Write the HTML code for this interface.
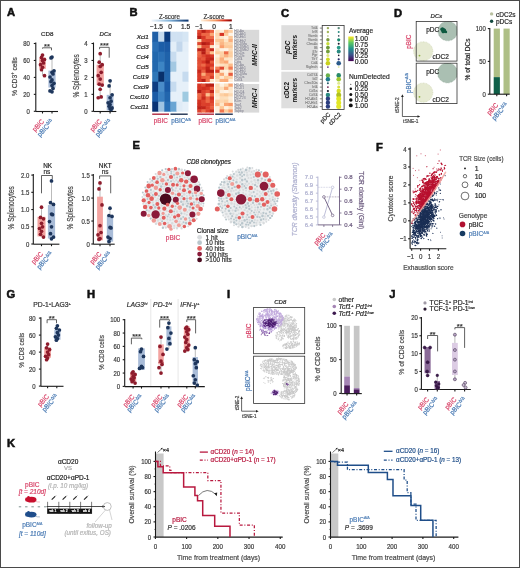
<!DOCTYPE html>
<html><head><meta charset="utf-8"><style>
html,body{margin:0;padding:0;background:#fff;}
#fig{position:relative;width:520px;height:568px;overflow:hidden;background:#fff;}
svg{position:absolute;left:0;top:0;filter:blur(0.45px);}
text{font-family:"Liberation Sans", sans-serif;}
#bd{position:absolute;left:0;top:0;width:518px;height:566px;border:1px solid #4a4a4a;}
</style></head><body><div id="fig">
<svg width="520" height="568" viewBox="0 0 520 568">
<text x="7.10" y="12.00" font-size="11.2" text-anchor="start" dominant-baseline="central" fill="#111" font-weight="bold" stroke="#111" stroke-width="0.55">A</text>
<text x="47.30" y="33.50" font-size="6.2" text-anchor="middle" dominant-baseline="central" fill="#282828" stroke="#282828" stroke-width="0.2">CD8</text>
<line x1="35.80" y1="42.50" x2="35.80" y2="111.50" stroke="#1a1a1a" stroke-width="1.1"/>
<line x1="33.80" y1="43.50" x2="35.80" y2="43.50" stroke="#1a1a1a" stroke-width="1.1"/>
<text x="29.80" y="43.50" font-size="7.02" text-anchor="end" dominant-baseline="central" fill="#3a3a3a" stroke="#3a3a3a" stroke-width="0.2" textLength="6.67" lengthAdjust="spacingAndGlyphs">80</text>
<line x1="33.80" y1="60.45" x2="35.80" y2="60.45" stroke="#1a1a1a" stroke-width="1.1"/>
<text x="29.80" y="60.45" font-size="7.02" text-anchor="end" dominant-baseline="central" fill="#3a3a3a" stroke="#3a3a3a" stroke-width="0.2" textLength="6.67" lengthAdjust="spacingAndGlyphs">60</text>
<line x1="33.80" y1="77.40" x2="35.80" y2="77.40" stroke="#1a1a1a" stroke-width="1.1"/>
<text x="29.80" y="77.40" font-size="7.02" text-anchor="end" dominant-baseline="central" fill="#3a3a3a" stroke="#3a3a3a" stroke-width="0.2" textLength="6.67" lengthAdjust="spacingAndGlyphs">40</text>
<line x1="33.80" y1="94.35" x2="35.80" y2="94.35" stroke="#1a1a1a" stroke-width="1.1"/>
<text x="29.80" y="94.35" font-size="7.02" text-anchor="end" dominant-baseline="central" fill="#3a3a3a" stroke="#3a3a3a" stroke-width="0.2" textLength="6.67" lengthAdjust="spacingAndGlyphs">20</text>
<line x1="33.80" y1="111.30" x2="35.80" y2="111.30" stroke="#1a1a1a" stroke-width="1.1"/>
<text x="29.80" y="111.30" font-size="7.02" text-anchor="end" dominant-baseline="central" fill="#3a3a3a" stroke="#3a3a3a" stroke-width="0.2" textLength="3.34" lengthAdjust="spacingAndGlyphs">0</text>
<line x1="35.80" y1="111.50" x2="58.00" y2="111.50" stroke="#1a1a1a" stroke-width="1.1"/>
<line x1="42.50" y1="111.50" x2="42.50" y2="113.50" stroke="#1a1a1a" stroke-width="1.1"/>
<line x1="52.00" y1="111.50" x2="52.00" y2="113.50" stroke="#1a1a1a" stroke-width="1.1"/>
<text x="14.10" y="79.37" font-size="8.0" text-anchor="middle" fill="#474747" stroke="#474747" stroke-width="0.2" transform="rotate(-90 14.10 76.60)" textLength="38.8" lengthAdjust="spacingAndGlyphs">% CD3<tspan font-size="5" dy="-2.6">+</tspan><tspan dy="2.6"> cells</tspan></text>
<line x1="42.50" y1="55.03" x2="42.50" y2="75.70" stroke="#777" stroke-width="0.5"/>
<rect x="39.20" y="57.48" width="6.60" height="11.44" fill="#f3a3a0"/>
<circle cx="42.50" cy="55.03" r="1.85" fill="#8e1c2c"/>
<circle cx="41.50" cy="57.40" r="1.85" fill="#8e1c2c"/>
<circle cx="44.50" cy="59.60" r="1.85" fill="#8e1c2c"/>
<circle cx="42.50" cy="60.45" r="1.85" fill="#8e1c2c"/>
<circle cx="43.50" cy="62.99" r="1.85" fill="#8e1c2c"/>
<circle cx="40.50" cy="64.69" r="1.85" fill="#8e1c2c"/>
<circle cx="42.50" cy="67.23" r="1.85" fill="#8e1c2c"/>
<circle cx="41.50" cy="69.77" r="1.85" fill="#8e1c2c"/>
<circle cx="44.50" cy="75.70" r="1.85" fill="#8e1c2c"/>
<line x1="52.00" y1="57.06" x2="52.00" y2="91.81" stroke="#777" stroke-width="0.5"/>
<rect x="48.40" y="70.62" width="7.20" height="16.95" fill="#a9bcd8"/>
<circle cx="52.00" cy="57.06" r="1.85" fill="#1e365c"/>
<circle cx="51.00" cy="57.91" r="1.85" fill="#1e365c"/>
<circle cx="54.00" cy="70.87" r="1.85" fill="#1e365c"/>
<circle cx="52.00" cy="72.31" r="1.85" fill="#1e365c"/>
<circle cx="53.00" cy="74.01" r="1.85" fill="#1e365c"/>
<circle cx="50.00" cy="76.98" r="1.85" fill="#1e365c"/>
<circle cx="52.00" cy="79.94" r="1.85" fill="#1e365c"/>
<circle cx="51.00" cy="81.64" r="1.85" fill="#1e365c"/>
<circle cx="54.00" cy="83.33" r="1.85" fill="#1e365c"/>
<circle cx="52.00" cy="85.54" r="1.85" fill="#1e365c"/>
<circle cx="53.00" cy="88.42" r="1.85" fill="#1e365c"/>
<circle cx="50.00" cy="90.96" r="1.85" fill="#1e365c"/>
<circle cx="52.00" cy="91.81" r="1.85" fill="#1e365c"/>
<path d="M42.50,48.60 L42.50,47.80 L51.50,47.80 L51.50,50.30" stroke="#444" fill="none" stroke-width="0.85"/>
<text x="47.00" y="46.40" font-size="7.6" text-anchor="middle" dominant-baseline="central" fill="#333" stroke="#333" stroke-width="0.2">**</text>
<text x="42.60" y="120.30" font-size="7.0" text-anchor="end" dominant-baseline="central" fill="#d8466a" stroke="#d8466a" stroke-width="0.2" transform="rotate(-48 42.60 120.30)" textLength="13.6" lengthAdjust="spacingAndGlyphs">pBIC</text>
<text x="52.10" y="122.73" font-size="7.0" text-anchor="end" fill="#4d7db5" stroke="#4d7db5" stroke-width="0.2" transform="rotate(-48 52.10 120.30)" textLength="20.5" lengthAdjust="spacingAndGlyphs">pBIC<tspan font-size="4.6" dy="-2.4">Δ/Δ</tspan></text>
<text x="105.40" y="33.50" font-size="6" text-anchor="middle" dominant-baseline="central" fill="#282828" stroke="#282828" stroke-width="0.2" font-style="italic">DCs</text>
<line x1="93.50" y1="42.50" x2="93.50" y2="111.50" stroke="#1a1a1a" stroke-width="1.1"/>
<line x1="91.50" y1="43.50" x2="93.50" y2="43.50" stroke="#1a1a1a" stroke-width="1.1"/>
<text x="87.50" y="43.50" font-size="7.02" text-anchor="end" dominant-baseline="central" fill="#3a3a3a" stroke="#3a3a3a" stroke-width="0.2" textLength="3.34" lengthAdjust="spacingAndGlyphs">4</text>
<line x1="91.50" y1="60.45" x2="93.50" y2="60.45" stroke="#1a1a1a" stroke-width="1.1"/>
<text x="87.50" y="60.45" font-size="7.02" text-anchor="end" dominant-baseline="central" fill="#3a3a3a" stroke="#3a3a3a" stroke-width="0.2" textLength="3.34" lengthAdjust="spacingAndGlyphs">3</text>
<line x1="91.50" y1="77.40" x2="93.50" y2="77.40" stroke="#1a1a1a" stroke-width="1.1"/>
<text x="87.50" y="77.40" font-size="7.02" text-anchor="end" dominant-baseline="central" fill="#3a3a3a" stroke="#3a3a3a" stroke-width="0.2" textLength="3.34" lengthAdjust="spacingAndGlyphs">2</text>
<line x1="91.50" y1="94.35" x2="93.50" y2="94.35" stroke="#1a1a1a" stroke-width="1.1"/>
<text x="87.50" y="94.35" font-size="7.02" text-anchor="end" dominant-baseline="central" fill="#3a3a3a" stroke="#3a3a3a" stroke-width="0.2" textLength="3.34" lengthAdjust="spacingAndGlyphs">1</text>
<line x1="91.50" y1="111.30" x2="93.50" y2="111.30" stroke="#1a1a1a" stroke-width="1.1"/>
<text x="87.50" y="111.30" font-size="7.02" text-anchor="end" dominant-baseline="central" fill="#3a3a3a" stroke="#3a3a3a" stroke-width="0.2" textLength="3.34" lengthAdjust="spacingAndGlyphs">0</text>
<line x1="93.50" y1="111.50" x2="116.30" y2="111.50" stroke="#1a1a1a" stroke-width="1.1"/>
<line x1="100.20" y1="111.50" x2="100.20" y2="113.50" stroke="#1a1a1a" stroke-width="1.1"/>
<line x1="110.10" y1="111.50" x2="110.10" y2="113.50" stroke="#1a1a1a" stroke-width="1.1"/>
<text x="75.60" y="75.90" font-size="8.4" text-anchor="middle" dominant-baseline="central" fill="#474747" stroke="#474747" stroke-width="0.2" transform="rotate(-90 75.60 75.90)" textLength="43.3" lengthAdjust="spacingAndGlyphs">% Splenocytes</text>
<line x1="100.20" y1="53.67" x2="100.20" y2="97.74" stroke="#777" stroke-width="0.5"/>
<rect x="96.60" y="64.69" width="7.20" height="20.34" fill="#f3a3a0"/>
<circle cx="100.20" cy="53.67" r="1.85" fill="#8e1c2c"/>
<circle cx="99.20" cy="62.15" r="1.85" fill="#8e1c2c"/>
<circle cx="102.20" cy="64.69" r="1.85" fill="#8e1c2c"/>
<circle cx="100.20" cy="66.38" r="1.85" fill="#8e1c2c"/>
<circle cx="101.20" cy="72.31" r="1.85" fill="#8e1c2c"/>
<circle cx="98.20" cy="75.70" r="1.85" fill="#8e1c2c"/>
<circle cx="100.20" cy="79.09" r="1.85" fill="#8e1c2c"/>
<circle cx="99.20" cy="84.18" r="1.85" fill="#8e1c2c"/>
<circle cx="102.20" cy="85.03" r="1.85" fill="#8e1c2c"/>
<circle cx="100.20" cy="89.27" r="1.85" fill="#8e1c2c"/>
<circle cx="101.20" cy="96.89" r="1.85" fill="#8e1c2c"/>
<circle cx="98.20" cy="97.74" r="1.85" fill="#8e1c2c"/>
<line x1="110.10" y1="80.79" x2="110.10" y2="110.45" stroke="#777" stroke-width="0.5"/>
<rect x="106.70" y="94.86" width="6.80" height="15.59" fill="#a9bcd8"/>
<circle cx="110.10" cy="80.79" r="1.85" fill="#1e365c"/>
<circle cx="109.10" cy="85.88" r="1.85" fill="#1e365c"/>
<circle cx="112.10" cy="94.86" r="1.85" fill="#1e365c"/>
<circle cx="110.10" cy="97.74" r="1.85" fill="#1e365c"/>
<circle cx="111.10" cy="101.13" r="1.85" fill="#1e365c"/>
<circle cx="108.10" cy="102.83" r="1.85" fill="#1e365c"/>
<circle cx="110.10" cy="104.52" r="1.85" fill="#1e365c"/>
<circle cx="109.10" cy="106.22" r="1.85" fill="#1e365c"/>
<circle cx="112.10" cy="107.91" r="1.85" fill="#1e365c"/>
<circle cx="110.10" cy="108.76" r="1.85" fill="#1e365c"/>
<circle cx="111.10" cy="109.61" r="1.85" fill="#1e365c"/>
<path d="M99.60,49.20 L99.60,47.30 L109.20,47.30 L109.20,57.70" stroke="#444" fill="none" stroke-width="0.85"/>
<text x="104.40" y="45.90" font-size="7.6" text-anchor="middle" dominant-baseline="central" fill="#333" stroke="#333" stroke-width="0.2">***</text>
<text x="100.30" y="120.30" font-size="7.0" text-anchor="end" dominant-baseline="central" fill="#d8466a" stroke="#d8466a" stroke-width="0.2" transform="rotate(-48 100.30 120.30)" textLength="13.6" lengthAdjust="spacingAndGlyphs">pBIC</text>
<text x="110.20" y="122.73" font-size="7.0" text-anchor="end" fill="#4d7db5" stroke="#4d7db5" stroke-width="0.2" transform="rotate(-48 110.20 120.30)" textLength="20.5" lengthAdjust="spacingAndGlyphs">pBIC<tspan font-size="4.6" dy="-2.4">Δ/Δ</tspan></text>
<text x="47.60" y="165.00" font-size="6.4" text-anchor="middle" dominant-baseline="central" fill="#282828" stroke="#282828" stroke-width="0.2">NK</text>
<line x1="33.30" y1="174.00" x2="33.30" y2="244.20" stroke="#1a1a1a" stroke-width="1.1"/>
<line x1="31.30" y1="175.10" x2="33.30" y2="175.10" stroke="#1a1a1a" stroke-width="1.1"/>
<text x="29.30" y="175.10" font-size="7.02" text-anchor="end" dominant-baseline="central" fill="#3a3a3a" stroke="#3a3a3a" stroke-width="0.2" textLength="8.34" lengthAdjust="spacingAndGlyphs">2.0</text>
<line x1="31.30" y1="192.32" x2="33.30" y2="192.32" stroke="#1a1a1a" stroke-width="1.1"/>
<text x="29.30" y="192.32" font-size="7.02" text-anchor="end" dominant-baseline="central" fill="#3a3a3a" stroke="#3a3a3a" stroke-width="0.2" textLength="8.34" lengthAdjust="spacingAndGlyphs">1.5</text>
<line x1="31.30" y1="209.55" x2="33.30" y2="209.55" stroke="#1a1a1a" stroke-width="1.1"/>
<text x="29.30" y="209.55" font-size="7.02" text-anchor="end" dominant-baseline="central" fill="#3a3a3a" stroke="#3a3a3a" stroke-width="0.2" textLength="8.34" lengthAdjust="spacingAndGlyphs">1.0</text>
<line x1="31.30" y1="226.78" x2="33.30" y2="226.78" stroke="#1a1a1a" stroke-width="1.1"/>
<text x="29.30" y="226.78" font-size="7.02" text-anchor="end" dominant-baseline="central" fill="#3a3a3a" stroke="#3a3a3a" stroke-width="0.2" textLength="8.34" lengthAdjust="spacingAndGlyphs">0.5</text>
<line x1="31.30" y1="244.00" x2="33.30" y2="244.00" stroke="#1a1a1a" stroke-width="1.1"/>
<text x="29.30" y="244.00" font-size="7.02" text-anchor="end" dominant-baseline="central" fill="#3a3a3a" stroke="#3a3a3a" stroke-width="0.2" textLength="3.34" lengthAdjust="spacingAndGlyphs">0</text>
<line x1="33.30" y1="244.20" x2="59.40" y2="244.20" stroke="#1a1a1a" stroke-width="1.1"/>
<line x1="41.50" y1="244.20" x2="41.50" y2="246.20" stroke="#1a1a1a" stroke-width="1.1"/>
<line x1="51.50" y1="244.20" x2="51.50" y2="246.20" stroke="#1a1a1a" stroke-width="1.1"/>
<text x="11.00" y="207.80" font-size="8.4" text-anchor="middle" dominant-baseline="central" fill="#474747" stroke="#474747" stroke-width="0.2" transform="rotate(-90 11.00 207.80)" textLength="43.2" lengthAdjust="spacingAndGlyphs">% Splenocytes</text>
<line x1="41.50" y1="207.14" x2="41.50" y2="237.11" stroke="#777" stroke-width="0.5"/>
<rect x="37.50" y="216.78" width="8.00" height="19.64" fill="#f3a3a0"/>
<circle cx="41.50" cy="207.14" r="1.85" fill="#8e1c2c"/>
<circle cx="40.50" cy="217.47" r="1.85" fill="#8e1c2c"/>
<circle cx="43.50" cy="218.85" r="1.85" fill="#8e1c2c"/>
<circle cx="41.50" cy="223.33" r="1.85" fill="#8e1c2c"/>
<circle cx="42.50" cy="226.78" r="1.85" fill="#8e1c2c"/>
<circle cx="39.50" cy="228.50" r="1.85" fill="#8e1c2c"/>
<circle cx="41.50" cy="231.25" r="1.85" fill="#8e1c2c"/>
<circle cx="40.50" cy="234.35" r="1.85" fill="#8e1c2c"/>
<circle cx="43.50" cy="237.11" r="1.85" fill="#8e1c2c"/>
<line x1="51.50" y1="180.96" x2="51.50" y2="238.83" stroke="#777" stroke-width="0.5"/>
<rect x="47.90" y="205.07" width="7.20" height="33.42" fill="#a9bcd8"/>
<circle cx="51.50" cy="180.96" r="1.85" fill="#1e365c"/>
<circle cx="50.50" cy="202.66" r="1.85" fill="#1e365c"/>
<circle cx="53.50" cy="204.38" r="1.85" fill="#1e365c"/>
<circle cx="51.50" cy="214.03" r="1.85" fill="#1e365c"/>
<circle cx="52.50" cy="214.72" r="1.85" fill="#1e365c"/>
<circle cx="49.50" cy="221.61" r="1.85" fill="#1e365c"/>
<circle cx="51.50" cy="226.78" r="1.85" fill="#1e365c"/>
<circle cx="50.50" cy="233.66" r="1.85" fill="#1e365c"/>
<circle cx="53.50" cy="237.11" r="1.85" fill="#1e365c"/>
<circle cx="51.50" cy="238.83" r="1.85" fill="#1e365c"/>
<path d="M41.50,193.30 L41.50,175.50 L52.30,175.50 L52.30,179.00" stroke="#444" fill="none" stroke-width="0.85"/>
<text x="46.90" y="171.10" font-size="6.5" text-anchor="middle" dominant-baseline="central" fill="#333" stroke="#333" stroke-width="0.2">ns</text>
<text x="41.60" y="252.80" font-size="7.0" text-anchor="end" dominant-baseline="central" fill="#d8466a" stroke="#d8466a" stroke-width="0.2" transform="rotate(-48 41.60 252.80)" textLength="13.6" lengthAdjust="spacingAndGlyphs">pBIC</text>
<text x="51.60" y="255.23" font-size="7.0" text-anchor="end" fill="#4d7db5" stroke="#4d7db5" stroke-width="0.2" transform="rotate(-48 51.60 252.80)" textLength="20.5" lengthAdjust="spacingAndGlyphs">pBIC<tspan font-size="4.6" dy="-2.4">Δ/Δ</tspan></text>
<text x="105.20" y="165.00" font-size="6.4" text-anchor="middle" dominant-baseline="central" fill="#282828" stroke="#282828" stroke-width="0.2">NKT</text>
<line x1="93.30" y1="174.00" x2="93.30" y2="244.20" stroke="#1a1a1a" stroke-width="1.1"/>
<line x1="91.30" y1="175.10" x2="93.30" y2="175.10" stroke="#1a1a1a" stroke-width="1.1"/>
<text x="89.80" y="175.10" font-size="7.02" text-anchor="end" dominant-baseline="central" fill="#3a3a3a" stroke="#3a3a3a" stroke-width="0.2" textLength="8.34" lengthAdjust="spacingAndGlyphs">1.5</text>
<line x1="91.30" y1="198.07" x2="93.30" y2="198.07" stroke="#1a1a1a" stroke-width="1.1"/>
<text x="89.80" y="198.07" font-size="7.02" text-anchor="end" dominant-baseline="central" fill="#3a3a3a" stroke="#3a3a3a" stroke-width="0.2" textLength="8.34" lengthAdjust="spacingAndGlyphs">1.0</text>
<line x1="91.30" y1="221.03" x2="93.30" y2="221.03" stroke="#1a1a1a" stroke-width="1.1"/>
<text x="89.80" y="221.03" font-size="7.02" text-anchor="end" dominant-baseline="central" fill="#3a3a3a" stroke="#3a3a3a" stroke-width="0.2" textLength="8.34" lengthAdjust="spacingAndGlyphs">0.5</text>
<line x1="91.30" y1="244.00" x2="93.30" y2="244.00" stroke="#1a1a1a" stroke-width="1.1"/>
<text x="89.80" y="244.00" font-size="7.02" text-anchor="end" dominant-baseline="central" fill="#3a3a3a" stroke="#3a3a3a" stroke-width="0.2" textLength="3.34" lengthAdjust="spacingAndGlyphs">0</text>
<line x1="93.30" y1="244.20" x2="114.70" y2="244.20" stroke="#1a1a1a" stroke-width="1.1"/>
<line x1="100.00" y1="244.20" x2="100.00" y2="246.20" stroke="#1a1a1a" stroke-width="1.1"/>
<line x1="110.00" y1="244.20" x2="110.00" y2="246.20" stroke="#1a1a1a" stroke-width="1.1"/>
<text x="69.90" y="207.80" font-size="8.4" text-anchor="middle" dominant-baseline="central" fill="#474747" stroke="#474747" stroke-width="0.2" transform="rotate(-90 69.90 207.80)" textLength="43.2" lengthAdjust="spacingAndGlyphs">% Splenocytes</text>
<line x1="100.00" y1="182.91" x2="100.00" y2="240.33" stroke="#777" stroke-width="0.5"/>
<rect x="97.10" y="196.69" width="5.80" height="43.64" fill="#f3a3a0"/>
<circle cx="100.00" cy="182.91" r="1.85" fill="#8e1c2c"/>
<circle cx="99.00" cy="188.88" r="1.85" fill="#8e1c2c"/>
<circle cx="102.00" cy="204.96" r="1.85" fill="#8e1c2c"/>
<circle cx="100.00" cy="225.63" r="1.85" fill="#8e1c2c"/>
<circle cx="101.00" cy="232.52" r="1.85" fill="#8e1c2c"/>
<circle cx="98.00" cy="234.81" r="1.85" fill="#8e1c2c"/>
<circle cx="100.00" cy="238.49" r="1.85" fill="#8e1c2c"/>
<circle cx="99.00" cy="239.41" r="1.85" fill="#8e1c2c"/>
<line x1="110.00" y1="208.17" x2="110.00" y2="241.70" stroke="#777" stroke-width="0.5"/>
<rect x="106.85" y="215.52" width="6.30" height="26.18" fill="#a9bcd8"/>
<circle cx="110.00" cy="208.17" r="1.85" fill="#1e365c"/>
<circle cx="109.00" cy="215.52" r="1.85" fill="#1e365c"/>
<circle cx="112.00" cy="216.44" r="1.85" fill="#1e365c"/>
<circle cx="110.00" cy="227.46" r="1.85" fill="#1e365c"/>
<circle cx="111.00" cy="227.92" r="1.85" fill="#1e365c"/>
<circle cx="108.00" cy="237.11" r="1.85" fill="#1e365c"/>
<circle cx="110.00" cy="238.49" r="1.85" fill="#1e365c"/>
<circle cx="109.00" cy="241.70" r="1.85" fill="#1e365c"/>
<path d="M99.60,178.90 L99.60,175.90 L110.70,175.90 L110.70,193.30" stroke="#444" fill="none" stroke-width="0.85"/>
<text x="105.15" y="171.50" font-size="6.5" text-anchor="middle" dominant-baseline="central" fill="#333" stroke="#333" stroke-width="0.2">ns</text>
<text x="100.10" y="252.80" font-size="7.0" text-anchor="end" dominant-baseline="central" fill="#d8466a" stroke="#d8466a" stroke-width="0.2" transform="rotate(-48 100.10 252.80)" textLength="13.6" lengthAdjust="spacingAndGlyphs">pBIC</text>
<text x="110.10" y="255.23" font-size="7.0" text-anchor="end" fill="#4d7db5" stroke="#4d7db5" stroke-width="0.2" transform="rotate(-48 110.10 252.80)" textLength="20.5" lengthAdjust="spacingAndGlyphs">pBIC<tspan font-size="4.6" dy="-2.4">Δ/Δ</tspan></text>
<text x="129.50" y="12.30" font-size="11.2" text-anchor="start" dominant-baseline="central" fill="#111" font-weight="bold" stroke="#111" stroke-width="0.55">B</text>
<defs><linearGradient id="gBlue" x1="0" x2="1" y1="0" y2="0"><stop offset="0" stop-color="#f2f7fc"/><stop offset="0.5" stop-color="#7fb1d8"/><stop offset="1" stop-color="#08306b"/></linearGradient><linearGradient id="gRed" x1="0" x2="1" y1="0" y2="0"><stop offset="0" stop-color="#fff0dc"/><stop offset="0.45" stop-color="#f7a06a"/><stop offset="0.75" stop-color="#d7301f"/><stop offset="1" stop-color="#7f0000"/></linearGradient><linearGradient id="gVir" x1="0" x2="0" y1="1" y2="0"><stop offset="0" stop-color="#440154"/><stop offset="0.25" stop-color="#3b528b"/><stop offset="0.5" stop-color="#21918c"/><stop offset="0.75" stop-color="#5ec962"/><stop offset="1" stop-color="#fde725"/></linearGradient></defs>
<text x="169.40" y="16.30" font-size="7.2" text-anchor="middle" dominant-baseline="central" fill="#333" stroke="#333" stroke-width="0.2" textLength="21.0" lengthAdjust="spacingAndGlyphs">Z-score</text>
<rect x="151.50" y="19.60" width="37.00" height="2.00" fill="url(#gBlue)"/>
<text x="156.50" y="26.20" font-size="6.6" text-anchor="middle" dominant-baseline="central" fill="#282828" stroke="#282828" stroke-width="0.2">−1.5</text>
<text x="170.20" y="26.20" font-size="6.6" text-anchor="middle" dominant-baseline="central" fill="#282828" stroke="#282828" stroke-width="0.2">0</text>
<text x="185.50" y="26.20" font-size="6.6" text-anchor="middle" dominant-baseline="central" fill="#282828" stroke="#282828" stroke-width="0.2">1.5</text>
<rect x="152.20" y="31.70" width="6.55" height="10.50" fill="#1f5fa6"/>
<rect x="158.25" y="31.70" width="6.55" height="10.50" fill="#c6dbef"/>
<rect x="164.30" y="31.70" width="6.55" height="10.50" fill="#0b3b7e"/>
<rect x="170.35" y="31.70" width="6.55" height="10.50" fill="#d0e1f2"/>
<rect x="176.40" y="31.70" width="6.55" height="10.50" fill="#d0e1f2"/>
<rect x="182.45" y="31.70" width="6.05" height="10.50" fill="#d6e6f4"/>
<text x="148.70" y="36.90" font-size="6.2" text-anchor="end" dominant-baseline="central" fill="#222" stroke="#222" stroke-width="0.2" font-style="italic">Xcl1</text>
<rect x="152.20" y="41.70" width="6.55" height="10.50" fill="#2a6fb5"/>
<rect x="158.25" y="41.70" width="6.55" height="10.50" fill="#1c5ea8"/>
<rect x="164.30" y="41.70" width="6.55" height="10.50" fill="#1b5aa5"/>
<rect x="170.35" y="41.70" width="6.55" height="10.50" fill="#e3eef8"/>
<rect x="176.40" y="41.70" width="6.55" height="10.50" fill="#c3d7ec"/>
<rect x="182.45" y="41.70" width="6.05" height="10.50" fill="#e3eef8"/>
<text x="148.70" y="46.90" font-size="6.2" text-anchor="end" dominant-baseline="central" fill="#222" stroke="#222" stroke-width="0.2" font-style="italic">Ccl3</text>
<rect x="152.20" y="51.70" width="6.55" height="10.50" fill="#2268ae"/>
<rect x="158.25" y="51.70" width="6.55" height="10.50" fill="#2a70b6"/>
<rect x="164.30" y="51.70" width="6.55" height="10.50" fill="#1f62aa"/>
<rect x="170.35" y="51.70" width="6.55" height="10.50" fill="#c8dcef"/>
<rect x="176.40" y="51.70" width="6.55" height="10.50" fill="#e6f0f9"/>
<rect x="182.45" y="51.70" width="6.05" height="10.50" fill="#e6f0f9"/>
<text x="148.70" y="56.90" font-size="6.2" text-anchor="end" dominant-baseline="central" fill="#222" stroke="#222" stroke-width="0.2" font-style="italic">Ccl4</text>
<rect x="152.20" y="61.70" width="6.55" height="10.50" fill="#2268ae"/>
<rect x="158.25" y="61.70" width="6.55" height="10.50" fill="#3d85c4"/>
<rect x="164.30" y="61.70" width="6.55" height="10.50" fill="#1f62aa"/>
<rect x="170.35" y="61.70" width="6.55" height="10.50" fill="#a3c8e2"/>
<rect x="176.40" y="61.70" width="6.55" height="10.50" fill="#e6f0f9"/>
<rect x="182.45" y="61.70" width="6.05" height="10.50" fill="#e6f0f9"/>
<text x="148.70" y="66.90" font-size="6.2" text-anchor="end" dominant-baseline="central" fill="#222" stroke="#222" stroke-width="0.2" font-style="italic">Ccl5</text>
<rect x="152.20" y="71.70" width="6.55" height="10.50" fill="#2f77b8"/>
<rect x="158.25" y="71.70" width="6.55" height="10.50" fill="#08306b"/>
<rect x="164.30" y="71.70" width="6.55" height="10.50" fill="#2266ad"/>
<rect x="170.35" y="71.70" width="6.55" height="10.50" fill="#e6f0f9"/>
<rect x="176.40" y="71.70" width="6.55" height="10.50" fill="#e6f0f9"/>
<rect x="182.45" y="71.70" width="6.05" height="10.50" fill="#c6dbef"/>
<text x="148.70" y="76.90" font-size="6.2" text-anchor="end" dominant-baseline="central" fill="#222" stroke="#222" stroke-width="0.2" font-style="italic">Ccl19</text>
<rect x="152.20" y="81.70" width="6.55" height="10.50" fill="#0e3d82"/>
<rect x="158.25" y="81.70" width="6.55" height="10.50" fill="#4a8dc9"/>
<rect x="164.30" y="81.70" width="6.55" height="10.50" fill="#1b5ba6"/>
<rect x="170.35" y="81.70" width="6.55" height="10.50" fill="#c6dbef"/>
<rect x="176.40" y="81.70" width="6.55" height="10.50" fill="#e6f0f9"/>
<rect x="182.45" y="81.70" width="6.05" height="10.50" fill="#e6f0f9"/>
<text x="148.70" y="86.90" font-size="6.2" text-anchor="end" dominant-baseline="central" fill="#222" stroke="#222" stroke-width="0.2" font-style="italic">Cxcl9</text>
<rect x="152.20" y="91.70" width="6.55" height="10.50" fill="#1b5ba6"/>
<rect x="158.25" y="91.70" width="6.55" height="10.50" fill="#3a80c1"/>
<rect x="164.30" y="91.70" width="6.55" height="10.50" fill="#2266ad"/>
<rect x="170.35" y="91.70" width="6.55" height="10.50" fill="#e6f0f9"/>
<rect x="176.40" y="91.70" width="6.55" height="10.50" fill="#e6f0f9"/>
<rect x="182.45" y="91.70" width="6.05" height="10.50" fill="#9ecae1"/>
<text x="148.70" y="96.90" font-size="6.2" text-anchor="end" dominant-baseline="central" fill="#222" stroke="#222" stroke-width="0.2" font-style="italic">Cxcl10</text>
<rect x="152.20" y="101.70" width="6.55" height="10.00" fill="#0a3375"/>
<rect x="158.25" y="101.70" width="6.55" height="10.00" fill="#a0c4e2"/>
<rect x="164.30" y="101.70" width="6.55" height="10.00" fill="#2a70b6"/>
<rect x="170.35" y="101.70" width="6.55" height="10.00" fill="#6aa5d3"/>
<rect x="176.40" y="101.70" width="6.55" height="10.00" fill="#e0ecf7"/>
<rect x="182.45" y="101.70" width="6.05" height="10.00" fill="#e6f0f9"/>
<text x="148.70" y="106.90" font-size="6.2" text-anchor="end" dominant-baseline="central" fill="#222" stroke="#222" stroke-width="0.2" font-style="italic">Cxcl11</text>
<rect x="152.20" y="113.50" width="16.80" height="1.40" fill="#b0283f"/>
<rect x="170.50" y="113.50" width="17.20" height="1.40" fill="#1f3050"/>
<text x="160.80" y="120.60" font-size="6.3" text-anchor="middle" dominant-baseline="central" fill="#d8466a" stroke="#d8466a" stroke-width="0.2">pBIC</text>
<text x="171.20" y="122.78" font-size="6.3" text-anchor="start" fill="#4d7db5" stroke="#4d7db5" stroke-width="0.2">pBIC<tspan font-size="3.6" dy="-2.2">Δ/Δ</tspan></text>
<text x="214.00" y="16.10" font-size="7.2" text-anchor="middle" dominant-baseline="central" fill="#333" stroke="#333" stroke-width="0.2" textLength="21.2" lengthAdjust="spacingAndGlyphs">Z-score</text>
<rect x="201.00" y="19.40" width="30.80" height="2.00" fill="url(#gRed)"/>
<text x="199.10" y="26.20" font-size="6.6" text-anchor="middle" dominant-baseline="central" fill="#282828" stroke="#282828" stroke-width="0.2">−1</text>
<text x="214.00" y="26.20" font-size="6.6" text-anchor="middle" dominant-baseline="central" fill="#282828" stroke="#282828" stroke-width="0.2">0</text>
<text x="230.90" y="26.20" font-size="6.6" text-anchor="middle" dominant-baseline="central" fill="#282828" stroke="#282828" stroke-width="0.2">1</text>
<rect x="197.20" y="29.80" width="4.70" height="3.57" fill="#df4730"/>
<rect x="201.40" y="29.80" width="4.70" height="3.57" fill="#ba2017"/>
<rect x="205.60" y="29.80" width="4.70" height="3.57" fill="#dc422d"/>
<rect x="209.80" y="29.80" width="4.20" height="3.57" fill="#eb6040"/>
<rect x="197.20" y="32.87" width="4.70" height="3.57" fill="#d73726"/>
<rect x="201.40" y="32.87" width="4.70" height="3.57" fill="#ed6846"/>
<rect x="205.60" y="32.87" width="4.70" height="3.57" fill="#ed6846"/>
<rect x="209.80" y="32.87" width="4.20" height="3.57" fill="#fba977"/>
<rect x="197.20" y="35.94" width="4.70" height="3.57" fill="#b61d14"/>
<rect x="201.40" y="35.94" width="4.70" height="3.57" fill="#d83827"/>
<rect x="205.60" y="35.94" width="4.70" height="3.57" fill="#ef6f4a"/>
<rect x="209.80" y="35.94" width="4.20" height="3.57" fill="#ee6b48"/>
<rect x="197.20" y="39.01" width="4.70" height="3.57" fill="#fdd8b0"/>
<rect x="201.40" y="39.01" width="4.70" height="3.57" fill="#df4831"/>
<rect x="205.60" y="39.01" width="4.70" height="3.57" fill="#dc412c"/>
<rect x="209.80" y="39.01" width="4.20" height="3.57" fill="#dd432e"/>
<rect x="197.20" y="42.08" width="4.70" height="3.57" fill="#df4730"/>
<rect x="201.40" y="42.08" width="4.70" height="3.57" fill="#b31a13"/>
<rect x="205.60" y="42.08" width="4.70" height="3.57" fill="#c3261b"/>
<rect x="209.80" y="42.08" width="4.20" height="3.57" fill="#e55439"/>
<rect x="197.20" y="45.15" width="4.70" height="3.57" fill="#fcc593"/>
<rect x="201.40" y="45.15" width="4.70" height="3.57" fill="#e14c33"/>
<rect x="205.60" y="45.15" width="4.70" height="3.57" fill="#e24d34"/>
<rect x="209.80" y="45.15" width="4.20" height="3.57" fill="#fee5c6"/>
<rect x="197.20" y="48.22" width="4.70" height="3.57" fill="#bc2117"/>
<rect x="201.40" y="48.22" width="4.70" height="3.57" fill="#b41b14"/>
<rect x="205.60" y="48.22" width="4.70" height="3.57" fill="#ee6a47"/>
<rect x="209.80" y="48.22" width="4.20" height="3.57" fill="#ca2b1e"/>
<rect x="197.20" y="51.29" width="4.70" height="3.57" fill="#ed6946"/>
<rect x="201.40" y="51.29" width="4.70" height="3.57" fill="#b61d15"/>
<rect x="205.60" y="51.29" width="4.70" height="3.57" fill="#ed6644"/>
<rect x="209.80" y="51.29" width="4.20" height="3.57" fill="#fcc18f"/>
<rect x="197.20" y="54.36" width="4.70" height="3.57" fill="#eb6041"/>
<rect x="201.40" y="54.36" width="4.70" height="3.57" fill="#df4831"/>
<rect x="205.60" y="54.36" width="4.70" height="3.57" fill="#cf2e20"/>
<rect x="209.80" y="54.36" width="4.20" height="3.57" fill="#d73625"/>
<rect x="197.20" y="57.44" width="4.70" height="3.57" fill="#e04a32"/>
<rect x="201.40" y="57.44" width="4.70" height="3.57" fill="#e7583b"/>
<rect x="205.60" y="57.44" width="4.70" height="3.57" fill="#c7291d"/>
<rect x="209.80" y="57.44" width="4.20" height="3.57" fill="#be2319"/>
<rect x="197.20" y="60.51" width="4.70" height="3.57" fill="#e14d34"/>
<rect x="201.40" y="60.51" width="4.70" height="3.57" fill="#d73625"/>
<rect x="205.60" y="60.51" width="4.70" height="3.57" fill="#b31b13"/>
<rect x="209.80" y="60.51" width="4.20" height="3.57" fill="#e7593c"/>
<rect x="197.20" y="63.58" width="4.70" height="3.57" fill="#e45338"/>
<rect x="201.40" y="63.58" width="4.70" height="3.57" fill="#ee6a47"/>
<rect x="205.60" y="63.58" width="4.70" height="3.57" fill="#d93b29"/>
<rect x="209.80" y="63.58" width="4.20" height="3.57" fill="#d83a27"/>
<rect x="197.20" y="66.65" width="4.70" height="3.57" fill="#df4730"/>
<rect x="201.40" y="66.65" width="4.70" height="3.57" fill="#de442e"/>
<rect x="205.60" y="66.65" width="4.70" height="3.57" fill="#c02419"/>
<rect x="209.80" y="66.65" width="4.20" height="3.57" fill="#ec6342"/>
<rect x="197.20" y="69.72" width="4.70" height="3.57" fill="#c6281c"/>
<rect x="201.40" y="69.72" width="4.70" height="3.57" fill="#ea5f40"/>
<rect x="205.60" y="69.72" width="4.70" height="3.57" fill="#b91e16"/>
<rect x="209.80" y="69.72" width="4.20" height="3.57" fill="#b81e15"/>
<rect x="197.20" y="72.79" width="4.70" height="3.57" fill="#d83927"/>
<rect x="201.40" y="72.79" width="4.70" height="3.57" fill="#fbab79"/>
<rect x="205.60" y="72.79" width="4.70" height="3.57" fill="#e85b3d"/>
<rect x="209.80" y="72.79" width="4.20" height="3.57" fill="#e8593c"/>
<rect x="197.20" y="75.86" width="4.70" height="3.57" fill="#d93a28"/>
<rect x="201.40" y="75.86" width="4.70" height="3.57" fill="#eb6141"/>
<rect x="205.60" y="75.86" width="4.70" height="3.57" fill="#ee6a47"/>
<rect x="209.80" y="75.86" width="4.20" height="3.57" fill="#da3d2a"/>
<rect x="197.20" y="78.93" width="4.70" height="3.07" fill="#d83827"/>
<rect x="201.40" y="78.93" width="4.70" height="3.07" fill="#bb2017"/>
<rect x="205.60" y="78.93" width="4.70" height="3.07" fill="#ef6f4a"/>
<rect x="209.80" y="78.93" width="4.20" height="3.07" fill="#fee6c9"/>
<rect x="215.20" y="29.80" width="4.90" height="3.57" fill="#fee4c5"/>
<rect x="219.60" y="29.80" width="4.90" height="3.57" fill="#feefdb"/>
<rect x="224.00" y="29.80" width="4.90" height="3.57" fill="#fbb17f"/>
<rect x="228.40" y="29.80" width="4.40" height="3.57" fill="#fdcfa2"/>
<rect x="215.20" y="32.87" width="4.90" height="3.57" fill="#fdd5ab"/>
<rect x="219.60" y="32.87" width="4.90" height="3.57" fill="#d63424"/>
<rect x="224.00" y="32.87" width="4.90" height="3.57" fill="#fdcc9d"/>
<rect x="228.40" y="32.87" width="4.40" height="3.57" fill="#fef4e5"/>
<rect x="215.20" y="35.94" width="4.90" height="3.57" fill="#fddcb7"/>
<rect x="219.60" y="35.94" width="4.90" height="3.57" fill="#fee6c9"/>
<rect x="224.00" y="35.94" width="4.90" height="3.57" fill="#fef1e0"/>
<rect x="228.40" y="35.94" width="4.40" height="3.57" fill="#fdc999"/>
<rect x="215.20" y="39.01" width="4.90" height="3.57" fill="#fdc998"/>
<rect x="219.60" y="39.01" width="4.90" height="3.57" fill="#fcc290"/>
<rect x="224.00" y="39.01" width="4.90" height="3.57" fill="#fee5c6"/>
<rect x="228.40" y="39.01" width="4.40" height="3.57" fill="#fbaf7d"/>
<rect x="215.20" y="42.08" width="4.90" height="3.57" fill="#fde1bf"/>
<rect x="219.60" y="42.08" width="4.90" height="3.57" fill="#fbb684"/>
<rect x="224.00" y="42.08" width="4.90" height="3.57" fill="#fdd2a6"/>
<rect x="228.40" y="42.08" width="4.40" height="3.57" fill="#fdd5ab"/>
<rect x="215.20" y="45.15" width="4.90" height="3.57" fill="#fef1e0"/>
<rect x="219.60" y="45.15" width="4.90" height="3.57" fill="#fa9f6d"/>
<rect x="224.00" y="45.15" width="4.90" height="3.57" fill="#fdca9a"/>
<rect x="228.40" y="45.15" width="4.40" height="3.57" fill="#fdc999"/>
<rect x="215.20" y="48.22" width="4.90" height="3.57" fill="#fddfbc"/>
<rect x="219.60" y="48.22" width="4.90" height="3.57" fill="#fef1e0"/>
<rect x="224.00" y="48.22" width="4.90" height="3.57" fill="#fef3e5"/>
<rect x="228.40" y="48.22" width="4.40" height="3.57" fill="#fddcb7"/>
<rect x="215.20" y="51.29" width="4.90" height="3.57" fill="#fdcc9d"/>
<rect x="219.60" y="51.29" width="4.90" height="3.57" fill="#fdd2a7"/>
<rect x="224.00" y="51.29" width="4.90" height="3.57" fill="#ee6c48"/>
<rect x="228.40" y="51.29" width="4.40" height="3.57" fill="#fdcea0"/>
<rect x="215.20" y="54.36" width="4.90" height="3.57" fill="#feedd7"/>
<rect x="219.60" y="54.36" width="4.90" height="3.57" fill="#fdcfa2"/>
<rect x="224.00" y="54.36" width="4.90" height="3.57" fill="#fbb17f"/>
<rect x="228.40" y="54.36" width="4.40" height="3.57" fill="#fdcfa1"/>
<rect x="215.20" y="57.44" width="4.90" height="3.57" fill="#fde0bd"/>
<rect x="219.60" y="57.44" width="4.90" height="3.57" fill="#fbad7b"/>
<rect x="224.00" y="57.44" width="4.90" height="3.57" fill="#fde3c3"/>
<rect x="228.40" y="57.44" width="4.40" height="3.57" fill="#fee6ca"/>
<rect x="215.20" y="60.51" width="4.90" height="3.57" fill="#fddbb6"/>
<rect x="219.60" y="60.51" width="4.90" height="3.57" fill="#fcb886"/>
<rect x="224.00" y="60.51" width="4.90" height="3.57" fill="#fba775"/>
<rect x="228.40" y="60.51" width="4.40" height="3.57" fill="#feedd8"/>
<rect x="215.20" y="63.58" width="4.90" height="3.57" fill="#fee8cd"/>
<rect x="219.60" y="63.58" width="4.90" height="3.57" fill="#fde1c0"/>
<rect x="224.00" y="63.58" width="4.90" height="3.57" fill="#fddbb6"/>
<rect x="228.40" y="63.58" width="4.40" height="3.57" fill="#fcba88"/>
<rect x="215.20" y="66.65" width="4.90" height="3.57" fill="#f58458"/>
<rect x="219.60" y="66.65" width="4.90" height="3.57" fill="#df4730"/>
<rect x="224.00" y="66.65" width="4.90" height="3.57" fill="#fdd6ad"/>
<rect x="228.40" y="66.65" width="4.40" height="3.57" fill="#f27b52"/>
<rect x="215.20" y="69.72" width="4.90" height="3.57" fill="#d93c29"/>
<rect x="219.60" y="69.72" width="4.90" height="3.57" fill="#feead1"/>
<rect x="224.00" y="69.72" width="4.90" height="3.57" fill="#fef2e3"/>
<rect x="228.40" y="69.72" width="4.40" height="3.57" fill="#fddfbc"/>
<rect x="215.20" y="72.79" width="4.90" height="3.57" fill="#fdcfa2"/>
<rect x="219.60" y="72.79" width="4.90" height="3.57" fill="#faa573"/>
<rect x="224.00" y="72.79" width="4.90" height="3.57" fill="#feecd5"/>
<rect x="228.40" y="72.79" width="4.40" height="3.57" fill="#e95c3e"/>
<rect x="215.20" y="75.86" width="4.90" height="3.57" fill="#fdcb9b"/>
<rect x="219.60" y="75.86" width="4.90" height="3.57" fill="#fee8ce"/>
<rect x="224.00" y="75.86" width="4.90" height="3.57" fill="#fdcc9d"/>
<rect x="228.40" y="75.86" width="4.40" height="3.57" fill="#fdd2a7"/>
<rect x="215.20" y="78.93" width="4.90" height="3.07" fill="#fde3c2"/>
<rect x="219.60" y="78.93" width="4.90" height="3.07" fill="#fbae7c"/>
<rect x="224.00" y="78.93" width="4.90" height="3.07" fill="#fbaa78"/>
<rect x="228.40" y="78.93" width="4.40" height="3.07" fill="#feefdb"/>
<rect x="197.20" y="83.50" width="4.70" height="3.73" fill="#d73726"/>
<rect x="201.40" y="83.50" width="4.70" height="3.73" fill="#e24e35"/>
<rect x="205.60" y="83.50" width="4.70" height="3.73" fill="#bf2319"/>
<rect x="209.80" y="83.50" width="4.20" height="3.73" fill="#b81e16"/>
<rect x="197.20" y="86.73" width="4.70" height="3.73" fill="#d63524"/>
<rect x="201.40" y="86.73" width="4.70" height="3.73" fill="#d02f21"/>
<rect x="205.60" y="86.73" width="4.70" height="3.73" fill="#d73625"/>
<rect x="209.80" y="86.73" width="4.20" height="3.73" fill="#e95d3f"/>
<rect x="197.20" y="89.97" width="4.70" height="3.73" fill="#b41b14"/>
<rect x="201.40" y="89.97" width="4.70" height="3.73" fill="#db3f2b"/>
<rect x="205.60" y="89.97" width="4.70" height="3.73" fill="#e55338"/>
<rect x="209.80" y="89.97" width="4.20" height="3.73" fill="#c2251a"/>
<rect x="197.20" y="93.20" width="4.70" height="3.73" fill="#ee6946"/>
<rect x="201.40" y="93.20" width="4.70" height="3.73" fill="#db3e2a"/>
<rect x="205.60" y="93.20" width="4.70" height="3.73" fill="#fcc08e"/>
<rect x="209.80" y="93.20" width="4.20" height="3.73" fill="#ee6b47"/>
<rect x="197.20" y="96.43" width="4.70" height="3.73" fill="#eb6141"/>
<rect x="201.40" y="96.43" width="4.70" height="3.73" fill="#c92a1d"/>
<rect x="205.60" y="96.43" width="4.70" height="3.73" fill="#ec6343"/>
<rect x="209.80" y="96.43" width="4.20" height="3.73" fill="#cf2f21"/>
<rect x="197.20" y="99.67" width="4.70" height="3.73" fill="#d33222"/>
<rect x="201.40" y="99.67" width="4.70" height="3.73" fill="#dd442e"/>
<rect x="205.60" y="99.67" width="4.70" height="3.73" fill="#ed6946"/>
<rect x="209.80" y="99.67" width="4.20" height="3.73" fill="#dc402c"/>
<rect x="197.20" y="102.90" width="4.70" height="3.73" fill="#cf2f20"/>
<rect x="201.40" y="102.90" width="4.70" height="3.73" fill="#dc412c"/>
<rect x="205.60" y="102.90" width="4.70" height="3.73" fill="#da3d2a"/>
<rect x="209.80" y="102.90" width="4.20" height="3.73" fill="#e24e35"/>
<rect x="197.20" y="106.13" width="4.70" height="3.73" fill="#bd2218"/>
<rect x="201.40" y="106.13" width="4.70" height="3.73" fill="#c2251a"/>
<rect x="205.60" y="106.13" width="4.70" height="3.73" fill="#dc412c"/>
<rect x="209.80" y="106.13" width="4.20" height="3.73" fill="#ea5e3f"/>
<rect x="197.20" y="109.37" width="4.70" height="3.23" fill="#dd432d"/>
<rect x="201.40" y="109.37" width="4.70" height="3.23" fill="#ef6e4a"/>
<rect x="205.60" y="109.37" width="4.70" height="3.23" fill="#dc412d"/>
<rect x="209.80" y="109.37" width="4.20" height="3.23" fill="#c7291d"/>
<rect x="215.20" y="83.50" width="4.90" height="3.73" fill="#fddab3"/>
<rect x="219.60" y="83.50" width="4.90" height="3.73" fill="#fef1e1"/>
<rect x="224.00" y="83.50" width="4.90" height="3.73" fill="#fde0bd"/>
<rect x="228.40" y="83.50" width="4.40" height="3.73" fill="#faa472"/>
<rect x="215.20" y="86.73" width="4.90" height="3.73" fill="#fddbb6"/>
<rect x="219.60" y="86.73" width="4.90" height="3.73" fill="#fddebb"/>
<rect x="224.00" y="86.73" width="4.90" height="3.73" fill="#fba876"/>
<rect x="228.40" y="86.73" width="4.40" height="3.73" fill="#fee6c8"/>
<rect x="215.20" y="89.97" width="4.90" height="3.73" fill="#fdd0a3"/>
<rect x="219.60" y="89.97" width="4.90" height="3.73" fill="#feeedb"/>
<rect x="224.00" y="89.97" width="4.90" height="3.73" fill="#fef3e5"/>
<rect x="228.40" y="89.97" width="4.40" height="3.73" fill="#feead1"/>
<rect x="215.20" y="93.20" width="4.90" height="3.73" fill="#fee5c8"/>
<rect x="219.60" y="93.20" width="4.90" height="3.73" fill="#fdd0a3"/>
<rect x="224.00" y="93.20" width="4.90" height="3.73" fill="#fcc795"/>
<rect x="228.40" y="93.20" width="4.40" height="3.73" fill="#fdd8b1"/>
<rect x="215.20" y="96.43" width="4.90" height="3.73" fill="#feebd4"/>
<rect x="219.60" y="96.43" width="4.90" height="3.73" fill="#fddeba"/>
<rect x="224.00" y="96.43" width="4.90" height="3.73" fill="#fde0bd"/>
<rect x="228.40" y="96.43" width="4.40" height="3.73" fill="#feedd8"/>
<rect x="215.20" y="99.67" width="4.90" height="3.73" fill="#fdcfa2"/>
<rect x="219.60" y="99.67" width="4.90" height="3.73" fill="#fdd7af"/>
<rect x="224.00" y="99.67" width="4.90" height="3.73" fill="#fdd0a4"/>
<rect x="228.40" y="99.67" width="4.40" height="3.73" fill="#feead0"/>
<rect x="215.20" y="102.90" width="4.90" height="3.73" fill="#fcb886"/>
<rect x="219.60" y="102.90" width="4.90" height="3.73" fill="#fee6c8"/>
<rect x="224.00" y="102.90" width="4.90" height="3.73" fill="#faa472"/>
<rect x="228.40" y="102.90" width="4.40" height="3.73" fill="#fa9664"/>
<rect x="215.20" y="106.13" width="4.90" height="3.73" fill="#feeeda"/>
<rect x="219.60" y="106.13" width="4.90" height="3.73" fill="#fdc896"/>
<rect x="224.00" y="106.13" width="4.90" height="3.73" fill="#fef0de"/>
<rect x="228.40" y="106.13" width="4.40" height="3.73" fill="#fddfbc"/>
<rect x="215.20" y="109.37" width="4.90" height="3.23" fill="#feefdb"/>
<rect x="219.60" y="109.37" width="4.90" height="3.23" fill="#f1754e"/>
<rect x="224.00" y="109.37" width="4.90" height="3.23" fill="#fdcb9b"/>
<rect x="228.40" y="109.37" width="4.40" height="3.23" fill="#fa9b69"/>
<rect x="234.00" y="29.80" width="25.20" height="52.00" fill="#d9d9d9"/>
<rect x="234.00" y="84.00" width="25.20" height="28.60" fill="#d9d9d9"/>
<text x="234.30" y="31.34" font-size="3.4" text-anchor="start" dominant-baseline="central" fill="#8c8c9a" stroke="#8c8c9a" stroke-width="0.08">H2-Aa</text>
<text x="234.30" y="34.41" font-size="3.4" text-anchor="start" dominant-baseline="central" fill="#8c8c9a" stroke="#8c8c9a" stroke-width="0.08">H2-Ab1</text>
<text x="234.30" y="37.48" font-size="3.4" text-anchor="start" dominant-baseline="central" fill="#8c8c9a" stroke="#8c8c9a" stroke-width="0.08">H2-Eb1</text>
<text x="234.30" y="40.55" font-size="3.4" text-anchor="start" dominant-baseline="central" fill="#8c8c9a" stroke="#8c8c9a" stroke-width="0.08">H2-Eb2</text>
<text x="234.30" y="43.62" font-size="3.4" text-anchor="start" dominant-baseline="central" fill="#8c8c9a" stroke="#8c8c9a" stroke-width="0.08">H2-DMa</text>
<text x="234.30" y="46.69" font-size="3.4" text-anchor="start" dominant-baseline="central" fill="#8c8c9a" stroke="#8c8c9a" stroke-width="0.08">H2-DMb1</text>
<text x="234.30" y="49.76" font-size="3.4" text-anchor="start" dominant-baseline="central" fill="#8c8c9a" stroke="#8c8c9a" stroke-width="0.08">H2-DMb2</text>
<text x="234.30" y="52.83" font-size="3.4" text-anchor="start" dominant-baseline="central" fill="#8c8c9a" stroke="#8c8c9a" stroke-width="0.08">H2-Oa</text>
<text x="234.30" y="55.90" font-size="3.4" text-anchor="start" dominant-baseline="central" fill="#8c8c9a" stroke="#8c8c9a" stroke-width="0.08">H2-Ob</text>
<text x="234.30" y="58.97" font-size="3.4" text-anchor="start" dominant-baseline="central" fill="#8c8c9a" stroke="#8c8c9a" stroke-width="0.08">Cd74</text>
<text x="234.30" y="62.04" font-size="3.4" text-anchor="start" dominant-baseline="central" fill="#8c8c9a" stroke="#8c8c9a" stroke-width="0.08">Ciita</text>
<text x="234.30" y="65.11" font-size="3.4" text-anchor="start" dominant-baseline="central" fill="#8c8c9a" stroke="#8c8c9a" stroke-width="0.08">H2-Aa</text>
<text x="234.30" y="68.18" font-size="3.4" text-anchor="start" dominant-baseline="central" fill="#8c8c9a" stroke="#8c8c9a" stroke-width="0.08">H2-Ab1</text>
<text x="234.30" y="71.25" font-size="3.4" text-anchor="start" dominant-baseline="central" fill="#8c8c9a" stroke="#8c8c9a" stroke-width="0.08">H2-Eb1</text>
<text x="234.30" y="74.32" font-size="3.4" text-anchor="start" dominant-baseline="central" fill="#8c8c9a" stroke="#8c8c9a" stroke-width="0.08">H2-DMa</text>
<text x="234.30" y="77.39" font-size="3.4" text-anchor="start" dominant-baseline="central" fill="#8c8c9a" stroke="#8c8c9a" stroke-width="0.08">H2-Oa</text>
<text x="234.30" y="80.46" font-size="3.4" text-anchor="start" dominant-baseline="central" fill="#8c8c9a" stroke="#8c8c9a" stroke-width="0.08">Cd74</text>
<text x="234.30" y="85.12" font-size="3.4" text-anchor="start" dominant-baseline="central" fill="#8c8c9a" stroke="#8c8c9a" stroke-width="0.08">H2-K1</text>
<text x="234.30" y="88.35" font-size="3.4" text-anchor="start" dominant-baseline="central" fill="#8c8c9a" stroke="#8c8c9a" stroke-width="0.08">H2-D1</text>
<text x="234.30" y="91.58" font-size="3.4" text-anchor="start" dominant-baseline="central" fill="#8c8c9a" stroke="#8c8c9a" stroke-width="0.08">H2-Q4</text>
<text x="234.30" y="94.82" font-size="3.4" text-anchor="start" dominant-baseline="central" fill="#8c8c9a" stroke="#8c8c9a" stroke-width="0.08">H2-Q7</text>
<text x="234.30" y="98.05" font-size="3.4" text-anchor="start" dominant-baseline="central" fill="#8c8c9a" stroke="#8c8c9a" stroke-width="0.08">H2-T23</text>
<text x="234.30" y="101.28" font-size="3.4" text-anchor="start" dominant-baseline="central" fill="#8c8c9a" stroke="#8c8c9a" stroke-width="0.08">B2m</text>
<text x="234.30" y="104.52" font-size="3.4" text-anchor="start" dominant-baseline="central" fill="#8c8c9a" stroke="#8c8c9a" stroke-width="0.08">Tap1</text>
<text x="234.30" y="107.75" font-size="3.4" text-anchor="start" dominant-baseline="central" fill="#8c8c9a" stroke="#8c8c9a" stroke-width="0.08">Tap2</text>
<text x="234.30" y="110.98" font-size="3.4" text-anchor="start" dominant-baseline="central" fill="#8c8c9a" stroke="#8c8c9a" stroke-width="0.08">Tapbp</text>
<text x="254.20" y="54.90" font-size="6.8" text-anchor="middle" dominant-baseline="central" fill="#111" font-style="italic" font-weight="bold" transform="rotate(-90 254.20 54.90)">MHC-II</text>
<text x="254.20" y="98.20" font-size="6.8" text-anchor="middle" dominant-baseline="central" fill="#111" font-style="italic" font-weight="bold" transform="rotate(-90 254.20 98.20)">MHC-I</text>
<rect x="197.20" y="113.50" width="16.80" height="1.40" fill="#b0283f"/>
<rect x="215.20" y="113.50" width="17.60" height="1.40" fill="#1f3050"/>
<text x="205.60" y="120.60" font-size="6.3" text-anchor="middle" dominant-baseline="central" fill="#d8466a" stroke="#d8466a" stroke-width="0.2">pBIC</text>
<text x="215.60" y="122.78" font-size="6.3" text-anchor="start" fill="#4d7db5" stroke="#4d7db5" stroke-width="0.2">pBIC<tspan font-size="3.6" dy="-2.2">Δ/Δ</tspan></text>
<text x="281.10" y="12.50" font-size="11.2" text-anchor="start" dominant-baseline="central" fill="#111" font-weight="bold" stroke="#111" stroke-width="0.55">C</text>
<rect x="281.30" y="25.20" width="37.00" height="44.90" fill="#dedede"/>
<rect x="281.30" y="71.70" width="37.00" height="36.60" fill="#dedede"/>
<text x="287.40" y="47.30" font-size="6.6" text-anchor="middle" dominant-baseline="central" fill="#111" font-style="italic" font-weight="bold" transform="rotate(-90 287.40 47.30)">pDC</text>
<text x="295.00" y="47.30" font-size="6.3" text-anchor="middle" dominant-baseline="central" fill="#111" font-weight="bold" transform="rotate(-90 295.00 47.30)">markers</text>
<text x="287.00" y="90.30" font-size="6.5" text-anchor="middle" dominant-baseline="central" fill="#111" font-weight="bold" transform="rotate(-90 287.00 90.30)">cDC2</text>
<text x="295.00" y="90.30" font-size="6.3" text-anchor="middle" dominant-baseline="central" fill="#111" font-weight="bold" transform="rotate(-90 295.00 90.30)">markers</text>
<text x="317.50" y="28.10" font-size="3.6" text-anchor="end" dominant-baseline="central" fill="#7a7a7a" stroke="#7a7a7a" stroke-width="0.1">Tcf4</text>
<line x1="319.80" y1="28.10" x2="322.20" y2="28.10" stroke="#333" stroke-width="0.6"/>
<text x="317.50" y="32.00" font-size="3.6" text-anchor="end" dominant-baseline="central" fill="#7a7a7a" stroke="#7a7a7a" stroke-width="0.1">Irf8</text>
<line x1="319.80" y1="32.00" x2="322.20" y2="32.00" stroke="#333" stroke-width="0.6"/>
<text x="317.50" y="35.90" font-size="3.6" text-anchor="end" dominant-baseline="central" fill="#7a7a7a" stroke="#7a7a7a" stroke-width="0.1">Gzmb</text>
<line x1="319.80" y1="35.90" x2="322.20" y2="35.90" stroke="#333" stroke-width="0.6"/>
<text x="317.50" y="39.80" font-size="3.6" text-anchor="end" dominant-baseline="central" fill="#7a7a7a" stroke="#7a7a7a" stroke-width="0.1">Gzmb</text>
<line x1="319.80" y1="39.80" x2="322.20" y2="39.80" stroke="#333" stroke-width="0.6"/>
<text x="317.50" y="43.70" font-size="3.6" text-anchor="end" dominant-baseline="central" fill="#7a7a7a" stroke="#7a7a7a" stroke-width="0.1">Clec4c</text>
<line x1="319.80" y1="43.70" x2="322.20" y2="43.70" stroke="#333" stroke-width="0.6"/>
<text x="317.50" y="47.60" font-size="3.6" text-anchor="end" dominant-baseline="central" fill="#7a7a7a" stroke="#7a7a7a" stroke-width="0.1">Il6</text>
<line x1="319.80" y1="47.60" x2="322.20" y2="47.60" stroke="#333" stroke-width="0.6"/>
<text x="317.50" y="51.50" font-size="3.6" text-anchor="end" dominant-baseline="central" fill="#7a7a7a" stroke="#7a7a7a" stroke-width="0.1">Il7r</text>
<line x1="319.80" y1="51.50" x2="322.20" y2="51.50" stroke="#333" stroke-width="0.6"/>
<text x="317.50" y="55.40" font-size="3.6" text-anchor="end" dominant-baseline="central" fill="#7a7a7a" stroke="#7a7a7a" stroke-width="0.1">Pgr</text>
<line x1="319.80" y1="55.40" x2="322.20" y2="55.40" stroke="#333" stroke-width="0.6"/>
<text x="317.50" y="59.30" font-size="3.6" text-anchor="end" dominant-baseline="central" fill="#7a7a7a" stroke="#7a7a7a" stroke-width="0.1">Tlr7</text>
<line x1="319.80" y1="59.30" x2="322.20" y2="59.30" stroke="#333" stroke-width="0.6"/>
<text x="317.50" y="63.20" font-size="3.6" text-anchor="end" dominant-baseline="central" fill="#7a7a7a" stroke="#7a7a7a" stroke-width="0.1">Cd4</text>
<line x1="319.80" y1="63.20" x2="322.20" y2="63.20" stroke="#333" stroke-width="0.6"/>
<text x="317.50" y="67.10" font-size="3.6" text-anchor="end" dominant-baseline="central" fill="#7a7a7a" stroke="#7a7a7a" stroke-width="0.1">Siglech</text>
<line x1="319.80" y1="67.10" x2="322.20" y2="67.10" stroke="#333" stroke-width="0.6"/>
<text x="317.50" y="75.40" font-size="3.6" text-anchor="end" dominant-baseline="central" fill="#7a7a7a" stroke="#7a7a7a" stroke-width="0.1">Cd274</text>
<line x1="319.80" y1="75.40" x2="322.20" y2="75.40" stroke="#333" stroke-width="0.6"/>
<text x="317.50" y="79.30" font-size="3.6" text-anchor="end" dominant-baseline="central" fill="#7a7a7a" stroke="#7a7a7a" stroke-width="0.1">Id2</text>
<line x1="319.80" y1="79.30" x2="322.20" y2="79.30" stroke="#333" stroke-width="0.6"/>
<text x="317.50" y="83.20" font-size="3.6" text-anchor="end" dominant-baseline="central" fill="#7a7a7a" stroke="#7a7a7a" stroke-width="0.1">Clec10a</text>
<line x1="319.80" y1="83.20" x2="322.20" y2="83.20" stroke="#333" stroke-width="0.6"/>
<text x="317.50" y="87.10" font-size="3.6" text-anchor="end" dominant-baseline="central" fill="#7a7a7a" stroke="#7a7a7a" stroke-width="0.1">Irf4</text>
<line x1="319.80" y1="87.10" x2="322.20" y2="87.10" stroke="#333" stroke-width="0.6"/>
<text x="317.50" y="91.00" font-size="3.6" text-anchor="end" dominant-baseline="central" fill="#7a7a7a" stroke="#7a7a7a" stroke-width="0.1">Cd1a</text>
<line x1="319.80" y1="91.00" x2="322.20" y2="91.00" stroke="#333" stroke-width="0.6"/>
<text x="317.50" y="94.90" font-size="3.6" text-anchor="end" dominant-baseline="central" fill="#7a7a7a" stroke="#7a7a7a" stroke-width="0.1">Cd74</text>
<line x1="319.80" y1="94.90" x2="322.20" y2="94.90" stroke="#333" stroke-width="0.6"/>
<text x="317.50" y="98.80" font-size="3.6" text-anchor="end" dominant-baseline="central" fill="#7a7a7a" stroke="#7a7a7a" stroke-width="0.1">H2-Ab1</text>
<line x1="319.80" y1="98.80" x2="322.20" y2="98.80" stroke="#333" stroke-width="0.6"/>
<text x="317.50" y="102.70" font-size="3.6" text-anchor="end" dominant-baseline="central" fill="#7a7a7a" stroke="#7a7a7a" stroke-width="0.1">H2-Eb1</text>
<line x1="319.80" y1="102.70" x2="322.20" y2="102.70" stroke="#333" stroke-width="0.6"/>
<text x="317.50" y="106.60" font-size="3.6" text-anchor="end" dominant-baseline="central" fill="#7a7a7a" stroke="#7a7a7a" stroke-width="0.1">H2-Aa</text>
<line x1="319.80" y1="106.60" x2="322.20" y2="106.60" stroke="#333" stroke-width="0.6"/>
<rect x="322.20" y="25.40" width="21.90" height="84.00" fill="#ffffff" stroke="#333" stroke-width="0.8"/>
<circle cx="327.90" cy="28.10" r="1.20" fill="#9aab5c"/>
<circle cx="327.90" cy="32.00" r="1.20" fill="#a6b860"/>
<circle cx="327.90" cy="35.90" r="1.00" fill="#c9d2a0"/>
<circle cx="327.90" cy="39.80" r="1.70" fill="#7d9a40"/>
<circle cx="327.90" cy="43.70" r="1.70" fill="#c6dc3a"/>
<circle cx="327.90" cy="47.60" r="1.90" fill="#6e9a3a"/>
<circle cx="327.90" cy="51.50" r="1.90" fill="#739e3c"/>
<circle cx="327.90" cy="55.40" r="1.50" fill="#dde680"/>
<circle cx="327.90" cy="59.30" r="1.90" fill="#d0dc20"/>
<circle cx="327.90" cy="63.20" r="2.30" fill="#c8d020"/>
<circle cx="327.90" cy="67.10" r="0.90" fill="#6a3d8a"/>
<circle cx="338.70" cy="28.10" r="1.20" fill="#5a8a7a"/>
<circle cx="338.70" cy="32.00" r="1.00" fill="#2a8a80"/>
<circle cx="338.70" cy="35.90" r="0.80" fill="#3a4a5a"/>
<circle cx="338.70" cy="39.80" r="1.60" fill="#1a8a70"/>
<circle cx="338.70" cy="43.70" r="1.00" fill="#1a1a2a"/>
<circle cx="338.70" cy="47.60" r="1.90" fill="#2a9a88"/>
<circle cx="338.70" cy="51.50" r="2.00" fill="#2a8a80"/>
<circle cx="338.70" cy="55.40" r="0.80" fill="#1a1a2a"/>
<circle cx="338.70" cy="59.30" r="1.10" fill="#2a2a6a"/>
<circle cx="338.70" cy="63.20" r="2.30" fill="#2a5a8a"/>
<circle cx="338.70" cy="67.10" r="1.00" fill="#e8ecb0"/>
<circle cx="327.90" cy="75.40" r="2.20" fill="#6ab04c"/>
<circle cx="327.90" cy="79.30" r="2.20" fill="#1f7a8c"/>
<circle cx="327.90" cy="83.20" r="1.00" fill="#2a5a6a"/>
<circle cx="327.90" cy="87.10" r="0.90" fill="#6a1a4a"/>
<circle cx="327.90" cy="91.00" r="1.10" fill="#1a1a2a"/>
<circle cx="327.90" cy="94.90" r="2.20" fill="#2a8a80"/>
<circle cx="327.90" cy="98.80" r="2.20" fill="#2d3f7f"/>
<circle cx="327.90" cy="102.70" r="2.20" fill="#2d3f7f"/>
<circle cx="327.90" cy="106.60" r="2.20" fill="#2d3f7f"/>
<circle cx="338.70" cy="75.40" r="2.30" fill="#2a8a6a"/>
<circle cx="338.70" cy="79.30" r="2.30" fill="#a0c830"/>
<circle cx="338.70" cy="83.20" r="1.50" fill="#e0e890"/>
<circle cx="338.70" cy="87.10" r="1.50" fill="#d8e040"/>
<circle cx="338.70" cy="91.00" r="2.20" fill="#d8e020"/>
<circle cx="338.70" cy="94.90" r="2.50" fill="#b0c020"/>
<circle cx="338.70" cy="98.80" r="2.50" fill="#e0e620"/>
<circle cx="338.70" cy="102.70" r="2.50" fill="#e2e624"/>
<circle cx="338.70" cy="106.60" r="2.50" fill="#e4e628"/>
<text x="329.50" y="113.50" font-size="6" text-anchor="end" dominant-baseline="central" fill="#282828" stroke="#282828" stroke-width="0.2" transform="rotate(-45 329.50 113.50)">pDC</text>
<text x="340.20" y="113.50" font-size="6" text-anchor="end" dominant-baseline="central" fill="#282828" stroke="#282828" stroke-width="0.2" transform="rotate(-45 340.20 113.50)">cDC2</text>
<text x="348.90" y="30.70" font-size="7.2" text-anchor="start" dominant-baseline="central" fill="#2a2a2a" stroke="#2a2a2a" stroke-width="0.2" textLength="24.2" lengthAdjust="spacingAndGlyphs">Average</text>
<rect x="348.30" y="36.50" width="5.40" height="24.60" fill="url(#gVir)"/>
<text x="354.70" y="38.40" font-size="6.8" text-anchor="start" dominant-baseline="central" fill="#282828" stroke="#282828" stroke-width="0.2">1.00</text>
<text x="354.70" y="44.20" font-size="6.8" text-anchor="start" dominant-baseline="central" fill="#282828" stroke="#282828" stroke-width="0.2">0.75</text>
<text x="354.70" y="50.00" font-size="6.8" text-anchor="start" dominant-baseline="central" fill="#282828" stroke="#282828" stroke-width="0.2">0.50</text>
<text x="354.70" y="55.50" font-size="6.8" text-anchor="start" dominant-baseline="central" fill="#282828" stroke="#282828" stroke-width="0.2">0.25</text>
<text x="354.70" y="61.10" font-size="6.8" text-anchor="start" dominant-baseline="central" fill="#282828" stroke="#282828" stroke-width="0.2">0.00</text>
<text x="348.90" y="76.20" font-size="7.2" text-anchor="start" dominant-baseline="central" fill="#2a2a2a" stroke="#2a2a2a" stroke-width="0.2" textLength="40.7" lengthAdjust="spacingAndGlyphs">NumDetected</text>
<circle cx="350.80" cy="84.20" r="0.55" fill="#111"/>
<circle cx="350.80" cy="88.80" r="1.25" fill="#111"/>
<circle cx="350.80" cy="94.60" r="1.50" fill="#111"/>
<circle cx="350.80" cy="100.00" r="1.75" fill="#111"/>
<circle cx="350.80" cy="105.40" r="1.95" fill="#111"/>
<text x="354.70" y="83.50" font-size="6.8" text-anchor="start" dominant-baseline="central" fill="#282828" stroke="#282828" stroke-width="0.2">0.00</text>
<text x="354.70" y="88.80" font-size="6.8" text-anchor="start" dominant-baseline="central" fill="#282828" stroke="#282828" stroke-width="0.2">0.25</text>
<text x="354.70" y="94.20" font-size="6.8" text-anchor="start" dominant-baseline="central" fill="#282828" stroke="#282828" stroke-width="0.2">0.50</text>
<text x="354.70" y="99.60" font-size="6.8" text-anchor="start" dominant-baseline="central" fill="#282828" stroke="#282828" stroke-width="0.2">0.75</text>
<text x="354.70" y="105.40" font-size="6.8" text-anchor="start" dominant-baseline="central" fill="#282828" stroke="#282828" stroke-width="0.2">1.00</text>
<text x="394.10" y="12.90" font-size="11.2" text-anchor="start" dominant-baseline="central" fill="#111" font-weight="bold" stroke="#111" stroke-width="0.55">D</text>
<text x="436.40" y="15.50" font-size="6" text-anchor="middle" dominant-baseline="central" fill="#282828" stroke="#282828" stroke-width="0.2" font-style="italic">DCs</text>
<clipPath id="cD1"><rect x="405" y="21.5" width="52.1" height="40"/></clipPath>
<clipPath id="cD2"><rect x="405" y="63" width="52.1" height="40.6"/></clipPath>
<g clip-path="url(#cD1)">
<circle cx="447.80" cy="31.00" r="9.80" fill="#aabfb2" stroke="#7f9a8a" stroke-width="0.6" stroke-dasharray="0.8 0.8"/>
<circle cx="423.20" cy="51.30" r="9.60" fill="#e6ead2" stroke="#c8d0a8" stroke-width="0.6" stroke-dasharray="0.8 0.8"/>
<path d="M440,29 q2,-3 4,-1 q3,1 2,4 q-2,2 -4,1 z" stroke="none" fill="#0e5a40" stroke-width="0.8"/>
<circle cx="446.00" cy="32.00" r="1.20" fill="#0e5a40"/>
</g>
<g clip-path="url(#cD2)">
<circle cx="447.50" cy="72.90" r="10.00" fill="#aabfb2" stroke="#7f9a8a" stroke-width="0.6" stroke-dasharray="0.8 0.8"/>
<circle cx="423.20" cy="92.60" r="9.60" fill="#e6ead2" stroke="#c8d0a8" stroke-width="0.6" stroke-dasharray="0.8 0.8"/>
</g>
<circle cx="419.50" cy="55.60" r="0.90" fill="#8db040"/>
<circle cx="419.50" cy="96.80" r="0.90" fill="#8db040"/>
<rect x="416.20" y="21.50" width="40.80" height="39.60" fill="none" stroke="#333" stroke-width="0.8"/>
<rect x="416.20" y="63.20" width="40.80" height="40.40" fill="none" stroke="#333" stroke-width="0.8"/>
<text x="432.70" y="29.90" font-size="6.5" text-anchor="middle" dominant-baseline="central" fill="#282828" stroke="#282828" stroke-width="0.2">pDC</text>
<text x="440.70" y="56.80" font-size="6.5" text-anchor="middle" dominant-baseline="central" fill="#282828" stroke="#282828" stroke-width="0.2">cDC2</text>
<text x="432.70" y="71.10" font-size="6.5" text-anchor="middle" dominant-baseline="central" fill="#282828" stroke="#282828" stroke-width="0.2">pDC</text>
<text x="440.70" y="99.10" font-size="6.5" text-anchor="middle" dominant-baseline="central" fill="#282828" stroke="#282828" stroke-width="0.2">cDC2</text>
<text x="408.40" y="41.70" font-size="6.3" text-anchor="middle" dominant-baseline="central" fill="#d8466a" stroke="#d8466a" stroke-width="0.2" transform="rotate(-90 408.40 41.70)">pBIC</text>
<text x="408.40" y="85.28" font-size="6.3" text-anchor="middle" fill="#4d7db5" stroke="#4d7db5" stroke-width="0.2" transform="rotate(-90 408.40 83.10)">pBIC<tspan font-size="3.6" dy="-2.2">Δ/Δ</tspan></text>
<line x1="402.40" y1="116.50" x2="402.40" y2="96.00" stroke="#222" stroke-width="0.7"/>
<path d="M401.1,97 L402.4,94.3 L403.7,97 Z" stroke="none" fill="#222" stroke-width="0.8"/>
<line x1="402.40" y1="116.50" x2="418.50" y2="116.50" stroke="#222" stroke-width="0.7"/>
<path d="M417.5,115.2 L420.2,116.5 L417.5,117.8 Z" stroke="none" fill="#222" stroke-width="0.8"/>
<text x="397.80" y="105.10" font-size="4.8" text-anchor="middle" dominant-baseline="central" fill="#444" stroke="#444" stroke-width="0.2" transform="rotate(-90 397.80 105.10)">tSNE-2</text>
<text x="410.80" y="121.20" font-size="4.8" text-anchor="middle" dominant-baseline="central" fill="#444" stroke="#444" stroke-width="0.2">tSNE-1</text>
<circle cx="491.60" cy="13.90" r="1.70" fill="#b9c0a0"/>
<text x="496.00" y="14.20" font-size="6.5" text-anchor="start" dominant-baseline="central" fill="#282828" stroke="#282828" stroke-width="0.2">cDC2s</text>
<circle cx="491.60" cy="21.20" r="1.70" fill="#134a40"/>
<text x="496.00" y="21.00" font-size="6.5" text-anchor="start" dominant-baseline="central" fill="#282828" stroke="#282828" stroke-width="0.2">pDCs</text>
<rect x="493.70" y="28.60" width="6.20" height="48.54" fill="#aebf86"/>
<rect x="493.70" y="77.14" width="6.20" height="17.06" fill="#0f5f48"/>
<rect x="503.50" y="28.60" width="6.20" height="65.60" fill="#aebf86"/>
<line x1="489.80" y1="28.00" x2="489.80" y2="94.20" stroke="#1a1a1a" stroke-width="1.1"/>
<line x1="487.80" y1="28.60" x2="489.80" y2="28.60" stroke="#1a1a1a" stroke-width="1.1"/>
<text x="485.80" y="28.60" font-size="7.02" text-anchor="end" dominant-baseline="central" fill="#3a3a3a" stroke="#3a3a3a" stroke-width="0.2" textLength="10.01" lengthAdjust="spacingAndGlyphs">100</text>
<line x1="487.80" y1="61.40" x2="489.80" y2="61.40" stroke="#1a1a1a" stroke-width="1.1"/>
<text x="485.80" y="61.40" font-size="7.02" text-anchor="end" dominant-baseline="central" fill="#3a3a3a" stroke="#3a3a3a" stroke-width="0.2" textLength="6.67" lengthAdjust="spacingAndGlyphs">50</text>
<line x1="487.80" y1="94.20" x2="489.80" y2="94.20" stroke="#1a1a1a" stroke-width="1.1"/>
<text x="485.80" y="94.20" font-size="7.02" text-anchor="end" dominant-baseline="central" fill="#3a3a3a" stroke="#3a3a3a" stroke-width="0.2" textLength="3.34" lengthAdjust="spacingAndGlyphs">0</text>
<line x1="489.80" y1="94.20" x2="509.70" y2="94.20" stroke="#1a1a1a" stroke-width="1.1"/>
<line x1="496.80" y1="94.20" x2="496.80" y2="96.20" stroke="#1a1a1a" stroke-width="1.1"/>
<line x1="506.60" y1="94.20" x2="506.60" y2="96.20" stroke="#1a1a1a" stroke-width="1.1"/>
<text x="467.90" y="59.40" font-size="6.6" text-anchor="middle" dominant-baseline="central" fill="#282828" stroke="#282828" stroke-width="0.2" transform="rotate(-90 467.90 59.40)">% of total DCs</text>
<text x="496.90" y="103.80" font-size="7.0" text-anchor="end" dominant-baseline="central" fill="#d8466a" stroke="#d8466a" stroke-width="0.2" transform="rotate(-48 496.90 103.80)" textLength="13.6" lengthAdjust="spacingAndGlyphs">pBIC</text>
<text x="506.70" y="106.23" font-size="7.0" text-anchor="end" fill="#4d7db5" stroke="#4d7db5" stroke-width="0.2" transform="rotate(-48 506.70 103.80)" textLength="20.5" lengthAdjust="spacingAndGlyphs">pBIC<tspan font-size="4.6" dy="-2.4">Δ/Δ</tspan></text>
<text x="132.60" y="144.60" font-size="11.2" text-anchor="start" dominant-baseline="central" fill="#111" font-weight="bold" stroke="#111" stroke-width="0.55">E</text>
<text x="208.70" y="161.90" font-size="6.3" text-anchor="middle" dominant-baseline="central" fill="#222" stroke="#222" stroke-width="0.2" font-style="italic">CD8 clonotypes</text>
<circle cx="173.20" cy="199.00" r="29.40" fill="#eceeef"/>
<circle cx="165.60" cy="199.20" r="5.80" fill="#4a0a1e"/>
<circle cx="155.60" cy="214.50" r="4.20" fill="#8b1a3a"/>
<circle cx="143.70" cy="213.70" r="3.00" fill="#8b1a3a"/>
<circle cx="167.90" cy="190.00" r="3.00" fill="#8b1a3a"/>
<circle cx="175.80" cy="199.70" r="3.00" fill="#8b1a3a"/>
<circle cx="187.90" cy="173.30" r="3.00" fill="#8b1a3a"/>
<circle cx="194.10" cy="179.20" r="3.80" fill="#8b1a3a"/>
<circle cx="197.00" cy="188.80" r="3.20" fill="#8b1a3a"/>
<circle cx="201.80" cy="199.20" r="3.00" fill="#8b1a3a"/>
<circle cx="192.40" cy="214.40" r="3.00" fill="#8b1a3a"/>
<circle cx="171.00" cy="177.00" r="2.10" fill="#e2605f"/>
<circle cx="162.40" cy="180.20" r="2.24" fill="#ef9c96"/>
<circle cx="155.90" cy="187.70" r="2.19" fill="#ef9c96"/>
<circle cx="152.30" cy="185.20" r="1.62" fill="#e2605f"/>
<circle cx="151.60" cy="198.70" r="2.35" fill="#e2605f"/>
<circle cx="148.00" cy="195.30" r="2.32" fill="#e2605f"/>
<circle cx="155.90" cy="193.90" r="1.98" fill="#e2605f"/>
<circle cx="184.00" cy="190.30" r="2.04" fill="#e2605f"/>
<circle cx="184.00" cy="198.70" r="1.61" fill="#e2605f"/>
<circle cx="190.50" cy="198.20" r="1.82" fill="#ef9c96"/>
<circle cx="186.20" cy="181.60" r="2.21" fill="#e2605f"/>
<circle cx="181.20" cy="180.20" r="2.24" fill="#e2605f"/>
<circle cx="190.50" cy="186.00" r="2.09" fill="#e2605f"/>
<circle cx="163.10" cy="213.40" r="1.60" fill="#ef9c96"/>
<circle cx="164.60" cy="223.50" r="1.77" fill="#e2605f"/>
<circle cx="169.60" cy="226.30" r="2.39" fill="#ef9c96"/>
<circle cx="176.10" cy="221.30" r="1.83" fill="#ef9c96"/>
<circle cx="178.30" cy="215.50" r="2.03" fill="#e2605f"/>
<circle cx="185.50" cy="219.10" r="1.76" fill="#ef9c96"/>
<circle cx="197.70" cy="206.20" r="2.15" fill="#ef9c96"/>
<circle cx="200.60" cy="209.00" r="2.31" fill="#e2605f"/>
<circle cx="153.80" cy="178.00" r="1.89" fill="#e2605f"/>
<circle cx="168.90" cy="169.40" r="1.72" fill="#e2605f"/>
<circle cx="175.40" cy="168.70" r="1.84" fill="#e2605f"/>
<circle cx="182.60" cy="173.00" r="1.60" fill="#e2605f"/>
<circle cx="146.50" cy="191.00" r="1.87" fill="#e2605f"/>
<circle cx="145.10" cy="206.90" r="2.25" fill="#e2605f"/>
<circle cx="150.90" cy="207.60" r="1.85" fill="#e2605f"/>
<circle cx="143.70" cy="200.40" r="2.16" fill="#e2605f"/>
<circle cx="148.70" cy="186.00" r="2.38" fill="#e2605f"/>
<circle cx="159.50" cy="173.00" r="2.20" fill="#ef9c96"/>
<circle cx="163.80" cy="174.40" r="1.61" fill="#ef9c96"/>
<circle cx="189.80" cy="223.50" r="1.89" fill="#e2605f"/>
<circle cx="197.00" cy="199.00" r="1.61" fill="#e2605f"/>
<circle cx="195.60" cy="192.50" r="1.74" fill="#ef9c96"/>
<circle cx="172.50" cy="193.20" r="1.76" fill="#ef9c96"/>
<circle cx="179.70" cy="207.60" r="2.34" fill="#ef9c96"/>
<circle cx="167.50" cy="204.70" r="1.88" fill="#e2605f"/>
<circle cx="184.80" cy="209.80" r="2.02" fill="#ef9c96"/>
<circle cx="174.70" cy="217.00" r="1.69" fill="#e2605f"/>
<circle cx="153.80" cy="220.60" r="2.24" fill="#ef9c96"/>
<circle cx="171.00" cy="229.20" r="1.63" fill="#ef9c96"/>
<circle cx="177.50" cy="203.30" r="1.67" fill="#e2605f"/>
<circle cx="178.87" cy="225.16" r="1.93" fill="#f0a09a"/>
<circle cx="177.18" cy="184.88" r="1.56" fill="#e2605f"/>
<circle cx="201.31" cy="193.41" r="1.69" fill="#f0a09a"/>
<circle cx="173.04" cy="184.86" r="2.00" fill="#e2605f"/>
<circle cx="148.62" cy="215.57" r="1.73" fill="#f0a09a"/>
<circle cx="163.71" cy="217.84" r="1.98" fill="#e2605f"/>
<circle cx="191.39" cy="203.91" r="1.78" fill="#e2605f"/>
<circle cx="160.16" cy="189.78" r="1.68" fill="#e2605f"/>
<circle cx="170.81" cy="211.27" r="2.06" fill="#e2605f"/>
<circle cx="184.38" cy="226.47" r="1.75" fill="#e2605f"/>
<circle cx="193.04" cy="207.98" r="1.56" fill="#e2605f"/>
<circle cx="172.29" cy="206.29" r="1.67" fill="#e2605f"/>
<circle cx="177.33" cy="173.53" r="2.00" fill="#f0a09a"/>
<circle cx="157.07" cy="182.15" r="1.85" fill="#e2605f"/>
<circle cx="166.41" cy="184.01" r="1.74" fill="#e2605f"/>
<circle cx="164.31" cy="208.69" r="2.08" fill="#e2605f"/>
<circle cx="159.76" cy="224.00" r="1.93" fill="#f0a09a"/>
<circle cx="189.70" cy="192.01" r="1.81" fill="#e2605f"/>
<circle cx="158.79" cy="208.01" r="1.64" fill="#e2605f"/>
<circle cx="178.95" cy="194.47" r="2.03" fill="#e2605f"/>
<circle cx="198.42" cy="213.80" r="2.11" fill="#f0a09a"/>
<circle cx="193.70" cy="220.27" r="1.99" fill="#e2605f"/>
<circle cx="149.02" cy="202.51" r="1.64" fill="#e2605f"/>
<circle cx="157.37" cy="203.91" r="2.00" fill="#e2605f"/>
<circle cx="183.98" cy="185.87" r="1.58" fill="#e2605f"/>
<path d="M180.1 189.1h0M199.7 184.7h0M165.7 169.1h0M150.9 189.9h0M192.8 195.9h0M157.8 178.8h0M181.4 213.4h0M196.3 195.6h0M162.2 170.3h0M150.7 218.6h0M171.1 181.3h0M188.1 188.8h0M158.9 195.8h0M146.6 210.3h0M188.1 203.6h0M187.1 198.7h0M182.1 196.3h0M153.5 205.2h0M152.8 195.2h0" stroke="#b9c6cc" stroke-width="2.2" stroke-linecap="round" fill="none"/>
<path d="M171.9 187.9h0M193.9 202.2h0M189.3 218.0h0M179.9 176.4h0M152.2 180.7h0M171.2 173.6h0M168.8 214.5h0M183.5 222.3h0M174.1 211.5h0M183.2 217.0h0M145.3 187.6h0M147.6 182.1h0M203.6 195.3h0M172.0 169.1h0M177.1 177.4h0M175.5 206.2h0M202.5 190.5h0M142.8 192.6h0M162.7 183.9h0M162.1 221.3h0M203.4 203.5h0M180.5 186.5h0M175.6 194.5h0M147.5 199.0h0M194.4 204.6h0M167.6 216.6h0M190.0 220.2h0M171.2 171.4h0M184.8 170.3h0M198.9 202.8h0M178.2 182.1h0M172.8 190.1h0M192.4 193.5h0M189.0 179.2h0" stroke="#b9c6cc" stroke-width="2.0" stroke-linecap="round" fill="none"/>
<path d="M189.9 207.1h0M155.3 207.4h0M183.0 204.5h0M181.0 218.7h0M161.2 186.5h0M178.9 169.1h0M181.3 201.8h0M187.1 206.1h0M174.1 175.1h0M186.0 223.1h0" stroke="#b9c6cc" stroke-width="2.6" stroke-linecap="round" fill="none"/>
<path d="M181.7 169.7h0M160.8 193.7h0M149.2 211.1h0M177.0 211.6h0M175.2 209.0h0M184.2 194.4h0M151.2 192.9h0M152.7 202.5h0M172.2 223.3h0M156.0 223.8h0M189.6 210.0h0M180.5 198.5h0M144.2 194.8h0M166.8 172.1h0" stroke="#d9dcde" stroke-width="2.6" stroke-linecap="round" fill="none"/>
<path d="M201.0 204.0h0M174.1 228.3h0M173.7 171.6h0M189.5 195.1h0M160.2 183.7h0M196.7 218.8h0M146.2 203.5h0M184.7 177.6h0M187.4 177.6h0M187.3 212.0h0M171.8 214.9h0M169.5 207.6h0M198.9 195.3h0M195.4 184.5h0M172.3 196.8h0M166.3 177.5h0M169.0 182.5h0M174.7 177.9h0M183.8 201.8h0M182.3 175.8h0M186.9 195.9h0M189.5 201.5h0M172.9 219.6h0M154.0 182.4h0M163.6 188.9h0M163.3 191.8h0M198.8 182.2h0M201.4 187.8h0M160.0 210.9h0M203.2 205.9h0M166.9 211.0h0M157.2 176.5h0M187.0 186.1h0M150.3 182.2h0M155.0 197.1h0M188.2 226.2h0M174.4 181.8h0M161.1 215.5h0M169.3 185.2h0M153.6 209.3h0M174.7 213.8h0M190.4 182.6h0M181.9 192.9h0M180.4 211.2h0M158.5 185.3h0M165.8 181.0h0M186.8 193.0h0M158.5 200.8h0M143.2 203.8h0M148.4 205.4h0M182.0 224.0h0M173.1 179.9h0" stroke="#d9dcde" stroke-width="2.0" stroke-linecap="round" fill="none"/>
<path d="M162.9 227.7h0M186.9 201.3h0M168.0 180.0h0M160.4 177.1h0" stroke="#b9c6cc" stroke-width="2.4" stroke-linecap="round" fill="none"/>
<path d="M176.1 188.2h0M157.8 198.6h0M156.2 200.7h0M167.4 219.4h0M186.8 214.8h0M168.0 174.5h0M164.4 186.5h0M195.9 210.1h0M174.2 225.8h0M175.2 190.8h0M155.7 174.0h0M196.5 202.1h0M184.5 213.7h0M173.1 203.1h0M193.6 198.6h0M153.6 191.3h0M142.5 197.0h0M192.0 189.4h0M168.0 222.8h0M185.6 203.7h0M178.2 218.9h0" stroke="#d9dcde" stroke-width="2.2" stroke-linecap="round" fill="none"/>
<path d="M177.0 228.3h0M160.5 219.3h0M170.2 217.4h0M150.1 179.2h0M161.7 205.5h0M165.8 227.6h0M176.3 180.1h0M181.6 228.3h0M180.4 183.9h0M158.0 220.5h0M165.7 215.1h0M179.5 221.6h0M170.3 220.1h0M177.8 191.1h0" stroke="#d9dcde" stroke-width="2.4" stroke-linecap="round" fill="none"/>
<text x="173.00" y="237.10" font-size="6.5" text-anchor="middle" dominant-baseline="central" fill="#d8466a" stroke="#d8466a" stroke-width="0.2">pBIC</text>
<circle cx="247.70" cy="198.00" r="28.90" fill="#eceeef"/>
<circle cx="241.10" cy="199.30" r="5.30" fill="#8b1a3a"/>
<circle cx="264.00" cy="186.10" r="4.40" fill="#8b1a3a"/>
<circle cx="220.80" cy="193.10" r="3.80" fill="#8b1a3a"/>
<circle cx="257.80" cy="174.60" r="3.00" fill="#e2605f"/>
<circle cx="265.70" cy="174.60" r="3.00" fill="#e2605f"/>
<circle cx="272.80" cy="185.20" r="2.50" fill="#e2605f"/>
<circle cx="277.20" cy="194.00" r="2.80" fill="#e2605f"/>
<circle cx="274.50" cy="209.00" r="2.80" fill="#e2605f"/>
<circle cx="217.30" cy="209.00" r="2.50" fill="#e2605f"/>
<circle cx="238.50" cy="186.60" r="2.20" fill="#e2605f"/>
<circle cx="250.80" cy="187.90" r="2.20" fill="#e2605f"/>
<circle cx="249.90" cy="199.30" r="2.20" fill="#e2605f"/>
<circle cx="257.00" cy="200.20" r="2.40" fill="#e2605f"/>
<circle cx="262.20" cy="199.30" r="2.20" fill="#e2605f"/>
<circle cx="265.70" cy="194.00" r="2.00" fill="#e2605f"/>
<circle cx="267.50" cy="202.00" r="2.00" fill="#e2605f"/>
<circle cx="264.00" cy="204.60" r="2.20" fill="#e2605f"/>
<circle cx="228.80" cy="194.90" r="2.00" fill="#e2605f"/>
<circle cx="231.40" cy="199.30" r="2.00" fill="#e2605f"/>
<circle cx="227.90" cy="206.30" r="1.80" fill="#e2605f"/>
<circle cx="252.50" cy="216.90" r="2.00" fill="#e2605f"/>
<circle cx="239.30" cy="217.80" r="1.80" fill="#e2605f"/>
<circle cx="229.73" cy="178.32" r="2.01" fill="#e2605f"/>
<circle cx="269.40" cy="180.24" r="2.09" fill="#e2605f"/>
<circle cx="232.23" cy="183.99" r="2.09" fill="#f0a09a"/>
<circle cx="242.52" cy="213.52" r="2.07" fill="#e2605f"/>
<path d="M227.3 181.6h0M260.2 209.7h0M223.9 198.8h0M238.9 213.4h0M254.4 205.0h0M256.6 225.2h0M246.1 190.5h0M259.8 222.6h0M241.3 208.8h0M257.4 220.6h0M256.5 169.7h0M251.6 171.9h0M239.5 221.3h0M265.5 198.2h0M259.7 191.8h0M222.7 205.8h0M249.1 171.0h0M234.8 201.4h0M254.2 171.0h0M234.5 177.8h0M243.2 192.7h0M256.5 212.2h0M226.5 189.4h0M248.4 178.1h0M236.0 189.9h0M239.7 190.2h0M238.6 223.4h0M270.8 203.4h0M256.9 204.8h0M232.7 171.6h0M255.2 207.4h0M252.3 168.1h0M258.2 214.3h0M245.7 226.9h0M251.0 204.6h0M241.9 220.7h0M269.9 214.4h0M225.5 195.6h0M233.8 190.7h0M273.4 204.5h0M228.3 203.2h0M227.1 175.9h0M272.7 181.0h0M257.6 210.1h0M222.2 187.5h0M266.3 221.8h0M247.2 185.3h0M269.8 176.9h0M244.4 171.8h0M251.4 192.7h0M269.2 183.8h0M247.3 167.6h0M234.0 225.2h0M262.9 191.9h0M229.6 189.0h0M262.8 195.5h0M255.7 182.5h0M270.8 201.1h0M277.0 205.8h0" stroke="#d9dcde" stroke-width="2.0" stroke-linecap="round" fill="none"/>
<path d="M253.0 202.8h0M249.7 168.3h0M261.8 178.6h0M250.1 222.7h0M230.5 213.6h0M267.4 209.3h0M241.8 172.5h0M255.1 184.9h0M257.4 216.7h0M246.9 181.4h0M248.8 206.1h0M261.0 219.8h0M226.6 197.9h0M236.1 193.8h0M219.3 187.6h0M235.5 210.7h0M245.8 187.9h0M269.8 207.7h0M240.2 174.6h0M270.2 217.9h0M273.4 190.5h0M249.4 209.0h0M246.3 207.8h0M234.7 186.9h0" stroke="#b9c6cc" stroke-width="2.4" stroke-linecap="round" fill="none"/>
<path d="M254.3 226.1h0M251.6 210.8h0M236.3 224.3h0M247.4 214.8h0M253.7 192.1h0M261.3 172.0h0M268.0 215.8h0M260.5 224.9h0M228.6 187.0h0M271.0 191.2h0M246.1 224.6h0M266.1 213.6h0M242.8 217.2h0M227.1 201.1h0M232.1 188.3h0M218.8 198.1h0M244.1 174.8h0M235.9 217.7h0M265.2 180.0h0M222.2 201.3h0M245.1 179.4h0M245.6 205.2h0M254.9 196.3h0M269.8 212.0h0M269.2 188.9h0M257.9 207.4h0M263.4 212.9h0M277.2 201.2h0M232.2 216.2h0M252.0 220.9h0M236.4 208.2h0M267.5 206.0h0M221.3 198.7h0M272.0 215.9h0" stroke="#b9c6cc" stroke-width="2.2" stroke-linecap="round" fill="none"/>
<path d="M269.7 198.9h0M251.7 207.3h0M228.2 216.5h0M245.4 183.8h0M226.0 192.4h0M242.7 168.5h0M228.8 219.5h0M251.2 178.1h0M238.3 169.9h0M232.6 210.4h0M261.3 193.6h0M230.6 174.8h0M225.0 202.3h0M223.3 215.4h0M248.7 228.0h0M246.4 217.1h0M255.1 210.2h0M249.4 220.1h0M254.8 219.9h0M225.1 211.2h0M224.5 187.9h0M234.4 204.0h0M223.8 185.3h0M232.2 194.7h0M250.6 174.8h0M258.3 183.2h0M225.2 217.3h0M252.6 184.2h0M236.7 179.6h0M246.9 172.7h0M249.3 191.3h0M240.3 182.2h0M234.0 196.4h0M257.4 190.5h0M248.9 183.6h0M243.3 189.8h0M253.2 174.1h0M275.1 199.1h0M247.4 196.7h0M260.9 213.5h0M221.4 203.8h0M256.3 222.8h0M268.5 220.0h0" stroke="#d9dcde" stroke-width="2.2" stroke-linecap="round" fill="none"/>
<path d="M247.3 175.4h0M243.2 206.8h0M249.7 194.7h0M230.9 222.1h0M240.2 178.1h0M226.4 214.0h0M254.6 180.2h0M257.1 194.0h0M263.6 223.1h0M273.0 213.5h0M231.2 191.1h0M231.5 203.4h0M247.5 211.5h0M237.3 175.5h0M259.9 196.1h0M242.2 187.2h0M236.7 215.0h0" stroke="#d9dcde" stroke-width="2.6" stroke-linecap="round" fill="none"/>
<path d="M251.4 181.6h0M238.2 210.0h0M244.7 209.9h0M264.0 209.3h0M266.0 219.4h0M233.3 213.7h0M236.3 171.6h0M250.4 213.3h0M224.1 179.4h0M237.5 205.1h0M265.2 216.4h0M255.0 189.1h0M269.2 195.6h0M251.5 226.1h0M272.8 197.3h0M276.5 189.2h0M245.7 194.4h0M238.5 226.6h0M260.9 181.1h0M221.1 210.4h0M228.2 191.3h0" stroke="#d9dcde" stroke-width="2.4" stroke-linecap="round" fill="none"/>
<path d="M261.0 206.7h0M274.4 201.5h0M271.8 193.5h0M253.8 177.0h0M233.4 180.3h0M219.1 200.4h0M257.0 186.5h0M233.9 174.0h0M259.1 212.1h0M254.0 222.5h0M240.5 225.0h0M252.1 196.0h0M254.1 212.6h0M230.7 208.1h0M234.3 206.6h0M231.1 218.4h0M222.1 208.1h0M234.0 219.5h0M275.5 203.8h0M277.8 198.6h0M259.8 217.3h0M222.5 212.5h0M236.4 220.5h0M225.0 205.2h0M239.7 207.3h0M225.7 208.8h0M272.8 199.8h0M263.5 219.0h0M220.2 206.5h0M255.3 214.7h0M268.4 191.4h0M248.4 224.7h0M258.9 170.3h0M249.0 217.3h0M240.6 169.5h0M247.4 222.3h0M226.2 178.0h0M232.6 176.5h0M244.4 185.9h0M242.1 176.3h0M226.1 219.6h0M229.6 181.8h0M239.1 172.2h0M247.0 219.4h0M221.8 181.9h0M253.4 200.3h0M271.2 205.6h0" stroke="#b9c6cc" stroke-width="2.0" stroke-linecap="round" fill="none"/>
<path d="M220.7 184.5h0M246.1 169.9h0M242.2 223.2h0M236.4 182.3h0M244.6 220.4h0M242.2 180.1h0M224.3 182.3h0M262.5 215.9h0M238.6 192.7h0M242.3 184.2h0M218.8 204.1h0M234.2 222.5h0M242.4 227.0h0M227.9 184.3h0M258.0 180.3h0M259.4 203.9h0M247.8 203.4h0M229.0 210.8h0" stroke="#b9c6cc" stroke-width="2.6" stroke-linecap="round" fill="none"/>
<text x="247.30" y="239.35" font-size="6.5" text-anchor="middle" fill="#4d7db5" stroke="#4d7db5" stroke-width="0.2">pBIC<tspan font-size="3.6" dy="-2.2">Δ/Δ</tspan></text>
<text x="196.80" y="230.00" font-size="6.5" text-anchor="start" dominant-baseline="central" fill="#222" stroke="#222" stroke-width="0.2">Clonal size</text>
<circle cx="199.60" cy="237.30" r="2.40" fill="#d9dcde"/>
<text x="205.60" y="237.30" font-size="6.4" text-anchor="start" dominant-baseline="central" fill="#333" stroke="#333" stroke-width="0.2">1 hit</text>
<circle cx="199.60" cy="242.70" r="2.40" fill="#b9c6cc"/>
<text x="205.60" y="242.70" font-size="6.4" text-anchor="start" dominant-baseline="central" fill="#333" stroke="#333" stroke-width="0.2">10 hits</text>
<circle cx="199.60" cy="248.40" r="2.40" fill="#e2605f"/>
<text x="205.60" y="248.40" font-size="6.4" text-anchor="start" dominant-baseline="central" fill="#333" stroke="#333" stroke-width="0.2">40 hits</text>
<circle cx="199.60" cy="254.10" r="2.40" fill="#8b1a3a"/>
<text x="205.60" y="254.10" font-size="6.4" text-anchor="start" dominant-baseline="central" fill="#333" stroke="#333" stroke-width="0.2">100 hits</text>
<circle cx="199.60" cy="259.90" r="2.40" fill="#4a0a1e"/>
<text x="205.60" y="259.90" font-size="6.4" text-anchor="start" dominant-baseline="central" fill="#333" stroke="#333" stroke-width="0.2">&gt;100 hits</text>
<line x1="317.90" y1="176.50" x2="317.90" y2="224.90" stroke="#aeb0cf" stroke-width="0.9"/>
<line x1="315.90" y1="177.30" x2="317.90" y2="177.30" stroke="#aeb0cf" stroke-width="0.8"/>
<text x="313.00" y="177.30" font-size="6" text-anchor="end" dominant-baseline="central" fill="#aeb0cf" stroke="#aeb0cf" stroke-width="0.2">7.0</text>
<line x1="315.90" y1="185.23" x2="317.90" y2="185.23" stroke="#aeb0cf" stroke-width="0.8"/>
<text x="313.00" y="185.23" font-size="6" text-anchor="end" dominant-baseline="central" fill="#aeb0cf" stroke="#aeb0cf" stroke-width="0.2">6.9</text>
<line x1="315.90" y1="193.17" x2="317.90" y2="193.17" stroke="#aeb0cf" stroke-width="0.8"/>
<text x="313.00" y="193.17" font-size="6" text-anchor="end" dominant-baseline="central" fill="#aeb0cf" stroke="#aeb0cf" stroke-width="0.2">6.8</text>
<line x1="315.90" y1="201.10" x2="317.90" y2="201.10" stroke="#aeb0cf" stroke-width="0.8"/>
<text x="313.00" y="201.10" font-size="6" text-anchor="end" dominant-baseline="central" fill="#aeb0cf" stroke="#aeb0cf" stroke-width="0.2">6.7</text>
<line x1="315.90" y1="209.03" x2="317.90" y2="209.03" stroke="#aeb0cf" stroke-width="0.8"/>
<text x="313.00" y="209.03" font-size="6" text-anchor="end" dominant-baseline="central" fill="#aeb0cf" stroke="#aeb0cf" stroke-width="0.2">6.6</text>
<line x1="315.90" y1="216.97" x2="317.90" y2="216.97" stroke="#aeb0cf" stroke-width="0.8"/>
<text x="313.00" y="216.97" font-size="6" text-anchor="end" dominant-baseline="central" fill="#aeb0cf" stroke="#aeb0cf" stroke-width="0.2">6.5</text>
<line x1="315.90" y1="224.90" x2="317.90" y2="224.90" stroke="#aeb0cf" stroke-width="0.8"/>
<text x="313.00" y="224.90" font-size="6" text-anchor="end" dominant-baseline="central" fill="#aeb0cf" stroke="#aeb0cf" stroke-width="0.2">6.4</text>
<line x1="339.50" y1="176.50" x2="339.50" y2="224.90" stroke="#6b5a7e" stroke-width="0.9"/>
<line x1="339.50" y1="177.30" x2="341.50" y2="177.30" stroke="#6b5a7e" stroke-width="0.8"/>
<text x="344.20" y="177.30" font-size="6" text-anchor="start" dominant-baseline="central" fill="#6b5a7e" stroke="#6b5a7e" stroke-width="0.2">0.8</text>
<line x1="339.50" y1="189.20" x2="341.50" y2="189.20" stroke="#6b5a7e" stroke-width="0.8"/>
<text x="344.20" y="189.20" font-size="6" text-anchor="start" dominant-baseline="central" fill="#6b5a7e" stroke="#6b5a7e" stroke-width="0.2">0.7</text>
<line x1="339.50" y1="201.10" x2="341.50" y2="201.10" stroke="#6b5a7e" stroke-width="0.8"/>
<text x="344.20" y="201.10" font-size="6" text-anchor="start" dominant-baseline="central" fill="#6b5a7e" stroke="#6b5a7e" stroke-width="0.2">0.6</text>
<line x1="339.50" y1="213.00" x2="341.50" y2="213.00" stroke="#6b5a7e" stroke-width="0.8"/>
<text x="344.20" y="213.00" font-size="6" text-anchor="start" dominant-baseline="central" fill="#6b5a7e" stroke="#6b5a7e" stroke-width="0.2">0.5</text>
<line x1="339.50" y1="224.90" x2="341.50" y2="224.90" stroke="#6b5a7e" stroke-width="0.8"/>
<text x="344.20" y="224.90" font-size="6" text-anchor="start" dominant-baseline="central" fill="#6b5a7e" stroke="#6b5a7e" stroke-width="0.2">0.4</text>
<line x1="317.90" y1="224.90" x2="339.50" y2="224.90" stroke="#6b5a7e" stroke-width="0.9"/>
<line x1="323.90" y1="224.90" x2="323.90" y2="226.90" stroke="#6b5a7e" stroke-width="0.8"/>
<line x1="332.60" y1="224.90" x2="332.60" y2="226.90" stroke="#6b5a7e" stroke-width="0.8"/>
<line x1="317.90" y1="187.30" x2="332.60" y2="187.30" stroke="#aeb0cf" stroke-width="0.6" stroke-dasharray="0.8 0.8"/>
<line x1="323.90" y1="196.90" x2="339.50" y2="196.90" stroke="#6b5a7e" stroke-width="0.6" stroke-dasharray="0.8 0.8"/>
<line x1="323.90" y1="217.10" x2="332.60" y2="187.30" stroke="#aeb0cf" stroke-width="0.8"/>
<line x1="323.90" y1="196.90" x2="332.60" y2="215.40" stroke="#6b5a7e" stroke-width="0.9"/>
<circle cx="323.90" cy="217.10" r="1.30" fill="#fff" stroke="#aeb0cf" stroke-width="0.6"/>
<circle cx="332.60" cy="187.30" r="1.30" fill="#fff" stroke="#aeb0cf" stroke-width="0.6"/>
<circle cx="323.90" cy="196.90" r="1.30" fill="#fff" stroke="#6b5a7e" stroke-width="0.7"/>
<circle cx="332.60" cy="215.40" r="1.30" fill="#fff" stroke="#6b5a7e" stroke-width="0.7"/>
<text x="294.50" y="199.40" font-size="7.0" text-anchor="middle" dominant-baseline="central" fill="#aeb0cf" stroke="#aeb0cf" stroke-width="0.2" font-style="italic" transform="rotate(-90 294.50 199.40)" textLength="73.6" lengthAdjust="spacingAndGlyphs">TCR diversity (Shannon)</text>
<text x="361.10" y="200.20" font-size="7.0" text-anchor="middle" dominant-baseline="central" fill="#6b5a7e" stroke="#6b5a7e" stroke-width="0.2" transform="rotate(90 361.10 200.20)" textLength="58" lengthAdjust="spacingAndGlyphs">TCR clonality (Gini)</text>
<text x="324.00" y="233.80" font-size="7.0" text-anchor="end" dominant-baseline="central" fill="#d8466a" stroke="#d8466a" stroke-width="0.2" transform="rotate(-48 324.00 233.80)" textLength="13.6" lengthAdjust="spacingAndGlyphs">pBIC</text>
<text x="332.70" y="236.23" font-size="7.0" text-anchor="end" fill="#4d7db5" stroke="#4d7db5" stroke-width="0.2" transform="rotate(-48 332.70 233.80)" textLength="20.5" lengthAdjust="spacingAndGlyphs">pBIC<tspan font-size="4.6" dy="-2.4">Δ/Δ</tspan></text>
<text x="376.10" y="146.60" font-size="11.2" text-anchor="start" dominant-baseline="central" fill="#111" font-weight="bold" stroke="#111" stroke-width="0.55">F</text>
<line x1="410.10" y1="147.50" x2="410.10" y2="248.80" stroke="#1a1a1a" stroke-width="1.1"/>
<line x1="408.10" y1="149.00" x2="410.10" y2="149.00" stroke="#1a1a1a" stroke-width="1.1"/>
<text x="406.60" y="149.00" font-size="7.02" text-anchor="end" dominant-baseline="central" fill="#3a3a3a" stroke="#3a3a3a" stroke-width="0.2" textLength="3.34" lengthAdjust="spacingAndGlyphs">4</text>
<line x1="408.10" y1="166.95" x2="410.10" y2="166.95" stroke="#1a1a1a" stroke-width="1.1"/>
<text x="406.60" y="166.95" font-size="7.02" text-anchor="end" dominant-baseline="central" fill="#3a3a3a" stroke="#3a3a3a" stroke-width="0.2" textLength="3.34" lengthAdjust="spacingAndGlyphs">3</text>
<line x1="408.10" y1="184.90" x2="410.10" y2="184.90" stroke="#1a1a1a" stroke-width="1.1"/>
<text x="406.60" y="184.90" font-size="7.02" text-anchor="end" dominant-baseline="central" fill="#3a3a3a" stroke="#3a3a3a" stroke-width="0.2" textLength="3.34" lengthAdjust="spacingAndGlyphs">2</text>
<line x1="408.10" y1="202.85" x2="410.10" y2="202.85" stroke="#1a1a1a" stroke-width="1.1"/>
<text x="406.60" y="202.85" font-size="7.02" text-anchor="end" dominant-baseline="central" fill="#3a3a3a" stroke="#3a3a3a" stroke-width="0.2" textLength="3.34" lengthAdjust="spacingAndGlyphs">1</text>
<line x1="408.10" y1="220.80" x2="410.10" y2="220.80" stroke="#1a1a1a" stroke-width="1.1"/>
<text x="406.60" y="220.80" font-size="7.02" text-anchor="end" dominant-baseline="central" fill="#3a3a3a" stroke="#3a3a3a" stroke-width="0.2" textLength="3.34" lengthAdjust="spacingAndGlyphs">0</text>
<line x1="408.10" y1="238.75" x2="410.10" y2="238.75" stroke="#1a1a1a" stroke-width="1.1"/>
<text x="406.60" y="238.75" font-size="7.02" text-anchor="end" dominant-baseline="central" fill="#3a3a3a" stroke="#3a3a3a" stroke-width="0.2" textLength="6.84" lengthAdjust="spacingAndGlyphs">−1</text>
<line x1="410.10" y1="248.80" x2="446.30" y2="248.80" stroke="#1a1a1a" stroke-width="1.1"/>
<line x1="411.70" y1="248.80" x2="411.70" y2="250.80" stroke="#1a1a1a" stroke-width="1.1"/>
<line x1="420.60" y1="248.80" x2="420.60" y2="250.80" stroke="#1a1a1a" stroke-width="1.1"/>
<line x1="429.50" y1="248.80" x2="429.50" y2="250.80" stroke="#1a1a1a" stroke-width="1.1"/>
<line x1="438.40" y1="248.80" x2="438.40" y2="250.80" stroke="#1a1a1a" stroke-width="1.1"/>
<text x="410.50" y="256.40" font-size="7.254" text-anchor="middle" dominant-baseline="central" fill="#3a3a3a" stroke="#3a3a3a" stroke-width="0.2" textLength="7.07" lengthAdjust="spacingAndGlyphs">−1</text>
<text x="420.60" y="256.40" font-size="7.254" text-anchor="middle" dominant-baseline="central" fill="#3a3a3a" stroke="#3a3a3a" stroke-width="0.2" textLength="3.45" lengthAdjust="spacingAndGlyphs">0</text>
<text x="429.50" y="256.40" font-size="7.254" text-anchor="middle" dominant-baseline="central" fill="#3a3a3a" stroke="#3a3a3a" stroke-width="0.2" textLength="3.45" lengthAdjust="spacingAndGlyphs">1</text>
<text x="438.40" y="256.40" font-size="7.254" text-anchor="middle" dominant-baseline="central" fill="#3a3a3a" stroke="#3a3a3a" stroke-width="0.2" textLength="3.45" lengthAdjust="spacingAndGlyphs">2</text>
<text x="428.40" y="267.30" font-size="7.3" text-anchor="middle" dominant-baseline="central" fill="#474747" stroke="#474747" stroke-width="0.2" textLength="50.5" lengthAdjust="spacingAndGlyphs">Exhaustion score</text>
<text x="390.30" y="198.50" font-size="7.3" text-anchor="middle" dominant-baseline="central" fill="#474747" stroke="#474747" stroke-width="0.2" transform="rotate(-90 390.30 198.50)" textLength="45.8" lengthAdjust="spacingAndGlyphs">Cytotoxic score</text>
<path d="M422.5 225.4h0M418.9 230.0h0M428.0 206.2h0M420.3 215.1h0M422.3 226.6h0M425.3 213.1h0M427.9 212.7h0M427.5 221.4h0M411.7 223.0h0M413.3 231.1h0M427.4 217.1h0M428.0 215.7h0M427.3 224.6h0M422.0 228.8h0M423.5 222.7h0M420.5 219.0h0M427.1 220.5h0M422.2 218.2h0M428.2 221.7h0M420.6 213.7h0M432.0 214.3h0M424.1 213.0h0M424.0 211.6h0M421.4 218.0h0M420.9 214.6h0M416.0 232.6h0M413.2 228.6h0M426.3 226.1h0M427.8 208.1h0M423.1 229.8h0M422.8 224.8h0M421.8 224.5h0M428.1 216.9h0M428.5 220.3h0M428.6 209.9h0M418.1 218.0h0M415.8 232.8h0M425.4 216.5h0M418.9 234.9h0M412.7 227.1h0M415.2 218.6h0M426.4 217.1h0M424.0 221.3h0M424.5 229.1h0M427.2 217.6h0M424.1 215.5h0M422.7 206.8h0M423.2 226.4h0M425.0 221.9h0M430.4 212.6h0M429.6 211.1h0M424.5 225.1h0M423.5 217.3h0M421.6 211.1h0M434.6 198.9h0M412.5 240.9h0M420.2 221.8h0M417.2 227.7h0M411.9 243.3h0M418.1 226.2h0M422.7 216.3h0M423.4 213.5h0M414.8 225.7h0M419.5 225.9h0M415.4 234.2h0M431.2 225.9h0M428.7 221.9h0M427.7 221.8h0M423.0 212.3h0M422.8 229.8h0M413.2 229.6h0M424.0 218.7h0M414.8 220.2h0M424.3 222.0h0M425.0 206.9h0M423.2 220.9h0M428.6 225.7h0M417.6 242.3h0M416.0 224.4h0M430.9 218.6h0M417.1 243.0h0M431.5 202.8h0M435.9 205.4h0M419.6 226.5h0M426.5 212.8h0M425.4 220.7h0M440.1 218.1h0M421.0 216.3h0M431.2 212.1h0M431.6 208.1h0M426.0 214.6h0M422.2 223.4h0M436.2 214.9h0M421.3 216.0h0M432.2 205.3h0M424.0 226.0h0M428.2 199.8h0M423.3 214.8h0M415.0 222.5h0M427.5 216.4h0M425.8 211.2h0M433.1 210.4h0M416.5 230.6h0M419.1 226.2h0M423.2 212.5h0M416.7 224.3h0M427.4 227.8h0M427.0 207.8h0M437.6 218.7h0M417.7 240.3h0M422.6 219.0h0M422.7 233.4h0M421.0 216.7h0M425.7 231.3h0M423.2 211.9h0M427.4 219.0h0M424.9 210.3h0M422.9 209.0h0M414.4 232.3h0M420.4 221.0h0M418.1 239.6h0M417.5 233.1h0M415.9 232.4h0M420.5 214.7h0M421.9 224.3h0M419.2 229.2h0M427.8 213.1h0M419.7 224.1h0M422.9 218.2h0M429.9 217.8h0M429.5 207.6h0M418.7 221.7h0M426.8 226.3h0M426.8 215.3h0M431.2 193.7h0M426.4 209.0h0M415.9 237.5h0M421.1 220.3h0M422.6 227.0h0M422.9 210.1h0M423.7 218.1h0M435.4 213.2h0M425.8 215.4h0M422.3 222.7h0M426.2 223.0h0M419.0 221.1h0M423.2 223.9h0M414.3 233.6h0M429.9 225.4h0M426.1 214.7h0M426.1 214.7h0M422.0 216.7h0M423.4 221.8h0M427.5 217.2h0M418.7 222.4h0M427.9 212.4h0M424.0 210.7h0M425.1 218.8h0M429.9 215.5h0M431.6 221.5h0M419.7 215.3h0M417.7 222.2h0M420.9 224.3h0M413.2 232.4h0M424.3 219.8h0M422.0 232.4h0M425.0 207.2h0M419.8 226.8h0M421.2 215.5h0M430.6 218.4h0M419.1 216.6h0M418.5 216.1h0M423.4 224.0h0M417.7 233.3h0M427.1 208.5h0M416.2 228.7h0M417.8 226.5h0M424.0 222.4h0M427.1 220.2h0M425.6 224.4h0M427.8 213.9h0M428.4 212.5h0M418.0 236.2h0M423.4 222.5h0M417.1 231.4h0M415.3 233.7h0M427.1 207.9h0M424.1 210.6h0M432.1 214.3h0M416.7 228.7h0M424.5 216.6h0M417.4 231.4h0M424.5 223.3h0M431.5 205.9h0M421.6 224.3h0M418.3 230.4h0M427.2 216.0h0M431.2 210.2h0M420.6 221.5h0M431.3 212.3h0M424.4 226.7h0M424.8 204.6h0M436.5 211.0h0M417.5 214.2h0M432.9 206.9h0M417.0 226.0h0M425.2 226.6h0M429.5 207.0h0M425.5 217.9h0M426.6 220.6h0M432.6 214.9h0M413.7 231.9h0M425.0 216.4h0M427.3 204.4h0M412.4 244.2h0M416.2 227.7h0M418.1 227.9h0M420.2 233.7h0M429.7 217.0h0M419.5 230.7h0M431.5 207.2h0M422.1 220.8h0M423.0 218.4h0M424.1 222.5h0M428.9 217.3h0M429.1 229.2h0M423.0 223.3h0M421.0 223.2h0M427.3 207.5h0M419.7 232.7h0M420.9 223.8h0M422.7 208.7h0M436.8 228.2h0M427.5 213.2h0M428.6 209.9h0M417.3 229.4h0M430.1 212.3h0M424.5 222.9h0M429.4 209.7h0M418.9 217.4h0M430.6 206.0h0M430.4 213.1h0M432.5 219.8h0M428.0 220.1h0M425.9 208.9h0M417.6 231.6h0M426.4 229.1h0M419.9 222.0h0M440.1 199.5h0M428.1 220.5h0M414.9 237.3h0M420.0 212.2h0M415.6 237.3h0M428.5 213.5h0M433.9 200.4h0M417.7 219.6h0M423.5 214.0h0M427.6 214.2h0M421.3 226.6h0M420.5 216.8h0M431.3 208.9h0M425.0 219.3h0M414.4 241.1h0M420.2 208.0h0M429.1 218.4h0M413.8 232.6h0M429.3 203.8h0M422.6 227.9h0M417.4 225.4h0M427.9 215.4h0M418.5 227.9h0M417.2 235.8h0M423.9 221.8h0M422.4 204.0h0M419.0 233.3h0M418.4 231.7h0M416.1 225.3h0M436.1 200.0h0M420.1 213.7h0M424.6 216.4h0M421.3 212.8h0M436.4 209.8h0M426.6 225.5h0M430.6 219.0h0M414.4 230.5h0M418.7 231.5h0M426.4 220.5h0M417.1 226.2h0M424.3 217.6h0M426.6 200.0h0M424.4 206.0h0M426.1 212.1h0M428.1 206.1h0M420.8 213.2h0M426.3 213.8h0M424.7 223.9h0M419.6 222.1h0M424.6 210.9h0M424.6 213.2h0M421.3 214.4h0M424.1 221.4h0M424.1 220.1h0M422.8 215.3h0M431.2 213.3h0M429.4 226.9h0M420.0 226.5h0M419.1 216.6h0M426.2 211.2h0M434.2 212.1h0M432.3 210.3h0M431.4 207.2h0M427.6 216.1h0M422.0 206.4h0M417.3 239.5h0M426.6 223.1h0M421.7 219.7h0M417.6 220.2h0M432.9 233.4h0M419.9 221.4h0M422.7 225.1h0M419.9 216.9h0M421.2 233.6h0M415.3 218.7h0M423.9 226.3h0M414.0 219.5h0M425.2 222.0h0M426.5 212.8h0M423.2 217.5h0M425.0 219.7h0M428.8 207.8h0M416.0 230.2h0M423.5 220.1h0M423.3 221.7h0M425.8 219.3h0M420.5 221.9h0M425.6 209.2h0M417.1 235.3h0M428.7 211.0h0M417.6 222.4h0M418.8 224.7h0M414.4 236.1h0M419.9 230.3h0M433.2 214.6h0M440.3 193.4h0M414.3 225.6h0M420.3 216.1h0M427.9 199.1h0M419.7 231.1h0M431.0 218.3h0M425.5 215.4h0M427.3 197.6h0M412.4 238.2h0M424.9 211.1h0M414.8 223.4h0M423.1 207.1h0M423.0 213.4h0M430.0 210.2h0M417.1 221.8h0M418.5 223.1h0M430.8 203.8h0M420.7 234.5h0M428.5 200.9h0M420.1 224.6h0M419.2 228.0h0M425.4 210.5h0M414.8 235.1h0M422.1 221.9h0M416.2 235.4h0M429.6 209.6h0M425.6 204.4h0M418.8 225.4h0M420.8 221.0h0M428.6 214.2h0M419.9 214.1h0M420.3 235.4h0M420.3 226.7h0M412.4 221.7h0M438.8 187.9h0M422.5 225.1h0M412.3 241.9h0M419.6 215.0h0M427.6 218.2h0M423.1 226.0h0M424.8 230.3h0M420.0 225.0h0M416.1 230.1h0M413.4 230.0h0M422.7 219.7h0M428.4 208.7h0M431.4 214.9h0M427.6 220.1h0M439.6 201.7h0M429.3 204.1h0M428.9 214.6h0M415.0 245.3h0M411.9 242.3h0M425.2 211.3h0M425.0 213.5h0M424.2 221.8h0M432.5 211.2h0M415.4 229.1h0M419.0 219.4h0M421.9 221.4h0M418.4 225.8h0M415.8 217.2h0" stroke="#1b2f55" stroke-width="1.2" stroke-linecap="round" fill="none"/>
<path d="M428.1 216.9h0M422.1 232.6h0M432.7 212.5h0M429.6 206.1h0M422.2 220.1h0M430.0 207.7h0M423.2 216.5h0M422.7 223.3h0M425.0 227.0h0M433.0 216.6h0M420.6 216.4h0M417.3 226.1h0M427.3 214.8h0M435.5 207.0h0M427.9 212.5h0M420.6 236.6h0M426.0 199.0h0M427.4 230.4h0M415.7 245.5h0M428.0 224.9h0M417.5 222.8h0M424.4 230.0h0M413.9 225.9h0M423.5 219.5h0M426.4 227.3h0M432.3 217.2h0M419.1 217.7h0M426.4 214.3h0M428.4 205.1h0M432.3 200.4h0M423.5 207.2h0M417.8 243.7h0M427.8 223.4h0M425.1 210.0h0M426.1 217.7h0M417.3 227.3h0M427.7 215.0h0M426.7 222.3h0M414.4 233.0h0M433.2 206.8h0M435.6 211.8h0M431.2 211.1h0M430.4 201.9h0M422.1 215.6h0M420.8 206.9h0M429.7 209.5h0M430.7 197.6h0M429.3 219.5h0M417.3 228.3h0M422.3 221.1h0M434.9 216.2h0M427.4 211.0h0M425.5 214.9h0M429.5 219.9h0M433.7 217.3h0M421.7 225.9h0M420.6 218.2h0M428.5 212.6h0M433.5 215.2h0M425.4 216.3h0M427.7 213.2h0M427.5 226.6h0M429.0 214.7h0M424.6 216.6h0M429.9 219.9h0M423.7 226.0h0M423.2 218.2h0M427.8 216.9h0M430.5 211.9h0M423.2 227.9h0M428.2 220.5h0M422.0 233.6h0M428.3 239.6h0M424.1 215.0h0M419.6 231.1h0M421.6 209.7h0M428.8 213.1h0M425.6 206.7h0M419.7 231.3h0M416.9 225.1h0M429.2 214.8h0M420.1 214.0h0M434.0 208.3h0M425.8 223.4h0M429.0 210.6h0M429.1 195.5h0M421.4 211.1h0M413.8 230.2h0M429.1 204.7h0M423.3 209.9h0M426.4 235.4h0M423.4 226.3h0M426.8 208.5h0M426.2 213.5h0M429.9 203.5h0M430.1 213.8h0M420.8 229.1h0M425.0 212.3h0M426.2 213.5h0M423.8 238.6h0M425.4 215.2h0M422.1 208.5h0M413.4 227.5h0M433.1 195.5h0M418.9 226.7h0M424.4 234.9h0M422.4 219.5h0M428.1 216.8h0M427.0 210.1h0M426.9 212.6h0M422.3 228.4h0M420.6 227.5h0M421.0 218.6h0M426.4 211.8h0M425.6 218.9h0M430.3 219.2h0M435.6 224.0h0M418.8 243.0h0M421.8 218.9h0M428.5 207.7h0M421.4 227.3h0M429.2 204.3h0M431.7 212.5h0M420.9 220.1h0M432.4 196.3h0M414.1 235.0h0M424.0 214.9h0M434.7 192.5h0M415.6 238.8h0M424.6 219.3h0M421.6 225.3h0M430.7 199.5h0M423.5 224.4h0M423.4 226.5h0M419.2 224.2h0M427.8 231.1h0M421.3 223.1h0M424.2 223.7h0M440.5 190.2h0M427.0 219.9h0M412.4 232.4h0M431.9 214.7h0M420.5 231.1h0M424.8 209.5h0M415.3 235.0h0M441.0 209.8h0M413.3 218.8h0M414.8 242.8h0M430.1 217.3h0M426.0 227.6h0M421.6 224.3h0M423.8 215.8h0M415.0 228.6h0M427.2 215.3h0M428.0 216.6h0M427.9 213.4h0M427.4 215.8h0M422.2 230.0h0M419.9 224.4h0M419.4 234.1h0M415.7 223.2h0M427.5 215.3h0M412.9 234.8h0M413.0 234.4h0M427.4 203.3h0M429.1 218.1h0M424.8 221.3h0M426.4 201.8h0M422.3 216.7h0M430.7 213.3h0M420.1 226.0h0M427.6 211.8h0M426.2 227.3h0M423.2 218.8h0M425.2 224.1h0M425.5 220.6h0M419.1 230.7h0M419.5 212.2h0M425.6 210.5h0M421.3 225.1h0M431.5 209.3h0M431.5 218.5h0M431.2 208.0h0M421.1 236.0h0M413.9 227.5h0M433.1 200.8h0M414.6 219.3h0M431.8 207.6h0M417.9 228.5h0M426.4 234.2h0M427.1 224.1h0M431.3 210.7h0M427.0 216.7h0M433.1 217.9h0M421.4 226.3h0M422.6 228.7h0M427.0 228.6h0M418.1 226.1h0M425.8 217.1h0M426.4 233.7h0M425.0 232.7h0M421.6 226.9h0M423.0 229.5h0M421.6 216.2h0M423.3 213.3h0M425.9 214.7h0M415.2 228.4h0M431.4 199.4h0M420.1 219.4h0M419.5 232.6h0M420.4 229.2h0M421.4 216.4h0M427.9 222.4h0M425.6 223.3h0M423.5 215.3h0M427.6 219.6h0M435.9 212.3h0M430.3 205.9h0M424.1 209.4h0M419.3 219.6h0M424.3 215.2h0M423.8 224.0h0M427.7 213.4h0M413.1 242.3h0M436.2 211.7h0M418.4 225.4h0M423.7 218.8h0M423.2 222.5h0M434.0 218.6h0M415.8 215.5h0M419.2 232.8h0M420.6 210.3h0M423.6 211.4h0M420.9 223.5h0M418.9 227.5h0M422.9 220.1h0M414.4 225.5h0M420.2 234.4h0M430.9 206.3h0M422.8 225.0h0M420.9 231.8h0M423.5 215.6h0M428.8 210.5h0M429.0 218.0h0M422.5 222.5h0M427.0 207.3h0M426.2 219.6h0M427.8 199.5h0M425.5 201.4h0M424.4 212.6h0M421.9 224.1h0M416.5 242.5h0M425.9 229.4h0M412.9 223.7h0M420.7 229.1h0M424.8 215.4h0M432.2 215.9h0M435.1 203.6h0M418.3 235.8h0M439.2 189.9h0M421.9 226.0h0M421.5 221.0h0M420.3 217.5h0M423.9 213.1h0M412.0 238.3h0M425.8 226.4h0M431.1 218.6h0M430.3 224.0h0M420.4 209.8h0M426.1 214.8h0M425.8 216.6h0M432.1 199.7h0M428.2 218.9h0M425.5 222.4h0M423.8 210.1h0M423.0 216.1h0M424.2 226.8h0M436.4 193.2h0M435.5 204.6h0M430.7 215.6h0M418.1 222.7h0M433.9 221.0h0M420.9 222.3h0M434.6 226.3h0M424.4 212.4h0M419.0 229.6h0M414.7 232.9h0M419.8 226.8h0M435.3 209.9h0M417.9 221.3h0M427.7 215.0h0M432.0 206.9h0M427.3 208.4h0M413.2 231.8h0M423.9 220.6h0M427.3 234.3h0M430.2 212.8h0M430.4 215.6h0M422.6 237.1h0M420.7 225.6h0M429.3 216.4h0M427.3 207.0h0M428.0 207.8h0M430.5 202.2h0M428.0 216.6h0M422.9 223.5h0M427.7 212.4h0M427.3 214.8h0M426.6 226.1h0M415.0 225.4h0M422.3 217.9h0M415.5 224.1h0M427.4 219.8h0M419.4 225.8h0M424.8 215.8h0M414.6 222.3h0M428.0 211.5h0M434.3 216.3h0M419.2 226.7h0M423.5 215.9h0M417.6 219.7h0M430.4 202.7h0M416.5 231.6h0M424.7 218.2h0M432.3 207.5h0M422.9 227.5h0M432.5 206.9h0M423.3 214.7h0M421.3 221.4h0M428.4 213.8h0M415.6 221.5h0M413.9 225.4h0M424.4 223.8h0M430.8 211.7h0M435.2 199.9h0M429.6 210.6h0M424.2 217.5h0M420.4 220.5h0M432.7 196.0h0M433.0 216.6h0M425.0 213.0h0M421.8 220.2h0M438.8 210.9h0M427.4 221.4h0M423.9 207.8h0M419.6 225.2h0M434.1 205.1h0M431.5 204.7h0M422.0 217.2h0M421.7 224.5h0M427.1 210.7h0M420.0 222.3h0M436.6 206.9h0M421.6 222.1h0M432.1 206.9h0M423.9 217.4h0M425.5 219.4h0M422.5 206.5h0M418.2 221.4h0M431.4 206.5h0M425.6 201.7h0M423.4 211.7h0M415.8 232.8h0M425.2 223.2h0M425.0 223.8h0M422.6 212.8h0M421.8 227.6h0M420.5 230.4h0M423.0 229.2h0M433.7 216.5h0M426.9 204.6h0M431.8 217.0h0M422.6 223.4h0M428.2 205.0h0M429.8 224.6h0M423.7 206.7h0M428.8 225.7h0M436.5 215.4h0M419.4 230.3h0M428.5 209.1h0M414.9 224.3h0M418.6 224.3h0M434.4 209.6h0M426.4 210.7h0M424.4 227.9h0M433.8 200.2h0M431.7 214.3h0M417.2 227.2h0M425.5 207.0h0M422.0 212.9h0M423.7 234.7h0M426.5 201.5h0M422.4 224.7h0M423.4 215.7h0M427.3 207.7h0" stroke="#1b2f55" stroke-width="1.4" stroke-linecap="round" fill="none"/>
<path d="M421.1 217.1h0M425.6 209.8h0M421.8 232.8h0M427.3 212.1h0M415.4 241.6h0M423.7 224.5h0M434.7 193.8h0M436.2 207.6h0M425.9 218.1h0M419.1 219.0h0M420.9 228.0h0M421.1 210.8h0M426.0 211.2h0M424.9 209.9h0M422.9 223.6h0M421.6 216.9h0M427.7 226.9h0M425.3 208.6h0M431.6 214.2h0M421.6 217.7h0M417.1 219.4h0M428.9 209.1h0M421.3 220.2h0M417.9 237.4h0M422.3 214.4h0M426.4 223.3h0M428.6 216.7h0M431.1 204.2h0M437.7 206.5h0M420.7 231.2h0M426.1 221.5h0M426.7 204.1h0M416.0 227.7h0M424.6 217.3h0M428.8 227.0h0M420.0 217.0h0M416.4 215.7h0M427.6 220.9h0M425.0 231.3h0M420.7 235.8h0M415.2 232.1h0M414.1 233.6h0M431.2 205.3h0M427.2 226.0h0M430.1 211.4h0M422.8 231.3h0M423.1 216.9h0M425.3 218.9h0M413.0 230.8h0M430.5 202.6h0M433.4 220.4h0M430.4 206.6h0M429.8 209.6h0M433.4 209.2h0M418.8 227.7h0M428.3 215.9h0M430.1 201.0h0M430.3 218.8h0M425.9 211.9h0M425.5 199.9h0M422.8 219.8h0M430.7 206.8h0M428.7 209.0h0M421.8 213.8h0M429.1 224.0h0M426.9 221.1h0M421.7 216.5h0M431.4 219.6h0M423.9 230.9h0M421.3 217.6h0M420.5 212.8h0M427.8 218.4h0M432.0 208.5h0M425.4 222.0h0M414.0 233.5h0M413.6 230.5h0M426.7 204.8h0M416.8 221.2h0M423.6 206.3h0M427.5 222.5h0M432.2 223.7h0M427.2 221.2h0M422.0 213.7h0M411.8 236.1h0M429.5 210.2h0M419.2 226.5h0M415.3 226.8h0M424.6 211.0h0M431.0 216.8h0M424.7 221.3h0M426.3 211.8h0M430.2 212.9h0M416.9 218.0h0M426.4 217.7h0M430.8 208.5h0M415.2 222.7h0M425.5 231.5h0M415.0 232.4h0M425.0 225.2h0M416.4 226.6h0M420.1 228.3h0M430.8 224.0h0M425.7 215.1h0M422.3 210.3h0M430.7 212.4h0M428.6 214.2h0M428.0 209.3h0M429.9 221.7h0M427.1 214.4h0M428.1 217.7h0M429.6 212.0h0M426.7 227.4h0M432.2 205.1h0M428.8 222.8h0M423.1 228.4h0M427.6 223.3h0M426.1 216.9h0M420.6 220.9h0M416.7 220.8h0M418.9 222.2h0M427.8 229.0h0M423.6 221.5h0M417.4 240.7h0M432.4 199.2h0M427.7 210.8h0M428.3 216.2h0M433.0 213.6h0M425.3 217.2h0M434.8 207.6h0M432.7 214.4h0M426.2 203.5h0M420.6 219.4h0M434.4 215.5h0M424.8 226.9h0M415.0 233.1h0M422.2 223.9h0M419.7 232.4h0M418.9 226.0h0M424.0 219.2h0M432.6 226.0h0M413.3 237.2h0M425.9 212.1h0M420.8 223.2h0M429.3 231.0h0M420.2 228.2h0M427.1 204.4h0M426.6 236.0h0M420.6 213.2h0M422.6 211.9h0M426.7 214.8h0M427.2 208.6h0M428.9 222.0h0M424.8 225.2h0M421.4 207.5h0M421.6 235.8h0M430.1 217.3h0M420.4 222.3h0M428.7 209.2h0M426.1 227.8h0M426.0 222.3h0M427.7 220.3h0M420.0 231.8h0M427.2 206.9h0M429.1 212.2h0M423.5 215.8h0M430.8 206.8h0M421.2 238.5h0M425.0 218.1h0M424.8 211.9h0M428.6 214.3h0M420.1 210.1h0M428.9 207.6h0M424.3 223.2h0M429.3 201.3h0M422.2 231.0h0M418.4 236.9h0M420.4 235.2h0M427.2 217.1h0M435.8 210.0h0M432.8 223.9h0M418.4 213.3h0M419.2 211.5h0M424.0 214.8h0M424.1 223.4h0M431.5 210.4h0M422.7 230.3h0M420.9 230.9h0M418.5 228.5h0" stroke="#1b2f55" stroke-width="1.6" stroke-linecap="round" fill="none"/>
<path d="M419.4 223.6h0M423.6 212.1h0M420.5 213.0h0M424.0 219.6h0M413.4 234.3h0M419.5 209.6h0M415.0 225.3h0M427.9 199.3h0M415.6 224.6h0M421.8 237.4h0M431.7 216.2h0M430.6 212.8h0M414.4 241.2h0M419.4 228.4h0M424.2 224.2h0M419.4 237.0h0M419.8 225.0h0M418.6 215.5h0M418.9 215.5h0M418.3 225.1h0M414.7 233.4h0M427.1 211.8h0M431.2 209.9h0M413.5 239.9h0M420.8 216.3h0M428.7 211.3h0M429.6 212.9h0M425.2 204.2h0M425.3 211.5h0M425.8 211.8h0M422.2 218.4h0M428.4 226.2h0M437.8 199.3h0M425.9 214.6h0M430.8 206.1h0M435.0 215.0h0M433.5 201.0h0M415.3 228.0h0M420.7 219.6h0M426.9 215.2h0M434.3 200.0h0M428.6 221.3h0M424.0 222.8h0M431.1 207.4h0M428.5 205.6h0M424.1 223.8h0M424.4 208.5h0M423.9 221.8h0M426.0 219.5h0M418.9 222.1h0M433.0 194.9h0M423.8 231.9h0M416.0 235.6h0M425.3 216.7h0M427.7 220.8h0M420.0 225.5h0M420.3 233.8h0M425.2 205.2h0M427.2 216.9h0M431.7 200.9h0M424.2 223.6h0M420.9 226.3h0M418.9 230.4h0M432.3 215.2h0M424.9 211.1h0M424.3 214.5h0M426.0 208.7h0M427.3 220.9h0M424.5 235.0h0M428.9 226.2h0M412.6 220.5h0M426.6 221.7h0M427.3 219.0h0M422.4 224.0h0M431.1 228.8h0M422.0 216.2h0M426.3 215.6h0M419.6 210.1h0M420.7 222.2h0M437.4 200.8h0M417.4 215.7h0M424.5 207.0h0M424.2 214.5h0M424.5 229.9h0M429.4 219.0h0M435.2 205.9h0M421.1 219.8h0M426.1 221.8h0M431.0 196.7h0M429.4 226.4h0M436.3 195.1h0M425.2 220.4h0M430.4 207.1h0M423.4 219.8h0M412.7 225.5h0M431.4 215.1h0M419.5 233.4h0M427.5 221.0h0M417.1 240.2h0M429.5 221.5h0M420.0 216.8h0M420.4 236.4h0M417.6 225.0h0M422.3 212.2h0M427.5 225.0h0M413.7 232.3h0M413.2 220.4h0M436.9 191.5h0M423.0 206.2h0M424.5 213.9h0M425.9 208.3h0M429.9 203.0h0M425.0 209.5h0M416.5 228.1h0M431.7 215.7h0M413.4 231.8h0M423.8 218.7h0M411.6 226.4h0M439.2 202.0h0M430.8 215.8h0M427.0 218.2h0M425.8 216.6h0M429.4 203.3h0M414.3 231.2h0M427.0 215.8h0M428.1 227.9h0M425.7 206.2h0M429.2 208.2h0M420.7 221.1h0M417.1 225.0h0M414.7 226.5h0M418.3 222.2h0M425.7 200.4h0M422.8 217.7h0M428.3 226.0h0M429.0 203.2h0M426.7 206.7h0M431.2 222.0h0M421.2 226.0h0M421.5 229.3h0M423.4 220.7h0M437.5 208.5h0M429.3 213.1h0M416.9 225.7h0M421.6 216.8h0M429.3 210.4h0M429.6 214.5h0M415.7 222.3h0M435.2 206.1h0M422.4 219.9h0M422.0 211.3h0M423.2 219.4h0M428.3 214.7h0M432.3 195.1h0M415.6 232.1h0M428.4 215.3h0M434.0 210.9h0M427.7 207.4h0M416.9 221.8h0M438.9 204.9h0M419.9 212.6h0M417.4 238.8h0M419.8 228.0h0M436.8 199.8h0M418.4 232.9h0M420.7 224.1h0M416.5 236.6h0M422.1 220.0h0M423.7 226.5h0M416.5 218.5h0M443.2 199.9h0M430.4 220.4h0M417.7 236.8h0M433.8 195.0h0M426.5 225.8h0M416.0 234.7h0M433.1 215.2h0M420.6 229.3h0M421.6 219.2h0M424.5 231.8h0M417.9 230.0h0M416.5 243.5h0M433.8 187.3h0M422.9 210.8h0M418.7 210.5h0M429.4 203.1h0M417.2 228.5h0M427.2 207.6h0M442.1 199.5h0M424.6 210.8h0M425.4 214.9h0M415.9 222.6h0M416.2 228.0h0M427.3 219.8h0M424.3 226.2h0M432.5 210.4h0M432.9 208.1h0M425.5 223.1h0M422.9 213.5h0M416.5 225.1h0M422.0 208.6h0M422.7 217.7h0M417.9 223.8h0M425.2 216.5h0M420.5 233.5h0M422.1 220.9h0" stroke="#1b2f55" stroke-width="1.0" stroke-linecap="round" fill="none"/>
<path d="M427.3 195.7h0M431.2 193.8h0M423.1 181.9h0M426.8 185.9h0M432.7 182.6h0M424.3 202.3h0M426.9 195.4h0M431.6 192.4h0M429.6 193.9h0M434.1 188.5h0M429.0 194.5h0M430.3 188.0h0M426.8 192.5h0M427.1 187.5h0M422.3 186.0h0M432.7 182.5h0M420.1 206.5h0M429.9 195.0h0M434.8 176.7h0M428.1 181.9h0M426.2 192.4h0M419.5 203.7h0M417.7 190.4h0M420.9 198.4h0M422.1 196.0h0M427.6 195.4h0M434.1 178.5h0M421.7 194.5h0M433.2 183.6h0M431.7 188.5h0M436.8 171.2h0M422.4 201.9h0M430.6 181.9h0M416.0 206.6h0M413.7 220.0h0M432.0 186.3h0M424.9 184.7h0M417.1 206.3h0M429.0 196.6h0M427.1 194.1h0M430.4 194.3h0M428.9 184.6h0M424.9 203.8h0M424.4 199.7h0M429.5 191.9h0M425.2 194.5h0M424.2 201.7h0M435.2 179.7h0M427.4 194.6h0M438.4 181.3h0M425.2 186.7h0M422.2 204.7h0M428.7 195.7h0M416.0 201.3h0M434.3 188.7h0M422.0 205.7h0M433.2 187.7h0M413.3 206.8h0M423.1 202.6h0M422.9 199.9h0M415.7 194.6h0M419.1 201.6h0M425.7 198.5h0M421.2 190.6h0M430.8 184.8h0M418.1 200.2h0M436.0 185.6h0M412.9 201.4h0M444.1 169.2h0M437.1 180.5h0M428.4 188.9h0M435.1 183.8h0M421.3 204.6h0M417.0 198.8h0M433.3 183.5h0M423.3 200.1h0M425.9 201.7h0M434.0 179.6h0M415.2 205.8h0M424.4 189.2h0M433.8 177.0h0M425.8 192.4h0M425.4 183.6h0M422.9 196.6h0M424.9 184.9h0M413.3 192.7h0M422.9 204.2h0M429.9 193.7h0M430.8 188.0h0M420.4 198.1h0M430.4 192.9h0M431.3 183.8h0M419.9 201.4h0M427.5 192.6h0M428.5 191.9h0M423.3 198.0h0M426.3 189.5h0M433.0 186.2h0M426.6 187.5h0M422.8 193.3h0M429.0 195.0h0M416.7 202.2h0M433.9 176.2h0M425.2 191.5h0M423.2 198.9h0M442.5 171.3h0M420.6 188.2h0M432.5 185.3h0M429.6 196.9h0M413.0 212.1h0M430.9 188.7h0M422.5 180.9h0M422.1 179.9h0M434.9 188.3h0M418.8 185.5h0M421.8 196.4h0M435.0 182.2h0M417.0 199.5h0M435.1 186.1h0M416.5 201.4h0M420.0 199.1h0M422.5 190.1h0M426.3 189.3h0M428.7 197.1h0M427.4 192.7h0M439.4 174.4h0M419.9 205.2h0M419.1 203.0h0M433.7 175.3h0M432.5 186.9h0M427.5 196.1h0M424.4 194.6h0M424.1 198.9h0M421.8 192.2h0M426.4 182.3h0M433.8 173.1h0M430.7 184.6h0M427.6 197.2h0M428.6 183.6h0M418.7 198.0h0M411.6 204.4h0M423.0 200.3h0M417.2 198.0h0M422.1 186.5h0M433.6 185.1h0M427.5 200.6h0M422.7 194.4h0M421.1 196.2h0M421.5 207.5h0M424.7 178.3h0M428.1 186.6h0M435.0 187.4h0M426.3 187.8h0M427.6 189.1h0M441.5 173.9h0M418.1 201.8h0M421.0 197.8h0M423.7 196.6h0M416.2 203.2h0M422.6 203.1h0M423.3 185.6h0M428.2 196.7h0M432.0 181.1h0M428.2 187.0h0M432.6 186.3h0M419.6 210.4h0M423.2 193.6h0M420.4 207.3h0M426.8 186.3h0M444.3 167.4h0M433.2 183.3h0M425.8 200.8h0M424.3 203.5h0M437.5 176.7h0M422.3 206.4h0M413.7 208.9h0M434.6 176.6h0M421.2 193.0h0M425.5 198.3h0M435.2 181.5h0M418.5 199.2h0M420.9 200.9h0M439.6 182.9h0M429.4 184.7h0M431.1 177.6h0M423.4 195.2h0M440.6 177.5h0M430.9 184.1h0M432.5 178.2h0M414.5 204.4h0M425.9 200.5h0M421.9 202.5h0M432.4 192.7h0M437.9 163.5h0M418.8 208.7h0M428.9 197.4h0M427.2 199.0h0M428.2 189.8h0M421.1 202.4h0M421.3 198.5h0M425.0 201.8h0M426.9 200.4h0M413.6 203.4h0M425.7 187.4h0M426.9 181.6h0M430.4 196.3h0M445.6 165.3h0M428.6 191.7h0M441.4 179.2h0M422.9 203.9h0M418.1 207.1h0M426.9 188.8h0M423.9 203.1h0M430.0 190.6h0M419.3 206.1h0M429.1 194.6h0M416.8 197.9h0M425.4 189.1h0M420.2 205.9h0M416.5 199.1h0M416.7 208.7h0M426.4 198.1h0M417.6 206.2h0M418.1 195.9h0M429.1 188.7h0M423.5 203.7h0M420.6 203.9h0M422.9 196.2h0M421.1 191.4h0M425.4 192.6h0M419.4 198.1h0M424.4 183.3h0M433.1 168.7h0M422.1 186.3h0M428.7 182.8h0M429.5 184.4h0M427.9 189.0h0M425.4 195.7h0M427.1 188.6h0M418.6 194.5h0M423.0 195.2h0M424.3 200.4h0M436.2 177.4h0M423.0 206.7h0M423.2 194.9h0M424.5 196.3h0M433.7 182.4h0M431.0 189.5h0M440.7 170.1h0M431.4 188.8h0M428.6 183.4h0M432.8 179.8h0M435.6 175.0h0M420.3 199.4h0M423.5 203.8h0M428.5 195.6h0M430.5 187.3h0M431.2 187.2h0M428.4 193.4h0M425.5 200.5h0M420.1 204.5h0M424.9 199.4h0M428.1 188.9h0M427.3 184.8h0M421.4 198.7h0M428.1 193.2h0M430.3 192.8h0M426.8 194.9h0M425.1 196.8h0M427.9 189.9h0M422.9 190.3h0M432.8 185.6h0M431.7 184.3h0M423.5 205.7h0M428.2 190.9h0M416.9 203.3h0" stroke="#b8102e" stroke-width="1.2" stroke-linecap="round" fill="none"/>
<path d="M444.6 168.4h0M428.6 183.8h0M416.4 210.0h0M430.1 195.1h0M426.9 195.7h0M425.8 186.1h0M438.7 178.4h0M434.3 184.5h0M421.9 194.1h0M424.9 194.8h0M422.0 199.4h0M419.0 201.9h0M427.5 192.1h0M428.0 195.1h0M419.0 202.9h0M435.1 184.0h0M414.9 191.9h0M436.6 185.4h0M429.8 192.0h0M427.0 200.2h0M423.9 191.9h0M426.4 200.9h0M420.5 199.9h0M427.5 198.5h0M430.9 195.4h0M427.9 176.2h0M423.7 200.2h0M420.7 206.4h0M423.9 194.3h0M419.7 208.5h0M421.2 208.4h0M438.5 184.0h0M423.7 203.3h0M430.3 182.9h0M430.0 181.2h0M429.0 175.6h0M436.1 186.1h0M421.9 196.8h0M426.3 189.7h0M427.0 189.3h0M418.8 200.9h0M433.8 180.3h0M434.2 190.1h0M423.6 191.6h0M417.7 185.7h0M426.5 196.4h0M422.1 204.8h0M435.3 181.1h0M429.5 179.9h0M429.4 180.9h0M435.6 188.3h0M426.0 188.2h0M427.7 191.7h0M434.8 172.5h0M415.6 191.3h0M426.1 191.8h0M425.3 196.9h0M432.5 177.8h0M441.2 174.1h0M434.2 188.0h0M414.4 211.1h0M434.0 177.6h0M415.0 210.4h0M418.9 196.7h0M428.9 184.2h0M416.6 208.8h0M424.4 191.7h0M431.2 180.6h0M426.9 199.3h0M432.5 187.8h0M424.6 192.7h0M430.0 181.4h0M423.4 200.1h0M421.0 197.9h0M432.6 181.7h0M412.9 206.5h0M420.8 189.5h0M432.9 190.9h0M425.2 182.4h0M428.7 180.8h0M423.1 200.9h0M428.9 183.5h0M432.5 181.6h0M417.7 187.0h0M429.5 193.4h0M416.8 208.6h0M434.5 177.9h0M430.5 194.9h0M426.3 194.3h0M422.9 197.0h0M427.9 183.0h0M432.5 192.4h0M424.7 203.3h0M430.2 195.0h0M432.1 183.2h0M431.9 174.6h0M432.7 190.1h0M422.1 199.7h0M430.0 187.6h0M440.8 180.6h0M422.1 202.6h0M430.2 191.3h0M428.1 194.9h0M426.8 196.1h0M422.4 192.7h0M428.8 182.2h0M422.0 191.3h0M431.0 194.7h0M418.9 199.4h0M422.9 191.0h0M434.3 179.4h0M433.1 189.1h0M420.1 202.1h0M420.5 188.2h0M424.4 194.6h0M418.6 195.2h0M423.0 198.9h0M424.8 196.8h0M423.9 180.1h0M438.8 169.0h0M440.1 179.0h0M434.5 185.5h0M425.9 198.9h0M439.1 160.9h0M421.3 196.4h0M420.4 193.8h0M429.0 194.0h0M429.8 195.4h0M425.3 187.7h0M426.2 187.1h0M426.8 197.3h0M423.2 195.4h0M427.3 185.1h0M422.5 205.7h0M414.8 212.6h0M426.8 182.4h0M413.1 191.1h0M428.2 190.2h0M417.9 207.6h0M430.2 196.6h0M419.1 203.0h0M427.0 194.6h0M416.0 202.4h0M428.7 197.2h0M424.8 201.0h0M425.1 189.1h0M431.6 181.8h0M427.1 195.0h0M433.4 184.8h0M434.3 186.1h0M428.6 198.9h0M426.3 199.5h0M421.9 200.6h0M422.3 190.1h0M417.9 202.9h0M420.4 202.9h0M423.1 193.9h0M428.9 187.8h0M430.9 189.8h0M424.8 201.2h0M429.1 197.6h0M430.0 193.4h0M425.2 203.4h0M420.5 199.7h0M429.2 188.4h0M436.4 183.8h0M428.2 184.4h0M428.7 185.4h0M424.0 201.1h0M435.0 189.3h0M428.2 191.0h0M414.3 208.8h0M421.8 196.9h0M425.6 197.6h0M428.8 189.4h0M428.5 198.7h0M436.2 181.7h0M423.5 183.9h0M411.8 212.0h0M411.8 203.7h0M413.8 202.5h0M432.9 185.3h0M421.4 193.7h0M423.1 202.3h0M428.2 193.8h0M427.7 189.4h0M433.9 191.2h0M425.6 193.2h0M442.1 177.7h0M429.4 194.3h0M438.8 180.5h0M419.2 207.9h0M432.0 194.1h0M432.9 180.7h0M432.5 192.4h0M425.4 190.2h0M426.1 188.6h0M420.7 195.5h0M423.6 195.7h0M440.2 178.9h0M424.9 185.6h0M435.8 179.1h0M421.5 195.9h0M441.4 173.5h0M422.6 182.5h0M436.8 181.5h0M422.0 196.6h0M427.6 186.3h0M433.3 188.0h0M432.8 189.1h0M424.6 192.7h0M428.2 191.7h0M435.2 181.1h0M427.0 199.6h0M416.9 201.8h0M421.3 193.9h0M419.6 184.6h0M423.3 182.0h0M437.6 182.5h0M430.0 182.8h0M428.2 190.4h0M428.8 180.2h0M428.0 184.8h0M431.4 193.6h0M426.9 192.9h0M435.8 177.8h0M427.6 189.3h0M413.5 199.4h0M425.6 190.5h0M433.1 184.7h0M434.0 172.1h0M416.2 202.5h0M421.7 186.7h0M428.2 196.0h0M422.8 188.6h0M417.2 212.8h0M429.9 173.2h0M430.3 188.7h0M428.0 190.3h0M419.8 211.4h0M434.4 186.2h0M432.6 184.6h0M428.5 196.2h0M437.5 185.7h0M426.6 188.6h0M432.7 190.5h0M421.4 201.2h0M428.1 188.1h0M416.1 203.0h0M428.4 181.4h0M417.0 201.0h0M428.0 186.9h0M431.7 194.6h0M429.3 191.4h0M423.7 200.1h0M430.3 187.3h0M431.2 187.4h0M418.5 197.6h0M428.6 197.2h0M424.0 201.3h0M418.3 202.3h0M432.5 183.4h0M427.2 193.0h0M428.9 194.5h0M431.2 185.8h0M418.5 210.5h0M421.6 206.9h0M420.0 202.9h0M432.6 187.1h0M432.2 182.1h0M418.9 195.8h0M425.8 196.8h0M422.9 198.3h0M423.6 200.8h0M420.8 204.9h0M419.8 188.6h0M427.2 187.8h0M416.2 202.6h0M424.6 195.1h0M433.3 188.0h0M431.8 186.3h0M432.7 178.5h0M429.9 194.4h0M427.1 193.6h0M421.5 201.4h0M417.2 203.0h0M434.9 172.0h0M419.9 194.4h0M420.4 197.2h0M432.2 174.6h0M420.5 202.1h0M427.1 187.4h0M419.0 197.8h0M421.8 204.9h0M433.9 175.6h0M429.5 189.1h0M428.9 189.9h0M419.9 196.8h0M421.5 198.3h0M437.8 180.7h0M422.1 196.4h0M424.7 204.7h0M438.9 178.3h0M425.5 198.7h0M431.1 180.0h0M426.5 184.0h0M422.4 203.4h0M418.1 196.3h0M427.7 185.5h0M428.3 194.6h0M438.1 181.7h0M422.9 191.8h0M426.0 179.5h0M421.1 201.8h0M434.9 171.8h0M424.2 200.9h0M429.2 178.6h0M412.2 205.4h0M417.1 195.8h0M416.3 210.8h0M424.4 188.0h0M415.3 215.1h0M427.3 190.3h0M421.5 208.1h0M426.8 200.7h0M419.7 194.5h0M418.4 203.3h0M431.5 178.3h0M436.6 176.6h0M437.9 182.7h0M439.3 182.0h0" stroke="#b8102e" stroke-width="1.4" stroke-linecap="round" fill="none"/>
<path d="M424.9 200.0h0M417.0 198.9h0M420.0 196.2h0M423.1 197.0h0M432.6 190.0h0M421.5 195.5h0M438.4 179.9h0M430.7 192.6h0M427.6 190.0h0M432.1 185.0h0M430.1 188.6h0M422.6 198.9h0M440.0 182.3h0M432.0 179.4h0M427.3 195.1h0M423.5 192.1h0M427.7 192.5h0M427.1 200.2h0M426.6 199.4h0M434.9 188.7h0M433.6 189.3h0M421.3 199.8h0M433.2 184.7h0M416.7 203.8h0M415.0 204.0h0M421.3 200.4h0M428.1 193.2h0M426.4 176.9h0M426.9 195.0h0M433.9 188.8h0M432.9 180.1h0M419.7 199.5h0M429.3 195.4h0M421.6 204.6h0M430.9 193.0h0M416.1 215.5h0M429.3 188.6h0M433.3 177.8h0M434.7 182.1h0M422.4 194.3h0M428.9 197.3h0M429.9 196.5h0M433.2 187.7h0M432.9 190.8h0M423.5 195.6h0M426.3 188.2h0M422.8 197.2h0M416.3 204.2h0M418.2 195.3h0M428.0 189.2h0M423.9 198.5h0M433.0 188.6h0M427.6 195.8h0M423.5 200.4h0M425.3 184.7h0M425.4 203.3h0M435.2 189.0h0M424.4 187.2h0M436.8 169.0h0M424.2 193.3h0M428.6 193.3h0M423.8 189.4h0M414.0 205.3h0M421.0 200.2h0M426.2 193.9h0M416.9 207.7h0M432.1 190.0h0M434.3 174.3h0M428.1 197.0h0M433.0 187.3h0M431.0 185.7h0M431.8 188.7h0M435.7 172.1h0M433.5 181.9h0M423.6 194.7h0M436.7 177.3h0M424.7 197.5h0M428.9 191.8h0M438.7 178.8h0M431.6 186.8h0M420.5 204.9h0M437.4 184.2h0M427.7 198.8h0M416.0 210.5h0M420.1 193.7h0M426.0 192.1h0M427.6 189.4h0M430.8 180.6h0M424.7 189.9h0M426.9 185.1h0M431.7 191.6h0M423.9 203.8h0M434.2 185.6h0M438.9 182.3h0M431.2 186.4h0M417.4 197.9h0M424.8 190.9h0M428.8 179.9h0M428.6 196.0h0M430.5 184.2h0M422.5 195.2h0M426.1 183.5h0M433.2 186.0h0M439.2 181.0h0M428.4 194.2h0M433.7 190.2h0M431.8 190.6h0M428.9 193.9h0M422.0 192.7h0M436.0 185.3h0M431.7 187.0h0M438.0 182.5h0M429.8 182.0h0M430.6 189.6h0M434.2 185.0h0M426.2 198.8h0M423.9 205.0h0M426.4 197.6h0M422.9 197.0h0M417.9 206.9h0M426.1 194.5h0M435.7 186.5h0M432.7 183.6h0M422.1 188.1h0M412.3 210.9h0M435.0 187.6h0M430.5 181.1h0M417.1 201.9h0M426.1 198.7h0M422.6 201.8h0M444.7 165.6h0M422.8 194.1h0M427.4 185.9h0M427.7 197.3h0M423.2 194.6h0M428.2 196.3h0M423.9 196.0h0M420.6 191.0h0M423.4 185.5h0M433.1 186.6h0M423.5 192.6h0M424.3 193.6h0M428.7 189.4h0M428.4 188.9h0M423.8 182.5h0M433.8 176.9h0M412.7 220.5h0M418.7 205.5h0M430.8 187.6h0M421.5 197.8h0M418.0 214.3h0M426.6 191.0h0M431.8 188.2h0M427.0 197.0h0M428.5 199.0h0M426.3 197.8h0M423.5 202.1h0M420.6 193.7h0M419.6 205.2h0M429.7 188.4h0M422.2 200.5h0M434.2 185.3h0M428.2 197.7h0M429.3 189.1h0M429.3 181.5h0M423.5 194.1h0M429.4 195.0h0" stroke="#b8102e" stroke-width="1.0" stroke-linecap="round" fill="none"/>
<path d="M426.2 189.2h0M437.9 183.0h0M432.3 173.7h0M427.8 191.0h0M415.5 207.0h0M414.2 208.5h0M433.4 185.9h0M430.5 192.5h0M436.1 183.5h0M418.6 202.8h0M435.1 182.7h0M421.3 197.4h0M437.4 184.5h0M420.0 195.3h0M435.1 186.2h0M423.8 205.8h0M415.4 215.1h0M420.0 194.9h0M430.9 186.4h0M425.5 189.6h0M435.5 184.6h0M423.7 204.3h0M424.9 201.3h0M426.8 184.6h0M429.0 187.7h0M442.3 170.3h0M420.9 203.5h0M432.3 181.4h0M426.5 193.5h0M428.9 189.9h0M420.7 191.2h0M415.1 199.0h0M435.4 187.9h0M425.2 183.8h0M423.5 201.9h0M427.2 175.9h0M433.6 181.9h0M420.8 198.4h0M414.2 192.0h0M429.0 187.9h0M421.8 204.9h0M430.3 190.1h0M430.9 182.9h0M434.1 181.7h0M420.1 193.0h0M416.5 191.5h0M416.0 206.3h0M427.6 181.9h0M428.9 192.3h0M429.7 192.3h0M431.4 193.2h0M418.1 196.3h0M441.9 164.4h0M419.6 198.4h0M431.2 182.7h0M421.9 200.3h0M423.1 204.1h0M441.2 168.7h0M427.4 187.6h0M432.8 179.7h0M429.6 186.6h0M421.6 203.7h0M432.4 193.3h0M432.6 192.0h0M423.8 189.6h0M428.3 193.1h0M429.9 196.5h0M436.4 172.3h0M426.7 183.9h0M421.9 195.3h0M434.3 186.1h0M433.1 191.4h0M426.8 184.5h0M434.4 180.2h0M421.9 199.7h0M424.8 178.9h0M425.1 192.7h0M429.4 191.6h0M436.6 181.7h0M425.8 182.9h0M434.7 179.9h0M431.7 175.1h0M432.6 176.9h0M432.5 184.5h0M425.9 188.5h0M441.2 163.2h0M425.8 192.5h0M427.4 195.1h0M422.2 180.6h0M423.0 190.1h0M423.1 199.0h0M419.5 190.1h0M426.8 199.4h0M413.4 209.2h0M440.0 169.7h0M424.2 186.1h0M423.4 191.0h0M419.7 197.2h0M428.4 188.9h0M429.4 186.3h0M428.9 198.4h0M433.5 172.7h0M433.3 187.9h0M422.2 196.3h0M437.1 178.1h0M429.7 191.7h0M426.4 192.9h0M436.2 179.3h0M425.0 200.5h0M423.9 185.9h0M416.5 201.0h0M431.1 193.6h0M424.8 193.1h0M428.1 190.1h0M420.1 199.1h0M425.4 179.1h0M411.9 223.3h0M423.4 178.9h0M422.3 186.2h0M433.1 191.2h0M430.9 182.2h0M413.5 213.5h0M416.8 210.9h0M429.4 180.2h0M428.2 194.1h0M423.9 191.7h0M426.0 183.0h0M429.2 195.1h0M418.3 205.8h0M431.2 175.8h0M432.6 181.4h0M419.2 196.0h0M419.0 196.8h0M425.9 192.0h0M413.2 198.9h0M425.2 199.3h0M419.1 197.4h0M434.9 185.9h0M426.7 192.3h0M429.7 194.5h0M439.5 174.9h0M419.5 199.6h0M422.8 204.4h0M421.0 196.8h0M438.3 181.1h0M433.4 181.8h0M434.6 177.9h0M430.1 191.3h0M437.2 177.1h0M428.4 183.0h0M428.9 187.6h0M422.0 201.4h0M429.8 192.9h0M421.0 201.9h0M427.3 198.2h0M433.5 185.3h0M426.4 201.7h0M420.3 194.3h0M427.3 183.9h0M427.1 194.8h0M414.7 208.8h0M428.8 198.4h0M431.8 182.4h0M419.3 205.1h0M427.9 197.7h0M420.2 206.4h0M428.6 196.3h0M420.8 208.8h0M438.0 170.3h0M428.0 189.4h0" stroke="#b8102e" stroke-width="1.6" stroke-linecap="round" fill="none"/>
<path d="M413.1 168.4h0M427.0 166.6h0M413.6 175.4h0M425.3 155.7h0M441.1 167.5h0M415.2 196.6h0M420.0 180.7h0M415.7 202.1h0M417.3 177.7h0M438.1 154.1h0M415.2 188.9h0M421.0 153.8h0M418.9 170.1h0M416.8 155.8h0M415.6 170.6h0M440.3 150.0h0M434.1 167.3h0M426.7 166.8h0" stroke="#b8102e" stroke-width="0.8" stroke-linecap="round" fill="none"/>
<path d="M443.5 217.8h0M431.9 227.6h0M432.1 211.3h0M443.3 199.8h0M439.2 218.1h0M444.1 175.6h0M433.5 215.3h0M426.3 232.3h0M430.9 240.6h0M440.5 184.1h0M412.9 236.8h0M442.1 235.8h0M412.2 236.5h0M444.1 219.1h0M416.2 231.2h0M423.8 231.1h0M433.8 223.5h0M437.8 191.8h0M424.8 218.7h0M418.1 229.2h0M430.5 239.8h0M440.5 232.3h0M433.0 218.7h0M429.9 223.7h0M442.2 238.0h0M445.5 175.7h0M428.0 208.5h0" stroke="#1b2f55" stroke-width="0.8" stroke-linecap="round" fill="none"/>
<path d="M411.7,221.7 Q431.3,197.5 445.5,172.3" stroke="#f3a6a0" fill="none" stroke-width="1.6" stroke-opacity="0.85" stroke-linecap="round"/>
<text x="481.30" y="158.60" font-size="7.0" text-anchor="middle" dominant-baseline="central" fill="#474747" stroke="#474747" stroke-width="0.2" textLength="44.3" lengthAdjust="spacingAndGlyphs">TCR Size (cells)</text>
<circle cx="465.00" cy="168.40" r="0.90" fill="#111"/>
<circle cx="465.00" cy="176.20" r="1.70" fill="none" stroke="#111" stroke-width="0.6"/>
<circle cx="465.00" cy="184.80" r="2.90" fill="none" stroke="#111" stroke-width="0.6"/>
<circle cx="465.00" cy="196.00" r="3.90" fill="none" stroke="#111" stroke-width="0.6"/>
<text x="474.70" y="168.40" font-size="6.9" text-anchor="start" dominant-baseline="central" fill="#282828" stroke="#282828" stroke-width="0.2">1</text>
<text x="474.70" y="176.00" font-size="6.9" text-anchor="start" dominant-baseline="central" fill="#282828" stroke="#282828" stroke-width="0.2">10</text>
<text x="474.70" y="184.40" font-size="6.9" text-anchor="start" dominant-baseline="central" fill="#282828" stroke="#282828" stroke-width="0.2">40</text>
<text x="474.70" y="195.50" font-size="6.9" text-anchor="start" dominant-baseline="central" fill="#282828" stroke="#282828" stroke-width="0.2">100</text>
<text x="473.10" y="215.50" font-size="6.6" text-anchor="middle" dominant-baseline="central" fill="#474747" stroke="#474747" stroke-width="0.2" textLength="28.7" lengthAdjust="spacingAndGlyphs">Genotype</text>
<circle cx="462.50" cy="224.40" r="2.80" fill="#b01030"/>
<circle cx="462.50" cy="233.50" r="2.80" fill="#173b62"/>
<text x="468.70" y="224.40" font-size="6.6" text-anchor="start" dominant-baseline="central" fill="#282828" stroke="#282828" stroke-width="0.2">pBIC</text>
<text x="468.70" y="235.79" font-size="6.6" text-anchor="start" fill="#4d7db5" stroke="#4d7db5" stroke-width="0.2">pBIC<tspan font-size="3.6" dy="-2.2">Δ/Δ</tspan></text>
<text x="6.50" y="293.60" font-size="11.2" text-anchor="start" dominant-baseline="central" fill="#111" font-weight="bold" stroke="#111" stroke-width="0.55">G</text>
<text x="52.10" y="307.16" font-size="6.8" text-anchor="middle" fill="#333" stroke="#333" stroke-width="0.2">PD-1<tspan font-size="4.2" dy="-2.2">+</tspan><tspan dy="2.2">LAG3</tspan><tspan font-size="4.2" dy="-2.2">+</tspan></text>
<line x1="40.90" y1="317.20" x2="40.90" y2="386.30" stroke="#1a1a1a" stroke-width="1.1"/>
<line x1="38.90" y1="318.10" x2="40.90" y2="318.10" stroke="#1a1a1a" stroke-width="1.1"/>
<text x="35.60" y="318.10" font-size="7.02" text-anchor="end" dominant-baseline="central" fill="#3a3a3a" stroke="#3a3a3a" stroke-width="0.2" textLength="6.67" lengthAdjust="spacingAndGlyphs">80</text>
<line x1="38.90" y1="335.10" x2="40.90" y2="335.10" stroke="#1a1a1a" stroke-width="1.1"/>
<text x="35.60" y="335.10" font-size="7.02" text-anchor="end" dominant-baseline="central" fill="#3a3a3a" stroke="#3a3a3a" stroke-width="0.2" textLength="6.67" lengthAdjust="spacingAndGlyphs">60</text>
<line x1="38.90" y1="352.10" x2="40.90" y2="352.10" stroke="#1a1a1a" stroke-width="1.1"/>
<text x="35.60" y="352.10" font-size="7.02" text-anchor="end" dominant-baseline="central" fill="#3a3a3a" stroke="#3a3a3a" stroke-width="0.2" textLength="6.67" lengthAdjust="spacingAndGlyphs">40</text>
<line x1="38.90" y1="369.10" x2="40.90" y2="369.10" stroke="#1a1a1a" stroke-width="1.1"/>
<text x="35.60" y="369.10" font-size="7.02" text-anchor="end" dominant-baseline="central" fill="#3a3a3a" stroke="#3a3a3a" stroke-width="0.2" textLength="6.67" lengthAdjust="spacingAndGlyphs">20</text>
<line x1="38.90" y1="386.10" x2="40.90" y2="386.10" stroke="#1a1a1a" stroke-width="1.1"/>
<text x="35.60" y="386.10" font-size="7.02" text-anchor="end" dominant-baseline="central" fill="#3a3a3a" stroke="#3a3a3a" stroke-width="0.2" textLength="3.34" lengthAdjust="spacingAndGlyphs">0</text>
<line x1="40.90" y1="386.30" x2="63.50" y2="386.30" stroke="#1a1a1a" stroke-width="1.1"/>
<line x1="47.60" y1="386.30" x2="47.60" y2="388.30" stroke="#1a1a1a" stroke-width="1.1"/>
<line x1="56.80" y1="386.30" x2="56.80" y2="388.30" stroke="#1a1a1a" stroke-width="1.1"/>
<text x="21.40" y="350.20" font-size="8.0" text-anchor="middle" dominant-baseline="central" fill="#474747" stroke="#474747" stroke-width="0.2" transform="rotate(-90 21.40 350.20)" textLength="35" lengthAdjust="spacingAndGlyphs">% CD8 cells</text>
<line x1="47.60" y1="344.03" x2="47.60" y2="359.75" stroke="#777" stroke-width="0.5"/>
<rect x="44.25" y="347.43" width="6.70" height="10.29" fill="#f3a3a0"/>
<circle cx="47.60" cy="344.03" r="1.85" fill="#8e1c2c"/>
<circle cx="46.60" cy="347.85" r="1.85" fill="#8e1c2c"/>
<circle cx="49.60" cy="349.55" r="1.85" fill="#8e1c2c"/>
<circle cx="47.60" cy="352.10" r="1.85" fill="#8e1c2c"/>
<circle cx="48.60" cy="354.65" r="1.85" fill="#8e1c2c"/>
<circle cx="45.60" cy="356.35" r="1.85" fill="#8e1c2c"/>
<circle cx="47.60" cy="358.05" r="1.85" fill="#8e1c2c"/>
<circle cx="46.60" cy="359.75" r="1.85" fill="#8e1c2c"/>
<line x1="57.40" y1="325.75" x2="57.40" y2="340.20" stroke="#777" stroke-width="0.5"/>
<rect x="54.30" y="330.00" width="6.20" height="9.78" fill="#a9bcd8"/>
<circle cx="57.40" cy="325.75" r="1.85" fill="#1e365c"/>
<circle cx="56.40" cy="328.30" r="1.85" fill="#1e365c"/>
<circle cx="59.40" cy="330.00" r="1.85" fill="#1e365c"/>
<circle cx="57.40" cy="332.55" r="1.85" fill="#1e365c"/>
<circle cx="58.40" cy="335.10" r="1.85" fill="#1e365c"/>
<circle cx="55.40" cy="336.80" r="1.85" fill="#1e365c"/>
<circle cx="57.40" cy="338.50" r="1.85" fill="#1e365c"/>
<circle cx="56.40" cy="340.20" r="1.85" fill="#1e365c"/>
<path d="M47.10,323.20 L47.10,319.70 L56.50,319.70 L56.50,323.20" stroke="#444" fill="none" stroke-width="0.85"/>
<text x="51.80" y="318.30" font-size="7.6" text-anchor="middle" dominant-baseline="central" fill="#333" stroke="#333" stroke-width="0.2">**</text>
<text x="47.70" y="395.30" font-size="7.0" text-anchor="end" dominant-baseline="central" fill="#d8466a" stroke="#d8466a" stroke-width="0.2" transform="rotate(-48 47.70 395.30)" textLength="13.6" lengthAdjust="spacingAndGlyphs">pBIC</text>
<text x="56.90" y="397.73" font-size="7.0" text-anchor="end" fill="#4d7db5" stroke="#4d7db5" stroke-width="0.2" transform="rotate(-48 56.90 395.30)" textLength="20.5" lengthAdjust="spacingAndGlyphs">pBIC<tspan font-size="4.6" dy="-2.4">Δ/Δ</tspan></text>
<text x="87.00" y="293.60" font-size="11.2" text-anchor="start" dominant-baseline="central" fill="#111" font-weight="bold" stroke="#111" stroke-width="0.55">H</text>
<text x="137.10" y="306.76" font-size="6.8" text-anchor="middle" fill="#333" stroke="#333" stroke-width="0.2" font-style="italic">LAG3<tspan font-size="4.2" dy="-2.2">hi</tspan></text>
<text x="162.50" y="306.76" font-size="6.8" text-anchor="middle" fill="#333" stroke="#333" stroke-width="0.2" font-style="italic">PD-1<tspan font-size="4.2" dy="-2.2">hi</tspan></text>
<text x="189.90" y="306.76" font-size="6.8" text-anchor="middle" fill="#333" stroke="#333" stroke-width="0.2" font-style="italic">IFN-γ<tspan font-size="4.2" dy="-2.2">+</tspan></text>
<line x1="150.80" y1="299.00" x2="150.80" y2="386.40" stroke="#dcdcdc" stroke-width="0.7"/>
<line x1="178.10" y1="299.00" x2="178.10" y2="386.40" stroke="#dcdcdc" stroke-width="0.7"/>
<line x1="124.70" y1="319.00" x2="124.70" y2="386.60" stroke="#1a1a1a" stroke-width="1.1"/>
<line x1="122.70" y1="319.70" x2="124.70" y2="319.70" stroke="#1a1a1a" stroke-width="1.1"/>
<text x="120.20" y="319.70" font-size="7.02" text-anchor="end" dominant-baseline="central" fill="#3a3a3a" stroke="#3a3a3a" stroke-width="0.2" textLength="10.01" lengthAdjust="spacingAndGlyphs">100</text>
<line x1="122.70" y1="333.04" x2="124.70" y2="333.04" stroke="#1a1a1a" stroke-width="1.1"/>
<text x="120.20" y="333.04" font-size="7.02" text-anchor="end" dominant-baseline="central" fill="#3a3a3a" stroke="#3a3a3a" stroke-width="0.2" textLength="6.67" lengthAdjust="spacingAndGlyphs">80</text>
<line x1="122.70" y1="346.38" x2="124.70" y2="346.38" stroke="#1a1a1a" stroke-width="1.1"/>
<text x="120.20" y="346.38" font-size="7.02" text-anchor="end" dominant-baseline="central" fill="#3a3a3a" stroke="#3a3a3a" stroke-width="0.2" textLength="6.67" lengthAdjust="spacingAndGlyphs">60</text>
<line x1="122.70" y1="359.72" x2="124.70" y2="359.72" stroke="#1a1a1a" stroke-width="1.1"/>
<text x="120.20" y="359.72" font-size="7.02" text-anchor="end" dominant-baseline="central" fill="#3a3a3a" stroke="#3a3a3a" stroke-width="0.2" textLength="6.67" lengthAdjust="spacingAndGlyphs">40</text>
<line x1="122.70" y1="373.06" x2="124.70" y2="373.06" stroke="#1a1a1a" stroke-width="1.1"/>
<text x="120.20" y="373.06" font-size="7.02" text-anchor="end" dominant-baseline="central" fill="#3a3a3a" stroke="#3a3a3a" stroke-width="0.2" textLength="6.67" lengthAdjust="spacingAndGlyphs">20</text>
<line x1="122.70" y1="386.40" x2="124.70" y2="386.40" stroke="#1a1a1a" stroke-width="1.1"/>
<text x="120.20" y="386.40" font-size="7.02" text-anchor="end" dominant-baseline="central" fill="#3a3a3a" stroke="#3a3a3a" stroke-width="0.2" textLength="3.34" lengthAdjust="spacingAndGlyphs">0</text>
<line x1="124.70" y1="386.60" x2="204.80" y2="386.60" stroke="#1a1a1a" stroke-width="1.1"/>
<line x1="133.10" y1="386.60" x2="133.10" y2="388.60" stroke="#1a1a1a" stroke-width="1.1"/>
<line x1="141.50" y1="386.60" x2="141.50" y2="388.60" stroke="#1a1a1a" stroke-width="1.1"/>
<line x1="161.00" y1="386.60" x2="161.00" y2="388.60" stroke="#1a1a1a" stroke-width="1.1"/>
<line x1="168.90" y1="386.60" x2="168.90" y2="388.60" stroke="#1a1a1a" stroke-width="1.1"/>
<line x1="186.80" y1="386.60" x2="186.80" y2="388.60" stroke="#1a1a1a" stroke-width="1.1"/>
<line x1="195.30" y1="386.60" x2="195.30" y2="388.60" stroke="#1a1a1a" stroke-width="1.1"/>
<text x="101.70" y="352.60" font-size="8.0" text-anchor="middle" dominant-baseline="central" fill="#474747" stroke="#474747" stroke-width="0.2" transform="rotate(-90 101.70 352.60)" textLength="35" lengthAdjust="spacingAndGlyphs">% CD8 cells</text>
<line x1="133.10" y1="371.73" x2="133.10" y2="383.06" stroke="#777" stroke-width="0.5"/>
<rect x="130.00" y="373.06" width="6.20" height="8.00" fill="#f3a3a0"/>
<circle cx="133.10" cy="371.73" r="1.85" fill="#8e1c2c"/>
<circle cx="132.10" cy="373.06" r="1.85" fill="#8e1c2c"/>
<circle cx="135.10" cy="374.39" r="1.85" fill="#8e1c2c"/>
<circle cx="133.10" cy="376.39" r="1.85" fill="#8e1c2c"/>
<circle cx="134.10" cy="377.73" r="1.85" fill="#8e1c2c"/>
<circle cx="131.10" cy="379.06" r="1.85" fill="#8e1c2c"/>
<circle cx="133.10" cy="380.40" r="1.85" fill="#8e1c2c"/>
<circle cx="132.10" cy="381.73" r="1.85" fill="#8e1c2c"/>
<circle cx="135.10" cy="383.06" r="1.85" fill="#8e1c2c"/>
<line x1="141.50" y1="348.38" x2="141.50" y2="369.72" stroke="#777" stroke-width="0.5"/>
<rect x="138.15" y="348.38" width="6.70" height="21.34" fill="#a9bcd8"/>
<circle cx="141.50" cy="349.05" r="1.85" fill="#1e365c"/>
<circle cx="140.50" cy="351.72" r="1.85" fill="#1e365c"/>
<circle cx="143.50" cy="356.38" r="1.85" fill="#1e365c"/>
<circle cx="141.50" cy="366.39" r="1.85" fill="#1e365c"/>
<circle cx="142.50" cy="367.72" r="1.85" fill="#1e365c"/>
<circle cx="139.50" cy="368.39" r="1.85" fill="#1e365c"/>
<path d="M131.40,344.30 L131.40,338.10 L141.80,338.10 L141.80,339.30" stroke="#444" fill="none" stroke-width="0.85"/>
<text x="136.60" y="336.70" font-size="7.6" text-anchor="middle" dominant-baseline="central" fill="#333" stroke="#333" stroke-width="0.2">***</text>
<line x1="161.00" y1="335.71" x2="161.00" y2="373.06" stroke="#777" stroke-width="0.5"/>
<rect x="158.25" y="344.38" width="5.50" height="20.01" fill="#f3a3a0"/>
<line x1="158.25" y1="362.39" x2="163.75" y2="362.39" stroke="#8e1c2c" stroke-width="0.6"/>
<circle cx="161.00" cy="337.04" r="1.85" fill="#8e1c2c"/>
<circle cx="160.00" cy="346.38" r="1.85" fill="#8e1c2c"/>
<circle cx="163.00" cy="354.38" r="1.85" fill="#8e1c2c"/>
<circle cx="161.00" cy="361.05" r="1.85" fill="#8e1c2c"/>
<circle cx="162.00" cy="364.39" r="1.85" fill="#8e1c2c"/>
<circle cx="159.00" cy="367.72" r="1.85" fill="#8e1c2c"/>
<circle cx="161.00" cy="373.06" r="1.85" fill="#8e1c2c"/>
<line x1="168.90" y1="323.03" x2="168.90" y2="349.05" stroke="#777" stroke-width="0.5"/>
<rect x="166.40" y="326.37" width="5.00" height="19.34" fill="#a9bcd8"/>
<circle cx="168.90" cy="323.03" r="1.85" fill="#1e365c"/>
<circle cx="167.90" cy="327.70" r="1.85" fill="#1e365c"/>
<circle cx="170.90" cy="333.04" r="1.85" fill="#1e365c"/>
<circle cx="168.90" cy="338.38" r="1.85" fill="#1e365c"/>
<circle cx="169.90" cy="343.71" r="1.85" fill="#1e365c"/>
<circle cx="166.90" cy="349.05" r="1.85" fill="#1e365c"/>
<path d="M159.70,327.60 L159.70,319.70 L169.40,319.70 L169.40,320.90" stroke="#444" fill="none" stroke-width="0.85"/>
<text x="164.55" y="318.30" font-size="7.6" text-anchor="middle" dominant-baseline="central" fill="#333" stroke="#333" stroke-width="0.2">***</text>
<line x1="186.80" y1="326.37" x2="186.80" y2="351.05" stroke="#777" stroke-width="0.5"/>
<rect x="183.85" y="326.37" width="5.90" height="24.01" fill="#f3a3a0"/>
<circle cx="186.80" cy="327.04" r="1.85" fill="#8e1c2c"/>
<circle cx="185.80" cy="328.37" r="1.85" fill="#8e1c2c"/>
<circle cx="188.80" cy="329.70" r="1.85" fill="#8e1c2c"/>
<circle cx="186.80" cy="331.71" r="1.85" fill="#8e1c2c"/>
<circle cx="187.80" cy="334.37" r="1.85" fill="#8e1c2c"/>
<circle cx="184.80" cy="337.04" r="1.85" fill="#8e1c2c"/>
<circle cx="186.80" cy="339.71" r="1.85" fill="#8e1c2c"/>
<circle cx="185.80" cy="342.38" r="1.85" fill="#8e1c2c"/>
<circle cx="188.80" cy="345.05" r="1.85" fill="#8e1c2c"/>
<circle cx="186.80" cy="347.71" r="1.85" fill="#8e1c2c"/>
<circle cx="187.80" cy="349.71" r="1.85" fill="#8e1c2c"/>
<circle cx="184.80" cy="351.05" r="1.85" fill="#8e1c2c"/>
<line x1="195.30" y1="347.71" x2="195.30" y2="385.07" stroke="#777" stroke-width="0.5"/>
<rect x="192.65" y="357.05" width="5.30" height="26.01" fill="#a9bcd8"/>
<circle cx="195.30" cy="347.71" r="1.85" fill="#1e365c"/>
<circle cx="194.30" cy="359.72" r="1.85" fill="#1e365c"/>
<circle cx="197.30" cy="361.72" r="1.85" fill="#1e365c"/>
<circle cx="195.30" cy="363.72" r="1.85" fill="#1e365c"/>
<circle cx="196.30" cy="367.72" r="1.85" fill="#1e365c"/>
<circle cx="193.30" cy="375.73" r="1.85" fill="#1e365c"/>
<circle cx="195.30" cy="379.73" r="1.85" fill="#1e365c"/>
<circle cx="194.30" cy="383.06" r="1.85" fill="#1e365c"/>
<circle cx="197.30" cy="385.07" r="1.85" fill="#1e365c"/>
<path d="M186.80,322.00 L186.80,319.70 L195.60,319.70 L195.60,333.40" stroke="#444" fill="none" stroke-width="0.85"/>
<text x="191.20" y="318.30" font-size="7.6" text-anchor="middle" dominant-baseline="central" fill="#333" stroke="#333" stroke-width="0.2">***</text>
<text x="133.20" y="395.60" font-size="7.0" text-anchor="end" dominant-baseline="central" fill="#d8466a" stroke="#d8466a" stroke-width="0.2" transform="rotate(-48 133.20 395.60)" textLength="13.6" lengthAdjust="spacingAndGlyphs">pBIC</text>
<text x="141.60" y="398.03" font-size="7.0" text-anchor="end" fill="#4d7db5" stroke="#4d7db5" stroke-width="0.2" transform="rotate(-48 141.60 395.60)" textLength="20.5" lengthAdjust="spacingAndGlyphs">pBIC<tspan font-size="4.6" dy="-2.4">Δ/Δ</tspan></text>
<text x="161.10" y="395.60" font-size="7.0" text-anchor="end" dominant-baseline="central" fill="#d8466a" stroke="#d8466a" stroke-width="0.2" transform="rotate(-48 161.10 395.60)" textLength="13.6" lengthAdjust="spacingAndGlyphs">pBIC</text>
<text x="169.00" y="398.03" font-size="7.0" text-anchor="end" fill="#4d7db5" stroke="#4d7db5" stroke-width="0.2" transform="rotate(-48 169.00 395.60)" textLength="20.5" lengthAdjust="spacingAndGlyphs">pBIC<tspan font-size="4.6" dy="-2.4">Δ/Δ</tspan></text>
<text x="186.90" y="395.60" font-size="7.0" text-anchor="end" dominant-baseline="central" fill="#d8466a" stroke="#d8466a" stroke-width="0.2" transform="rotate(-48 186.90 395.60)" textLength="13.6" lengthAdjust="spacingAndGlyphs">pBIC</text>
<text x="195.40" y="398.03" font-size="7.0" text-anchor="end" fill="#4d7db5" stroke="#4d7db5" stroke-width="0.2" transform="rotate(-48 195.40 395.60)" textLength="20.5" lengthAdjust="spacingAndGlyphs">pBIC<tspan font-size="4.6" dy="-2.4">Δ/Δ</tspan></text>
<text x="227.10" y="293.60" font-size="11.2" text-anchor="start" dominant-baseline="central" fill="#111" font-weight="bold" stroke="#111" stroke-width="0.55">I</text>
<text x="280.30" y="301.80" font-size="6" text-anchor="middle" dominant-baseline="central" fill="#282828" stroke="#282828" stroke-width="0.2" font-style="italic">CD8</text>
<clipPath id="cI1"><rect x="253.6" y="307.5" width="51.1" height="46.2"/></clipPath>
<clipPath id="cI2"><rect x="253.6" y="356.2" width="51.1" height="47.3"/></clipPath>
<g clip-path="url(#cI1)">
<path d="M289.8 324.9h0M290.1 328.4h0M287.0 324.4h0M296.5 325.1h0M282.0 330.7h0M282.3 316.6h0M279.7 325.8h0M292.9 324.4h0M283.7 320.8h0M291.4 332.1h0M288.8 328.3h0M286.1 329.9h0M288.9 325.4h0M278.8 329.1h0M278.5 325.3h0M284.4 319.0h0M277.8 322.9h0M291.6 328.8h0M280.6 330.2h0M286.0 330.3h0M284.3 323.0h0M286.6 332.2h0M280.7 324.5h0M295.8 326.7h0M283.8 318.9h0M293.0 326.2h0M289.0 320.7h0M286.1 332.1h0M289.1 323.3h0M283.4 330.5h0M280.0 326.5h0M288.7 332.2h0M280.1 326.3h0M281.5 326.1h0M288.6 327.9h0M285.9 315.6h0M282.7 316.8h0M280.1 326.7h0M285.7 323.6h0M290.7 324.7h0M290.8 316.6h0M292.7 324.3h0M295.8 327.4h0M290.1 320.3h0M284.0 325.0h0M291.1 325.8h0M282.9 317.0h0M280.3 327.8h0M283.7 323.0h0M287.1 324.1h0M289.4 320.9h0M282.8 322.9h0M279.8 319.4h0M290.8 324.5h0M293.3 322.6h0M291.6 330.0h0M289.0 322.6h0M280.3 326.7h0M294.1 325.7h0M281.8 321.3h0M279.0 322.7h0M294.3 321.6h0M279.1 325.6h0M279.7 322.4h0M281.6 328.9h0M278.2 320.0h0M285.0 316.3h0M287.8 315.2h0M286.8 320.2h0M283.9 320.7h0M291.0 319.0h0M296.6 326.1h0M288.7 315.3h0M290.5 324.7h0M290.7 316.5h0M293.9 330.2h0M286.0 326.2h0M294.0 324.4h0M283.7 328.2h0M280.7 324.4h0M290.0 322.9h0M295.5 319.9h0M296.0 320.6h0M291.3 317.3h0M291.5 329.7h0M289.4 320.5h0M282.3 324.6h0M287.7 320.1h0M283.2 330.2h0M292.5 326.7h0M281.4 328.5h0M277.5 322.9h0M286.8 321.4h0M283.5 325.8h0M288.0 332.1h0M290.9 324.6h0M282.8 320.7h0M277.1 323.7h0M291.2 322.6h0M287.9 331.1h0M291.6 326.2h0M293.2 326.6h0M284.6 321.4h0M278.9 326.8h0M284.3 331.1h0M281.5 330.7h0M280.9 330.7h0M285.6 318.6h0M284.9 320.3h0M292.5 330.2h0M286.5 318.1h0M291.7 323.6h0M291.4 329.8h0M284.7 321.1h0M289.4 328.2h0M280.9 324.9h0M295.2 322.8h0M280.4 330.6h0M287.7 317.4h0M291.7 325.1h0M284.1 325.3h0M293.6 326.9h0M285.3 330.4h0M281.0 329.7h0M284.9 329.5h0M283.8 321.1h0M286.8 331.1h0M283.6 322.2h0M286.5 316.7h0M282.4 324.2h0" stroke="#c9c9c9" stroke-width="1.0" stroke-linecap="round" fill="none"/>
<path d="M294.4 329.4h0M293.6 327.6h0M284.0 319.2h0M293.9 320.2h0M283.8 328.8h0M287.0 322.1h0M292.6 327.1h0M295.3 328.0h0M279.7 323.2h0M285.1 325.5h0M284.0 331.6h0M290.9 325.9h0M296.4 323.7h0M278.7 324.3h0M280.5 330.4h0M285.5 332.7h0M291.6 325.7h0M282.9 324.1h0M281.8 325.0h0M290.3 332.2h0M296.3 326.0h0M285.9 327.8h0M292.9 324.9h0M294.0 323.4h0M282.2 321.2h0M282.2 316.3h0M295.9 324.3h0M294.5 321.2h0M290.9 329.0h0M279.6 327.1h0M289.1 316.1h0M282.1 330.1h0M291.0 323.6h0M285.8 332.4h0M291.7 325.6h0M282.5 325.6h0M294.8 319.9h0M295.7 321.2h0M295.1 325.4h0M282.7 320.6h0M288.7 325.1h0M286.5 329.7h0M288.3 318.9h0M282.5 328.2h0M293.4 328.5h0M293.0 330.8h0M287.1 332.8h0M294.0 323.3h0M293.6 323.3h0M286.3 321.8h0M284.9 318.9h0M285.1 324.6h0M294.2 326.7h0M280.4 326.2h0M280.1 319.0h0M285.0 320.9h0M287.2 329.3h0M292.6 320.9h0M283.4 319.2h0M279.3 318.9h0M288.0 332.5h0M285.6 327.6h0M284.3 322.8h0M283.8 326.5h0M288.4 324.5h0M292.5 324.0h0M289.2 315.3h0M280.5 317.4h0M287.0 316.7h0" stroke="#c9c9c9" stroke-width="0.8" stroke-linecap="round" fill="none"/>
<path d="M281.4 322.8h0M284.3 329.5h0M290.1 325.9h0M286.1 332.2h0M281.4 319.9h0M284.5 329.2h0M278.8 323.4h0M287.1 320.2h0M288.1 326.5h0M278.7 322.5h0M280.6 317.1h0M284.4 323.5h0M282.4 329.9h0M291.8 320.1h0M281.7 316.8h0M284.3 326.1h0M279.1 323.2h0M284.1 319.4h0M286.4 315.1h0M284.2 329.1h0M283.0 329.5h0M289.6 317.9h0M278.5 324.8h0M283.4 324.0h0M294.1 319.2h0M287.7 318.8h0M288.8 320.5h0M292.9 328.3h0M284.4 318.1h0M295.1 324.9h0M285.0 324.3h0M292.9 330.5h0M294.6 319.0h0M285.2 330.7h0M284.3 329.1h0M281.4 327.0h0M278.4 322.8h0M289.9 319.8h0M292.9 321.9h0M292.8 328.4h0M287.9 323.6h0M285.0 323.5h0M287.7 328.2h0M292.5 329.9h0M291.8 328.3h0M285.9 328.0h0M294.2 329.1h0M291.8 328.4h0M284.1 319.3h0M293.3 329.7h0M280.1 319.2h0M293.0 323.5h0M292.3 317.1h0M281.9 330.3h0M294.4 327.7h0M286.9 320.0h0M287.9 319.3h0M285.8 316.2h0M295.1 329.3h0M292.7 323.2h0M281.4 318.0h0M289.4 325.9h0M291.7 317.1h0M281.8 329.7h0M291.6 331.4h0M288.4 324.6h0M281.1 328.2h0M278.8 327.9h0M289.8 330.3h0M285.1 321.8h0M291.7 317.1h0M281.6 316.6h0M288.2 320.9h0M296.6 323.5h0M284.0 321.9h0M282.6 318.1h0M281.0 324.7h0M282.2 323.3h0M281.3 323.2h0M282.6 319.7h0M282.2 324.5h0M291.5 317.7h0M288.4 320.6h0M290.3 328.4h0M281.0 317.6h0M283.5 318.0h0M290.7 317.3h0M290.1 319.5h0M294.2 326.0h0M291.3 319.6h0M288.5 328.6h0M277.9 322.2h0M292.6 320.8h0M294.6 328.9h0M287.3 326.1h0M288.7 318.2h0M293.3 326.4h0M289.7 326.8h0M293.8 330.4h0M285.1 323.0h0M294.9 320.6h0M284.9 323.3h0M285.1 320.7h0M279.5 320.2h0M288.1 331.7h0M285.5 317.0h0M280.0 318.1h0M286.0 332.8h0M287.9 323.9h0M293.0 327.5h0M281.9 326.0h0M286.6 330.8h0M293.2 323.0h0M286.7 323.4h0M285.7 319.0h0M283.7 319.7h0M286.1 330.3h0M290.2 327.3h0M293.6 320.2h0M287.5 325.2h0M283.2 320.5h0M284.2 329.0h0M289.5 330.7h0M295.0 325.6h0M283.2 320.5h0M289.7 326.5h0M284.8 324.8h0M283.3 319.5h0M289.9 331.4h0M293.8 320.8h0M290.3 325.3h0" stroke="#c9c9c9" stroke-width="1.2" stroke-linecap="round" fill="none"/>
<path d="M293.8 336.2h0M289.2 330.9h0M294.6 332.2h0M288.1 329.8h0M288.9 336.3h0M289.2 332.1h0M298.8 332.2h0M293.3 327.4h0M294.8 335.2h0M292.7 327.7h0M290.8 329.5h0M293.5 335.8h0M292.7 329.3h0M293.2 339.5h0M287.2 332.1h0M298.2 333.3h0M289.2 329.3h0M294.1 331.6h0M289.4 333.0h0M290.5 333.6h0M290.8 338.6h0M297.2 329.3h0M286.5 331.5h0M291.9 330.6h0M293.7 331.1h0M295.1 329.9h0M290.8 328.5h0M290.9 335.7h0M292.4 333.0h0M298.5 328.7h0M294.4 330.8h0M297.7 329.2h0M286.7 333.8h0M296.4 330.3h0M296.1 338.9h0M288.2 329.1h0M291.0 326.7h0M293.6 326.9h0M288.0 329.5h0M294.0 327.5h0M287.8 336.2h0M290.8 329.1h0M299.7 331.1h0M287.8 337.5h0M299.3 330.6h0M295.6 338.0h0M294.6 333.7h0M299.6 334.9h0M289.4 337.1h0M297.3 336.8h0M289.0 332.7h0M290.5 328.9h0M290.0 336.9h0M288.2 330.1h0M298.7 335.6h0M290.1 336.6h0M290.7 329.0h0M295.8 332.2h0M299.6 330.9h0M293.0 334.3h0M293.4 338.0h0M291.6 331.9h0M292.1 332.8h0M295.3 334.5h0M296.2 334.1h0M297.3 333.5h0M294.9 337.7h0M290.5 336.3h0" stroke="#c9c9c9" stroke-width="1.2" stroke-linecap="round" fill="none"/>
<path d="M295.4 335.5h0M292.1 327.7h0M298.9 332.4h0M299.7 333.8h0M298.5 335.3h0M294.3 336.2h0M286.8 331.7h0M292.5 338.5h0M293.7 332.6h0M299.0 334.5h0M298.8 331.6h0M294.5 328.5h0M289.7 331.3h0M292.4 327.1h0M295.0 335.2h0M295.4 327.4h0M290.9 339.5h0M296.1 338.5h0M295.6 328.7h0M288.7 335.3h0M288.6 333.0h0M289.4 333.9h0M287.1 331.8h0M292.6 338.7h0M288.7 338.0h0M291.8 336.5h0M296.4 332.5h0M292.3 338.5h0M290.3 337.3h0M295.4 338.1h0M296.3 334.9h0" stroke="#c9c9c9" stroke-width="0.8" stroke-linecap="round" fill="none"/>
<path d="M298.5 331.4h0M295.7 329.9h0M289.5 334.9h0M291.4 335.6h0M296.0 334.4h0M293.3 337.5h0M294.9 331.1h0M293.5 338.8h0M288.7 338.0h0M291.0 327.7h0M295.0 330.5h0M298.2 337.2h0M299.2 331.1h0M286.8 335.1h0M289.3 329.5h0M293.9 338.6h0M298.4 336.6h0M288.4 336.6h0M291.7 339.4h0M296.7 337.4h0M299.3 331.3h0M296.6 327.3h0M290.7 338.3h0M293.1 339.9h0M297.8 334.7h0M293.8 327.5h0M293.4 334.8h0M290.3 334.1h0M294.0 339.4h0M290.3 331.6h0M297.2 338.4h0M288.1 331.5h0M295.0 333.8h0M290.6 326.5h0M292.8 327.7h0M295.5 335.2h0M288.9 337.3h0M286.1 333.0h0M290.0 333.9h0M288.1 330.8h0M291.2 330.4h0M293.9 335.1h0M289.2 327.8h0M293.3 332.6h0M294.0 338.6h0M292.7 335.8h0M286.1 332.1h0M299.2 330.7h0M287.5 332.7h0M295.5 335.6h0M288.2 335.8h0M295.6 331.0h0M286.4 333.8h0M290.5 336.1h0M296.0 339.2h0M293.0 327.8h0M295.8 330.1h0M288.1 328.7h0M288.2 331.3h0M297.3 330.5h0M295.2 335.0h0M296.5 337.5h0M293.5 340.0h0M296.9 330.2h0M293.6 334.4h0M291.4 326.9h0M288.0 334.0h0M292.2 335.0h0M292.9 329.6h0M288.6 335.3h0M293.2 326.6h0" stroke="#c9c9c9" stroke-width="1.0" stroke-linecap="round" fill="none"/>
<path d="M296.8 345.1h0M288.9 347.7h0M284.8 347.8h0M285.9 348.4h0M295.5 345.1h0M294.8 345.0h0M295.8 341.8h0M286.4 346.5h0M293.7 345.6h0M298.5 344.7h0M290.7 347.2h0M285.9 347.2h0M283.2 345.5h0M293.9 344.9h0M288.0 343.6h0M295.5 342.6h0M282.9 345.3h0M297.1 344.3h0M289.6 346.9h0M289.1 346.3h0M298.6 343.6h0M285.7 345.6h0M289.6 343.4h0M289.1 347.2h0M290.4 347.2h0M299.3 344.2h0M292.9 345.7h0M291.2 346.0h0M288.1 345.7h0M292.5 346.7h0M299.0 344.9h0M283.3 348.0h0M289.4 344.3h0M296.4 344.7h0M285.8 343.6h0M293.8 347.4h0M283.4 344.9h0M286.8 343.9h0M289.7 348.4h0M290.0 346.0h0M293.9 341.3h0M294.5 345.4h0M294.9 342.6h0M294.6 347.1h0M289.4 347.2h0M285.7 348.5h0M291.2 348.1h0M292.8 345.7h0M289.0 346.8h0M290.5 341.9h0M292.4 343.7h0M290.9 341.6h0" stroke="#c9c9c9" stroke-width="1.0" stroke-linecap="round" fill="none"/>
<path d="M295.8 345.0h0M295.0 347.3h0M297.2 342.5h0M297.2 341.6h0M289.8 346.8h0M296.8 344.1h0M288.5 343.9h0M289.5 346.4h0M297.9 342.9h0M292.6 348.0h0M285.6 344.6h0M286.8 347.9h0M282.5 346.4h0M290.9 342.8h0M284.5 345.2h0M289.3 348.3h0M294.8 346.0h0M290.3 347.1h0M287.7 342.4h0M288.7 345.6h0M286.1 345.1h0M296.7 346.6h0M296.1 344.4h0M299.2 343.5h0M294.9 344.1h0M297.5 345.0h0M297.3 344.4h0M292.5 347.4h0" stroke="#c9c9c9" stroke-width="0.8" stroke-linecap="round" fill="none"/>
<path d="M286.6 346.5h0M292.4 347.1h0M283.4 345.0h0M295.9 343.6h0M286.5 344.5h0M292.7 343.6h0M290.5 348.3h0M294.0 344.8h0M291.6 344.1h0M296.3 346.0h0M290.8 345.4h0M293.2 346.5h0M287.1 344.5h0M285.8 347.4h0M286.4 348.5h0M289.8 343.5h0M291.6 344.2h0M288.5 345.8h0M286.0 344.4h0M291.9 343.1h0M286.5 343.3h0M299.3 343.7h0M283.7 345.9h0M294.7 344.4h0M286.9 344.2h0M286.8 347.9h0M299.4 342.9h0M293.5 341.6h0M288.1 342.1h0M284.5 344.1h0M297.5 343.4h0M297.2 345.2h0M291.4 344.9h0M290.9 347.8h0M293.1 347.8h0M287.4 347.6h0M286.9 346.0h0M295.4 342.6h0M292.3 344.9h0M289.9 346.7h0M291.8 341.8h0M286.6 344.1h0M292.3 345.6h0M289.5 347.1h0M294.6 345.2h0M290.9 342.8h0M285.9 348.3h0M285.1 344.7h0M286.8 345.9h0M294.2 342.8h0" stroke="#c9c9c9" stroke-width="1.2" stroke-linecap="round" fill="none"/>
<path d="M276.2 338.0h0M278.8 338.2h0M282.7 338.2h0M282.8 334.0h0M284.0 336.3h0M282.5 335.3h0M281.8 337.1h0M278.4 339.3h0M282.2 331.9h0M281.5 331.3h0M277.4 334.8h0M280.8 332.8h0M279.5 336.0h0M280.1 332.7h0M281.6 339.5h0M277.4 332.9h0M279.9 334.5h0M281.6 337.8h0M282.0 339.0h0M280.4 339.9h0M283.5 332.6h0M284.3 335.6h0M280.3 335.7h0" stroke="#c9c9c9" stroke-width="1.2" stroke-linecap="round" fill="none"/>
<path d="M284.5 336.4h0M276.6 338.1h0M276.2 336.1h0M278.6 334.8h0M275.8 335.2h0M277.7 333.0h0M284.1 335.3h0M278.3 331.4h0M278.1 339.8h0M283.9 333.7h0M281.2 335.7h0M279.6 331.5h0M276.3 332.9h0M281.6 333.5h0M276.1 335.6h0M276.9 338.6h0M277.0 332.7h0M281.6 337.7h0M282.2 336.7h0M284.3 335.8h0M281.2 338.1h0M277.0 336.3h0M283.5 338.8h0M278.7 331.6h0" stroke="#c9c9c9" stroke-width="1.0" stroke-linecap="round" fill="none"/>
<path d="M279.5 333.2h0M279.4 332.4h0M277.1 334.3h0M276.2 337.4h0M284.1 335.9h0M280.0 336.6h0M281.5 332.2h0M283.0 332.5h0M280.5 331.5h0M279.7 340.9h0M281.3 340.5h0M278.0 336.9h0M276.3 336.4h0" stroke="#c9c9c9" stroke-width="0.8" stroke-linecap="round" fill="none"/>
<path d="M270.3 309.1h0M275.7 323.2h0M269.4 312.1h0M258.0 320.1h0M270.8 326.5h0M265.5 317.3h0M271.5 322.9h0M261.1 323.5h0M262.7 325.9h0M269.1 310.0h0M261.2 325.5h0M263.3 327.1h0M281.9 316.4h0M260.2 326.1h0M261.5 315.4h0M272.6 317.8h0M266.6 319.1h0M278.2 323.7h0M266.8 314.1h0M276.6 314.8h0M257.7 318.0h0M282.2 322.9h0M279.8 313.9h0M282.0 320.9h0M263.9 322.5h0M273.5 319.5h0M268.6 325.9h0M266.1 326.5h0M265.7 311.1h0M276.3 318.5h0M273.6 326.9h0M267.0 327.2h0M277.3 313.1h0M266.5 320.2h0M265.7 322.0h0M273.0 319.3h0M268.6 329.1h0M274.9 312.6h0M263.0 323.0h0M272.4 317.4h0M269.5 309.9h0M271.3 319.9h0M276.7 312.8h0M261.6 324.5h0M258.8 313.3h0M261.9 311.5h0M272.7 312.0h0M259.3 319.0h0M262.6 320.3h0M283.4 318.1h0M280.7 322.7h0M267.2 326.4h0M257.0 319.1h0M264.2 310.3h0M272.2 312.9h0M275.8 328.3h0M260.2 313.2h0M271.0 321.9h0M279.2 313.7h0M271.5 312.3h0M266.1 310.2h0M262.7 314.9h0M267.1 322.9h0M259.2 324.6h0M275.1 328.2h0M266.1 320.9h0M278.9 323.9h0M279.5 314.3h0M267.1 311.9h0M258.1 322.1h0M259.5 313.9h0M283.0 319.8h0M259.3 316.3h0M264.8 315.6h0M269.0 310.0h0M270.5 323.4h0M263.1 314.2h0M270.2 324.6h0M267.4 320.2h0M259.9 320.0h0M281.8 317.9h0M266.0 312.2h0M281.8 319.9h0M264.0 325.4h0M259.9 321.7h0M267.9 315.8h0M274.0 327.2h0M260.7 322.3h0M281.3 319.9h0M260.8 321.9h0M263.4 325.7h0M266.3 318.1h0M260.5 319.1h0M272.1 321.9h0M266.0 320.7h0M279.2 318.8h0M265.7 328.1h0M276.9 325.1h0M275.2 318.8h0M260.0 321.8h0M267.5 314.1h0M259.7 318.6h0M257.5 322.7h0M259.3 312.8h0M276.5 313.3h0M272.8 312.9h0M263.2 316.2h0M265.8 314.5h0M282.1 320.3h0M270.7 320.7h0M267.8 313.8h0M276.0 313.9h0M269.5 327.4h0M278.1 313.5h0M267.0 328.8h0M270.6 315.9h0M262.5 326.7h0M275.5 323.8h0M275.0 311.7h0M264.0 321.4h0M260.4 318.8h0M259.3 320.3h0M277.2 312.1h0M272.4 315.4h0M264.2 326.3h0M270.4 329.4h0M276.6 323.2h0M263.5 321.7h0M273.3 316.9h0M271.8 311.0h0M271.7 313.0h0M272.9 317.1h0M274.0 326.9h0M280.5 322.2h0M278.7 313.0h0M274.1 317.9h0M274.9 310.8h0M257.6 316.1h0M282.7 315.5h0M281.0 317.1h0M262.8 315.4h0M271.5 324.5h0M262.7 315.0h0M267.3 309.0h0M279.8 312.9h0M271.3 310.1h0M279.6 316.8h0M264.7 323.4h0M261.4 320.8h0M277.2 312.4h0M261.6 318.7h0M258.8 314.6h0M266.7 321.1h0M282.5 316.3h0M278.8 323.7h0M273.2 318.3h0M256.8 321.0h0M265.5 315.9h0M269.7 323.9h0M274.7 318.7h0M269.4 318.8h0M259.3 316.5h0M279.3 319.6h0M271.5 315.9h0M276.4 313.6h0M271.2 310.0h0M270.7 325.7h0M262.8 325.8h0M260.4 313.3h0M279.9 325.2h0M276.2 319.6h0M276.9 313.9h0M270.1 326.6h0M277.9 326.9h0M268.6 317.8h0M275.3 318.8h0M265.2 315.4h0M265.6 321.7h0M266.4 309.5h0M258.4 321.0h0M267.4 310.2h0M263.4 318.9h0M278.9 321.4h0M268.2 313.5h0" stroke="#c0a8dc" stroke-width="1.0" stroke-linecap="round" fill="none"/>
<path d="M275.3 325.2h0M276.0 315.4h0M278.9 326.5h0M264.3 310.9h0M261.2 320.6h0M271.6 323.8h0M258.9 316.9h0M277.2 320.9h0M275.1 324.8h0M256.9 318.8h0M269.8 311.0h0M259.7 322.2h0M282.4 318.3h0M269.2 322.6h0M258.2 320.6h0M260.9 315.6h0M269.5 312.0h0M259.8 316.8h0M268.7 327.2h0M280.2 321.4h0M272.8 318.3h0M276.4 324.0h0M272.0 318.9h0M265.8 309.7h0M280.0 323.3h0M274.7 319.9h0M266.9 314.7h0M260.4 317.0h0M279.6 320.8h0M257.9 320.6h0M270.6 325.1h0M261.2 324.5h0M271.6 319.4h0M268.6 318.5h0M264.3 322.1h0M267.2 309.0h0M271.6 311.5h0M272.9 311.3h0M273.5 325.8h0M281.2 324.8h0M276.5 320.2h0M269.1 311.4h0M260.1 323.7h0M266.6 320.7h0M274.6 309.7h0M258.2 319.0h0M269.6 327.0h0M277.6 316.3h0M263.3 316.2h0M260.5 315.9h0M271.4 321.7h0M262.1 315.3h0M274.9 317.8h0M269.9 308.8h0M278.8 319.6h0M271.2 320.3h0M274.3 313.1h0M256.8 319.5h0M276.7 316.8h0M271.9 324.5h0M266.7 319.9h0M267.8 321.8h0M270.0 315.3h0M280.1 313.1h0M278.4 321.6h0M272.0 313.7h0M265.7 320.9h0M281.5 320.4h0M268.1 315.5h0M258.3 321.3h0M265.9 319.1h0M267.5 324.6h0M265.9 328.1h0M264.7 327.9h0M267.6 314.8h0M261.9 316.8h0M282.1 320.5h0M278.3 325.6h0M268.2 317.0h0M259.4 316.9h0M266.3 310.3h0M278.8 315.1h0M265.1 315.2h0M280.8 313.5h0M283.2 317.5h0M271.1 320.8h0M278.0 323.4h0M278.4 311.0h0M277.5 323.2h0M261.6 316.6h0M275.4 314.1h0M270.4 326.1h0M276.0 317.2h0M271.3 314.4h0M267.0 321.3h0M278.1 320.1h0M271.5 309.9h0M276.3 310.2h0M277.5 321.8h0M263.5 321.5h0M261.0 326.6h0M276.8 312.6h0M271.4 327.6h0M269.7 328.7h0M281.0 315.7h0M278.0 325.2h0M258.8 322.1h0M263.8 327.5h0M259.0 319.1h0M268.1 309.1h0M263.4 317.7h0M273.0 318.3h0M264.9 322.9h0M258.2 322.3h0M277.5 325.7h0M268.2 314.3h0M261.8 311.2h0M275.7 327.9h0M279.3 315.3h0M281.1 321.9h0M262.5 317.8h0M268.6 329.4h0M270.4 319.5h0M266.8 311.8h0M267.8 323.5h0M264.4 328.5h0M279.6 316.7h0M268.4 328.5h0M279.9 313.7h0M271.7 328.6h0M266.8 314.3h0M276.1 328.1h0M271.7 321.5h0M265.3 325.8h0M269.8 324.1h0M262.2 316.8h0M279.4 314.2h0M274.0 327.0h0M279.3 323.0h0M268.6 328.6h0M268.2 324.2h0M269.8 317.7h0M275.1 322.9h0M267.6 328.1h0M280.3 320.9h0M271.9 328.3h0M265.1 319.9h0M264.2 326.8h0M272.9 327.7h0M271.8 310.8h0M274.4 311.6h0M277.4 311.7h0M263.1 325.6h0M265.1 322.7h0M266.6 314.7h0" stroke="#c0a8dc" stroke-width="1.4" stroke-linecap="round" fill="none"/>
<path d="M260.4 323.7h0M259.3 322.1h0M276.1 323.7h0M269.4 316.3h0M276.1 325.5h0M261.0 316.0h0M257.6 322.3h0M272.2 319.7h0M281.0 315.8h0M268.8 318.4h0M267.4 313.5h0M265.4 327.6h0M272.5 319.1h0M276.2 322.2h0M263.8 323.3h0M270.2 313.1h0M281.2 321.9h0M263.1 322.4h0M262.6 318.1h0M271.0 328.5h0M281.4 314.8h0M281.5 319.2h0M264.9 321.9h0M275.6 323.0h0M273.7 315.9h0M279.4 316.3h0M280.3 322.5h0M269.9 329.1h0M269.0 316.4h0M270.4 317.7h0M271.4 322.0h0M262.7 322.1h0M275.9 320.3h0M258.4 324.3h0M267.1 315.0h0M261.4 323.1h0M278.8 323.3h0M268.9 326.3h0M282.6 319.9h0M274.5 314.6h0M276.0 328.1h0M276.4 311.1h0M278.3 318.5h0M275.1 316.5h0M281.5 323.4h0M263.3 324.7h0M265.8 319.7h0M268.8 315.6h0M275.4 311.0h0M275.5 327.5h0M278.7 313.1h0M258.4 324.1h0M269.7 326.3h0M264.0 325.1h0M280.3 319.8h0M275.1 309.3h0M260.0 316.2h0M277.8 319.5h0M261.8 324.6h0M263.0 324.3h0M267.4 311.1h0M265.6 326.8h0M274.3 312.7h0M262.5 325.3h0M272.3 326.6h0M269.4 329.4h0M271.4 327.6h0M265.2 316.3h0M276.5 327.6h0M278.1 325.2h0M270.1 313.8h0M275.3 326.3h0M266.6 317.6h0M281.2 321.0h0M264.5 309.7h0M276.3 311.4h0M265.2 309.5h0M261.6 320.5h0M273.7 312.0h0M268.4 328.9h0M279.0 317.2h0M262.6 319.3h0M277.6 316.2h0M267.9 312.5h0M271.8 325.8h0M267.5 319.7h0M274.4 314.0h0M269.3 314.9h0M282.6 319.6h0M264.0 312.5h0M279.9 320.1h0M272.4 326.9h0M267.6 312.4h0M271.4 322.9h0M269.1 319.8h0M272.0 319.7h0M261.3 315.4h0M268.0 314.4h0M262.9 324.5h0M263.4 326.9h0M263.6 324.7h0M274.5 317.2h0M259.7 322.3h0M260.0 325.6h0M266.0 313.7h0M281.4 321.2h0M269.4 315.1h0M280.7 316.7h0M272.3 314.0h0M278.3 325.0h0M280.4 325.1h0M278.3 320.4h0M262.4 314.2h0M280.8 314.2h0M270.6 323.2h0M267.3 319.5h0M277.0 311.2h0M272.1 329.2h0M264.6 320.6h0M274.4 312.8h0M274.6 314.0h0M262.6 326.1h0M276.3 320.3h0M259.4 314.8h0M267.1 316.2h0M271.0 323.6h0M267.2 323.9h0M260.1 313.9h0M276.3 319.2h0M265.7 328.2h0M274.1 314.4h0M273.7 326.4h0M265.6 311.1h0M271.4 321.5h0M266.7 316.2h0M263.7 311.0h0M264.9 319.4h0M259.6 317.0h0M263.6 310.3h0M259.9 314.7h0M270.2 310.2h0" stroke="#c0a8dc" stroke-width="1.2" stroke-linecap="round" fill="none"/>
<path d="M262.7 326.5h0M265.1 331.7h0M264.5 326.7h0M267.9 330.4h0M271.4 326.8h0M266.0 332.1h0M263.5 327.0h0M266.8 324.0h0M263.4 330.1h0M273.3 326.0h0M268.4 324.6h0M264.0 332.5h0M269.9 324.1h0M262.2 329.2h0M269.8 330.6h0M270.0 332.0h0M266.0 323.1h0M261.8 330.7h0M270.4 328.8h0M271.8 324.6h0M267.1 323.9h0M273.4 326.4h0M271.5 331.1h0M272.8 327.1h0M263.7 327.0h0M263.6 327.9h0M260.3 328.9h0M268.0 326.0h0M260.8 329.4h0M261.6 330.3h0M265.1 323.3h0M261.6 330.3h0M273.2 327.1h0M267.7 332.6h0" stroke="#a888cc" stroke-width="1.0" stroke-linecap="round" fill="none"/>
<path d="M265.7 327.5h0M270.4 325.2h0M268.3 324.8h0M260.8 326.0h0M266.5 333.0h0M268.6 328.7h0M264.0 332.4h0M264.6 332.1h0M263.0 330.2h0M263.3 327.8h0M270.6 323.7h0M265.8 323.6h0M266.0 330.2h0M269.7 323.7h0M271.7 331.6h0M265.0 331.9h0" stroke="#a888cc" stroke-width="0.8" stroke-linecap="round" fill="none"/>
<path d="M272.4 327.4h0M260.8 329.4h0M269.6 332.3h0M272.4 327.1h0M271.5 332.0h0M262.5 326.6h0M263.2 327.1h0M268.3 327.6h0M265.5 327.8h0M274.3 329.1h0M265.0 326.3h0M266.7 326.6h0M273.8 327.0h0M270.9 323.8h0M268.7 329.6h0M262.9 325.8h0M265.6 328.5h0M263.0 330.4h0M272.9 330.6h0M263.3 323.9h0M274.2 328.0h0M270.9 330.9h0M271.6 326.1h0M272.8 326.8h0M264.7 331.9h0M263.7 325.7h0M264.0 332.0h0M266.1 332.2h0M260.1 326.8h0M267.6 326.0h0M263.1 331.7h0M259.7 330.0h0M268.4 324.7h0M266.8 323.3h0M270.5 328.8h0M270.2 326.6h0M271.3 329.3h0M260.8 325.6h0M269.1 328.8h0M269.9 327.2h0" stroke="#a888cc" stroke-width="1.2" stroke-linecap="round" fill="none"/>
<path d="M264.8 326.3h0M271.4 321.7h0M268.4 325.6h0M274.0 326.1h0M270.8 321.4h0M272.2 325.0h0M271.3 319.7h0M269.8 323.2h0M275.8 322.4h0M264.0 320.5h0M274.7 324.3h0M266.9 319.6h0M264.2 324.1h0M268.4 319.6h0M266.0 321.8h0M276.1 321.6h0M265.5 324.6h0M269.0 321.6h0M272.1 326.2h0M264.1 325.5h0M268.9 320.5h0M271.7 322.3h0M264.8 323.2h0M265.3 324.5h0M276.0 322.0h0M271.6 321.6h0M272.0 327.4h0M275.0 322.6h0M274.0 326.1h0M264.3 320.2h0M263.2 322.8h0M269.1 323.0h0M270.5 322.1h0M269.2 324.4h0M268.4 320.1h0M264.8 323.0h0M265.3 319.9h0M268.4 322.9h0M272.0 319.3h0M272.9 319.1h0M265.3 326.5h0M272.8 319.6h0M264.3 325.4h0" stroke="#5a2a80" stroke-width="1.0" stroke-linecap="round" fill="none"/>
<path d="M272.9 324.9h0M274.8 321.9h0M271.8 318.8h0M276.0 321.9h0M270.6 319.0h0M264.0 323.0h0M267.7 323.4h0M270.1 320.0h0M264.9 320.5h0M269.1 326.5h0M269.5 319.2h0M268.6 325.3h0M270.4 325.2h0M273.7 326.4h0M268.1 324.6h0M274.1 322.5h0M273.3 327.0h0M272.2 326.9h0M273.6 324.4h0M266.1 323.4h0M269.0 324.4h0M264.7 320.0h0M264.8 325.6h0M272.2 326.5h0M271.9 322.6h0M272.6 326.1h0M263.4 321.6h0M272.8 320.7h0M276.9 323.4h0M271.8 320.0h0M269.7 322.6h0M274.4 323.3h0M273.6 320.0h0M265.9 322.8h0M268.0 320.5h0M268.7 322.9h0M270.3 325.1h0M273.5 326.7h0M274.2 319.9h0M266.6 325.3h0M274.0 322.9h0M271.7 322.9h0M269.5 325.1h0M269.0 327.1h0" stroke="#5a2a80" stroke-width="1.2" stroke-linecap="round" fill="none"/>
<path d="M270.3 321.1h0M262.9 322.1h0M269.2 322.8h0M267.4 323.1h0M274.3 325.7h0M268.7 324.2h0M271.2 325.0h0M268.6 321.5h0M272.5 319.4h0M271.5 321.1h0M269.9 319.2h0M263.8 325.1h0M267.2 324.9h0M264.1 323.4h0M264.0 322.7h0M267.2 319.8h0M269.0 324.8h0M268.5 320.3h0" stroke="#5a2a80" stroke-width="0.8" stroke-linecap="round" fill="none"/>
<path d="M270.1 323.5h0M272.0 325.3h0M265.9 322.3h0M273.1 323.6h0M271.8 324.6h0M269.7 323.0h0M270.2 324.4h0M275.2 324.0h0M268.8 324.8h0M269.9 322.0h0M265.9 323.4h0M273.6 321.2h0M273.9 322.5h0M269.2 325.6h0M275.6 323.0h0M268.4 323.4h0M269.4 326.3h0M268.7 320.9h0M270.3 326.7h0M271.7 324.7h0M267.9 325.4h0M269.7 320.6h0M273.6 322.9h0M272.2 323.7h0M273.8 323.5h0M271.6 321.2h0M272.6 325.9h0M265.4 323.2h0M270.5 323.7h0M274.8 322.0h0M270.3 321.6h0M274.2 324.3h0M275.1 325.0h0" stroke="#45166a" stroke-width="1.2" stroke-linecap="round" fill="none"/>
<path d="M275.2 324.6h0M266.3 325.4h0M267.8 321.1h0M268.2 325.5h0M270.1 320.8h0M268.3 322.6h0M267.9 321.8h0M266.5 323.4h0M268.6 322.8h0M267.6 325.4h0M272.4 323.6h0M268.9 323.5h0M270.8 320.5h0M271.1 322.7h0M271.8 324.9h0" stroke="#45166a" stroke-width="1.0" stroke-linecap="round" fill="none"/>
<path d="M268.5 320.7h0M266.8 322.1h0M272.9 322.7h0M271.9 320.8h0M272.6 322.7h0M274.4 322.6h0M268.5 324.6h0M266.8 321.9h0M272.2 321.8h0M271.2 325.0h0M274.9 325.2h0M275.0 323.9h0" stroke="#45166a" stroke-width="0.8" stroke-linecap="round" fill="none"/>
<path d="M263.2 330.9h0M266.1 333.5h0M269.8 332.9h0M266.9 335.6h0M261.2 334.8h0" stroke="#7a4f9a" stroke-width="0.8" stroke-linecap="round" fill="none"/>
<path d="M269.5 333.4h0M262.7 333.2h0M266.8 331.9h0M264.6 334.9h0M267.7 335.5h0M264.9 334.8h0M265.0 331.5h0" stroke="#7a4f9a" stroke-width="1.2" stroke-linecap="round" fill="none"/>
<path d="M262.9 332.5h0M261.5 334.0h0M262.0 331.8h0M264.3 333.5h0M265.7 335.3h0M268.2 333.3h0M261.7 331.1h0M264.2 334.0h0" stroke="#7a4f9a" stroke-width="1.0" stroke-linecap="round" fill="none"/>
</g>
<g clip-path="url(#cI2)">
<path d="M279.1 367.8h0M296.0 366.7h0M280.4 374.3h0M291.6 369.5h0M287.1 361.8h0M287.7 360.8h0M280.4 369.1h0M266.4 370.1h0M268.5 365.9h0M270.9 358.5h0M276.8 362.1h0M267.5 360.5h0M268.4 371.3h0M282.8 365.1h0M288.7 366.5h0M271.8 371.2h0M284.8 364.5h0M274.2 360.7h0M281.8 362.7h0M267.3 367.8h0M268.2 360.8h0M281.4 370.9h0M268.9 364.1h0M287.1 374.3h0M261.2 364.6h0M262.6 362.1h0M277.2 359.4h0M276.8 374.3h0M274.3 373.8h0M287.9 371.4h0M265.8 366.4h0M282.3 361.8h0M270.6 362.9h0M269.1 365.7h0M286.3 372.9h0M262.9 362.0h0M290.0 360.9h0M287.8 370.6h0M280.3 358.8h0M275.8 362.2h0M264.3 361.8h0M292.6 364.6h0M266.2 370.2h0M272.2 362.3h0M279.7 364.9h0M280.1 364.4h0M286.3 359.8h0M271.3 366.1h0M288.7 373.8h0M264.3 364.0h0M267.9 363.9h0M260.5 364.9h0M277.4 369.7h0M291.5 362.2h0M278.4 370.5h0M271.6 373.1h0M274.5 371.2h0M277.2 358.9h0M291.3 371.5h0M271.9 369.3h0M293.1 370.0h0M268.1 370.8h0M285.7 372.6h0M277.1 370.9h0M292.5 370.6h0M273.3 364.6h0M282.9 372.8h0M280.3 359.5h0M295.2 368.2h0M295.8 367.6h0M280.0 359.0h0M291.7 368.4h0M268.8 361.1h0M277.3 366.3h0M265.3 368.8h0M262.1 366.7h0M293.7 369.4h0M293.4 368.5h0M272.3 373.8h0M272.0 364.7h0M277.5 370.4h0M284.0 359.8h0M282.1 359.2h0M291.0 367.6h0M284.6 372.5h0M274.1 366.7h0M293.8 364.0h0M284.7 369.8h0M278.2 366.1h0M296.3 368.0h0M280.9 369.3h0M289.5 362.6h0M293.3 368.7h0M266.8 366.6h0M263.5 366.1h0M290.6 373.2h0M273.3 360.1h0M278.4 366.5h0M288.0 361.1h0M284.6 362.9h0M287.9 361.5h0M287.4 370.5h0M261.8 366.5h0M288.3 371.0h0M285.4 369.8h0M288.3 368.3h0M283.6 372.9h0M273.8 374.5h0M270.7 362.4h0M287.9 369.8h0M283.3 366.3h0M278.4 358.3h0M265.4 366.5h0M276.7 358.5h0M271.5 368.3h0M267.3 369.2h0M284.4 373.7h0M292.1 366.4h0M279.6 372.1h0M279.7 361.5h0M286.6 360.2h0M276.7 359.4h0M291.0 362.5h0M277.1 359.9h0M283.5 367.2h0M286.4 367.7h0M282.5 362.1h0M284.8 371.9h0M286.5 372.5h0M282.3 368.5h0M287.8 367.9h0M295.8 368.1h0M289.7 369.9h0M280.1 362.3h0M287.3 373.6h0M265.0 360.4h0M295.3 369.7h0M274.3 362.7h0M287.8 370.5h0M283.2 359.3h0M283.9 369.6h0M268.3 366.7h0M285.3 366.4h0M271.0 368.1h0M266.5 362.0h0M287.3 369.7h0M270.1 360.3h0M272.8 371.1h0M261.6 366.4h0M264.6 370.9h0M288.5 365.9h0M275.7 362.3h0M296.0 368.4h0M275.2 360.5h0M293.8 364.9h0M275.2 373.5h0M275.5 369.3h0M286.1 362.3h0M275.2 366.8h0M274.0 363.8h0M285.2 371.5h0M264.3 370.8h0M267.2 369.0h0M264.3 364.7h0M291.3 371.3h0M276.4 372.3h0M273.7 360.1h0M273.3 361.8h0M261.6 368.9h0M272.5 374.1h0M283.5 367.8h0M275.4 362.4h0M279.0 363.8h0M265.4 363.3h0M271.8 367.6h0M264.6 367.5h0M266.4 365.1h0M287.1 372.7h0M278.3 374.6h0M277.1 360.0h0M292.2 366.7h0M281.8 373.9h0M272.8 369.3h0M277.7 358.7h0M269.4 371.9h0M284.5 362.7h0M288.0 361.4h0M274.1 372.7h0M291.7 364.0h0M278.8 370.2h0M263.2 363.5h0M268.4 362.7h0M266.0 360.2h0M288.6 364.3h0M291.2 361.3h0M263.2 361.0h0M279.0 368.2h0M282.7 360.5h0M295.5 364.5h0M287.3 362.4h0M274.6 366.3h0M287.5 366.9h0M290.2 364.0h0M277.3 372.9h0M275.1 362.5h0M289.1 365.7h0M264.2 361.2h0M281.8 358.5h0M274.6 370.2h0M264.0 369.2h0M268.8 373.4h0M273.7 373.0h0M272.7 370.7h0M277.4 363.0h0M266.8 360.4h0M289.4 370.8h0M273.9 366.4h0M273.7 369.8h0M286.1 371.4h0M278.6 367.0h0M285.4 366.1h0M277.4 370.0h0M260.7 368.5h0M285.3 361.0h0M282.4 368.6h0M281.1 359.9h0M286.1 372.5h0M293.4 363.8h0M280.2 373.3h0M269.3 370.6h0M278.3 365.6h0M265.2 365.7h0M272.1 365.3h0M263.1 370.4h0M275.1 361.8h0M271.4 360.1h0M289.0 362.8h0M268.7 361.5h0M282.2 364.5h0M274.3 368.3h0M292.9 370.7h0M287.6 362.1h0M278.2 364.3h0M279.4 363.9h0M290.2 368.5h0M268.3 368.2h0M272.6 368.9h0M265.8 370.1h0M295.1 365.1h0M283.3 369.9h0" stroke="#c9c9c9" stroke-width="1.0" stroke-linecap="round" fill="none"/>
<path d="M282.5 364.2h0M274.0 364.7h0M279.3 364.3h0M285.2 371.2h0M286.4 365.9h0M292.3 363.5h0M278.7 358.2h0M294.4 364.5h0M282.2 374.1h0M291.7 364.4h0M283.4 359.0h0M271.5 366.4h0M288.2 373.7h0M286.6 363.3h0M284.4 370.7h0M268.3 363.6h0M277.7 365.3h0M278.6 374.8h0M279.6 358.7h0M272.5 364.8h0M264.9 366.5h0M270.8 366.6h0M273.8 361.1h0M286.3 360.8h0M266.0 369.1h0M287.1 363.6h0M295.2 366.2h0M268.3 366.0h0M279.0 373.2h0M284.5 363.7h0M296.0 367.7h0M292.0 371.7h0M289.4 364.0h0M264.2 367.2h0M283.4 368.1h0M281.6 373.3h0M281.6 372.1h0M264.7 360.9h0M274.4 367.3h0M277.1 370.3h0M294.3 371.0h0M262.8 365.1h0M289.7 372.8h0M286.8 372.7h0M279.5 371.8h0M289.3 368.5h0M274.6 369.8h0M272.4 367.8h0M284.1 362.8h0M261.3 366.4h0M286.1 368.3h0M270.3 360.6h0M265.3 360.2h0M284.8 359.2h0M278.2 365.8h0M286.4 359.7h0M292.1 364.9h0M289.3 364.6h0M282.0 374.1h0M278.6 359.8h0M279.8 368.0h0M293.3 366.6h0M266.1 364.7h0M268.7 370.0h0M281.6 370.7h0M264.3 365.1h0M281.6 374.4h0M285.5 363.3h0M290.7 371.1h0M284.3 363.4h0M268.9 366.4h0M276.3 367.4h0M284.3 363.3h0M279.3 372.0h0M285.8 359.5h0M269.8 359.2h0M265.5 366.3h0M270.8 363.6h0M273.6 370.5h0M272.3 363.7h0M274.4 360.4h0M278.1 369.0h0M269.9 372.9h0M284.3 369.6h0M278.8 362.5h0M280.4 358.6h0M294.5 365.4h0M275.5 372.0h0M276.7 368.9h0M282.5 362.1h0M273.8 367.4h0M271.8 372.4h0M264.9 371.8h0M266.9 363.3h0M278.2 366.1h0M274.3 361.4h0M269.9 360.8h0M284.9 365.5h0M272.2 370.2h0M289.8 368.6h0M271.8 358.9h0M289.1 372.7h0M287.3 370.9h0M283.4 372.5h0M272.8 365.6h0M273.0 366.5h0M289.1 368.7h0M275.3 368.5h0M289.0 364.0h0M292.7 362.7h0M280.8 360.1h0M277.8 372.6h0M275.6 360.6h0M278.7 374.8h0M292.7 370.2h0M271.3 359.3h0M268.6 362.9h0M293.5 370.5h0M280.4 359.0h0M272.5 372.0h0M284.3 360.6h0M276.6 365.4h0M278.1 359.7h0M268.3 359.5h0M286.7 359.5h0M269.1 367.4h0M271.3 373.8h0M281.1 368.5h0M272.1 364.5h0M267.5 361.7h0M285.9 369.2h0M288.1 368.2h0M284.7 365.0h0M276.8 359.9h0M267.2 366.7h0M294.5 369.5h0M277.9 362.6h0M281.8 371.0h0M293.2 363.2h0M292.4 362.1h0M281.2 364.6h0M269.8 364.0h0M291.6 364.0h0M272.1 368.8h0M267.4 361.8h0M293.7 364.5h0M280.1 362.1h0M284.9 371.2h0M269.8 359.5h0M263.8 371.0h0M283.2 367.8h0M268.8 361.7h0M266.8 372.4h0M287.8 370.5h0M273.0 360.7h0M283.1 362.9h0M290.4 366.6h0M274.2 361.6h0M289.3 362.5h0M270.8 360.9h0M283.4 359.1h0M292.3 367.6h0M284.7 364.5h0M274.6 370.7h0M282.3 364.8h0M292.1 372.0h0M276.6 373.8h0M289.5 366.1h0M286.9 367.1h0M279.0 365.9h0M275.5 369.3h0M265.5 366.0h0M273.5 372.4h0M269.7 359.2h0M280.3 370.0h0M285.1 368.4h0M278.5 374.1h0M271.7 359.1h0M288.8 369.3h0M263.3 370.0h0M270.5 363.9h0M268.0 367.6h0M263.6 363.4h0M280.1 371.3h0M273.0 361.9h0M286.6 374.2h0M295.1 365.6h0M293.5 366.1h0M268.9 373.3h0M294.2 367.7h0M280.1 366.7h0M292.4 361.8h0M274.6 360.6h0M287.5 368.7h0M284.0 372.1h0M266.7 365.0h0M291.9 361.6h0M270.5 361.1h0M271.8 359.5h0M284.1 368.0h0M288.8 370.5h0M261.0 364.2h0M283.2 368.9h0M277.1 367.7h0M269.4 367.6h0M288.0 369.4h0M268.4 365.5h0M267.9 370.7h0M280.1 364.3h0M272.2 371.1h0M276.8 362.3h0M278.0 369.6h0M289.3 370.7h0M294.3 368.1h0M281.7 358.6h0M291.7 370.5h0M270.9 360.7h0M273.4 372.4h0M283.8 371.4h0M270.2 370.8h0M276.3 369.4h0M266.7 369.8h0M288.6 362.6h0M295.1 365.9h0M271.5 361.2h0M266.4 367.7h0M268.7 364.6h0M273.1 372.8h0M283.0 374.2h0M291.4 361.2h0M277.5 360.4h0M264.9 367.3h0M291.1 365.1h0M263.2 368.0h0M283.6 366.5h0M288.1 362.7h0M265.6 368.3h0M282.5 369.3h0M267.5 370.7h0M279.6 372.7h0M294.6 365.9h0M290.4 372.9h0M284.8 372.8h0M290.9 364.2h0M276.2 370.7h0M270.3 360.3h0M275.6 367.9h0M294.0 365.2h0M265.4 360.3h0M276.0 362.5h0M282.9 371.6h0M269.0 360.3h0M272.1 361.0h0M285.9 361.7h0M288.7 363.8h0" stroke="#c9c9c9" stroke-width="1.2" stroke-linecap="round" fill="none"/>
<path d="M274.3 365.9h0M288.2 364.0h0M293.0 364.8h0M278.9 367.2h0M270.2 370.1h0M268.6 372.7h0M262.9 364.5h0M274.7 362.8h0M275.3 362.0h0M279.1 368.6h0M292.2 366.0h0M272.4 370.7h0M268.6 360.8h0M294.9 369.2h0M269.0 366.9h0M270.4 359.7h0M284.0 370.8h0M282.8 359.5h0M275.0 362.5h0M264.2 364.0h0M295.5 369.7h0M280.4 359.1h0M279.4 359.8h0M287.6 372.3h0M276.3 362.4h0M277.5 361.4h0M288.0 367.3h0M278.6 364.4h0M293.0 367.6h0M276.4 363.0h0M275.7 360.1h0M261.1 365.2h0M272.9 371.9h0M269.5 370.9h0M277.1 360.1h0M277.6 373.9h0M284.4 360.9h0M273.0 373.6h0M267.5 359.9h0M292.6 362.4h0M281.7 374.1h0M272.6 374.4h0M286.2 360.3h0M289.0 372.8h0M266.7 369.8h0M273.3 361.6h0M276.7 365.1h0M265.8 363.0h0M270.4 361.1h0M270.7 374.0h0M261.0 368.3h0M280.0 366.5h0M266.5 371.7h0M260.2 365.6h0M272.3 360.0h0M277.7 369.2h0M284.8 371.2h0M275.7 365.8h0M280.3 365.6h0M289.4 373.2h0M282.2 362.0h0M290.8 363.3h0M278.8 367.5h0M276.2 360.0h0M272.7 359.0h0M272.7 372.2h0M275.8 371.4h0M266.4 368.8h0M287.3 369.8h0M266.9 370.5h0M268.5 360.6h0M270.5 364.5h0M289.4 371.1h0M284.3 365.2h0M262.0 367.6h0M275.7 365.2h0M271.6 370.3h0M293.4 371.0h0M292.5 362.7h0M285.8 360.7h0M269.8 369.0h0M271.8 369.3h0M296.4 367.8h0M268.7 366.6h0M275.0 374.2h0M283.4 373.0h0M291.1 371.3h0M265.1 362.4h0M265.9 367.1h0M286.5 370.9h0M274.5 363.8h0M294.2 363.3h0M273.4 366.7h0M271.6 370.7h0M275.4 368.6h0" stroke="#c9c9c9" stroke-width="0.8" stroke-linecap="round" fill="none"/>
<path d="M291.6 380.4h0M292.0 379.0h0M295.0 387.5h0M296.7 391.1h0M293.4 391.5h0M286.9 391.0h0M292.3 391.9h0M286.3 377.7h0M291.9 392.2h0M289.6 391.9h0M299.0 378.7h0M295.1 387.9h0M290.9 379.4h0M290.8 384.4h0M287.5 375.0h0M289.2 387.4h0M292.7 388.6h0M287.2 392.4h0M293.3 374.4h0M290.2 391.0h0M293.2 371.0h0M294.8 386.0h0M291.5 385.9h0M298.4 378.6h0M291.5 390.9h0M289.5 390.6h0M295.0 377.1h0M286.8 383.5h0M286.7 379.6h0M289.3 380.9h0M287.3 372.9h0M291.2 389.2h0M296.7 374.7h0M284.0 386.2h0M297.3 390.2h0M297.0 384.5h0M289.4 393.5h0M284.6 376.5h0M290.4 371.4h0M291.1 372.3h0M292.1 372.6h0M295.6 386.7h0M297.3 389.4h0M294.2 388.2h0M286.4 373.0h0M295.8 378.7h0M291.0 370.3h0M290.4 378.4h0M293.9 378.7h0M288.9 394.1h0M297.7 383.6h0M296.4 380.9h0M287.8 378.9h0M288.6 380.5h0M286.8 372.0h0M294.7 384.0h0M289.9 392.0h0M285.1 382.1h0M287.5 378.1h0M287.6 387.0h0M289.4 373.4h0M299.0 379.5h0M292.0 385.0h0M286.7 383.6h0M287.6 373.7h0M285.1 379.8h0M289.3 380.4h0M291.9 383.2h0M293.5 374.4h0M292.0 392.2h0M285.8 384.6h0M289.6 384.0h0M287.1 393.1h0M291.6 372.3h0M296.5 383.2h0M287.1 392.3h0M284.6 384.5h0M284.4 386.4h0M296.5 375.6h0M287.8 380.1h0M295.3 392.6h0M284.2 379.9h0M284.1 383.7h0M294.4 376.0h0M284.6 374.9h0M288.7 379.3h0M288.3 376.0h0M290.7 380.5h0M286.4 379.9h0M285.4 383.8h0M296.6 376.4h0M290.8 371.3h0M293.2 371.4h0M297.7 389.3h0M298.7 380.0h0M296.1 375.1h0M292.1 383.8h0M293.1 377.1h0M286.6 383.8h0M283.9 383.6h0M286.0 382.5h0M295.5 392.0h0M287.7 389.1h0M290.2 378.7h0M290.9 387.9h0M297.2 380.5h0M287.4 374.2h0M286.9 380.3h0M286.8 383.5h0M294.7 382.7h0M289.2 392.8h0M287.9 393.3h0M292.2 393.9h0M295.1 381.9h0M296.1 384.4h0M295.2 376.9h0M288.2 379.8h0M298.8 385.1h0M288.4 379.9h0M290.3 375.9h0M295.3 373.7h0M286.6 384.4h0M288.6 374.1h0M299.5 381.7h0M292.6 382.8h0M285.5 374.1h0M286.4 386.0h0M291.7 371.5h0M296.4 391.6h0M287.6 375.2h0M289.3 374.4h0M290.7 372.5h0M295.0 373.8h0M285.7 382.7h0M294.0 391.4h0M289.5 375.1h0M286.2 390.1h0M293.2 376.2h0M292.0 382.2h0M287.1 391.8h0M290.7 392.7h0M289.6 380.1h0M282.6 383.5h0M285.2 384.6h0M290.5 384.4h0M299.2 381.2h0M292.9 373.0h0M296.0 378.4h0M290.6 372.4h0M288.9 374.9h0M295.0 379.8h0M285.5 379.4h0M284.9 390.5h0M291.4 382.4h0M285.1 385.9h0M296.0 384.1h0M291.9 370.4h0M286.5 371.6h0M283.3 380.2h0M290.3 392.5h0M288.5 375.3h0M285.0 378.0h0M286.7 380.9h0M292.9 376.2h0M287.1 387.7h0M292.5 384.7h0M289.9 375.0h0M287.9 372.0h0M288.4 390.0h0M298.3 376.9h0M289.3 370.5h0M296.5 391.4h0M289.7 382.3h0M289.8 370.8h0M296.4 378.0h0" stroke="#c9c9c9" stroke-width="1.2" stroke-linecap="round" fill="none"/>
<path d="M284.9 382.4h0M290.9 391.0h0M288.1 384.1h0M289.5 389.3h0M286.2 387.9h0M295.4 389.2h0M292.8 371.9h0M291.9 386.7h0M292.0 370.9h0M290.8 382.5h0M298.2 385.5h0M284.9 377.4h0M288.4 393.5h0M289.4 369.9h0M288.0 371.4h0M283.4 378.9h0M297.7 379.9h0M291.9 387.1h0M288.5 389.3h0M282.8 379.9h0M290.5 376.4h0M283.6 376.8h0M287.8 387.8h0M284.4 377.7h0M292.6 391.5h0M290.0 370.4h0M298.3 379.3h0M294.6 374.3h0M284.6 384.7h0M294.1 374.3h0M283.8 385.7h0M289.6 372.2h0M287.2 381.0h0M287.8 389.0h0M296.5 379.9h0M290.3 379.8h0M284.8 383.3h0M287.6 386.3h0M284.5 376.5h0M297.3 388.9h0M296.5 388.9h0M289.2 378.6h0M286.0 372.9h0M294.3 370.9h0M284.2 388.9h0M283.8 385.9h0M295.3 377.3h0M287.9 375.7h0M286.8 389.7h0M290.9 369.8h0M288.0 376.7h0M291.6 378.3h0M283.6 380.0h0M282.7 380.9h0M289.0 387.0h0M293.1 374.6h0M289.6 380.7h0M287.5 372.1h0M290.2 383.0h0M293.1 382.7h0M286.7 380.3h0M292.5 385.4h0M288.6 386.1h0M292.7 372.5h0M293.4 381.2h0M297.3 382.9h0M299.2 380.2h0M286.2 388.6h0M296.5 390.4h0M285.0 390.5h0M286.1 381.4h0M285.0 379.4h0M290.0 376.8h0M298.5 379.7h0M285.8 374.7h0M286.0 381.0h0M290.6 378.8h0M287.4 383.5h0M297.5 378.0h0M293.5 383.9h0M283.9 375.5h0M297.1 377.5h0M299.0 380.3h0M291.2 378.1h0M288.9 386.4h0M287.7 390.0h0M283.4 386.7h0M286.0 377.6h0M286.0 385.3h0M290.6 379.0h0M294.7 377.6h0M294.7 375.2h0M288.6 390.0h0M294.1 386.5h0M290.4 389.7h0M286.6 375.8h0" stroke="#c9c9c9" stroke-width="0.8" stroke-linecap="round" fill="none"/>
<path d="M297.2 380.9h0M292.8 389.6h0M283.8 384.9h0M295.9 386.9h0M291.0 383.5h0M285.4 374.1h0M293.9 376.8h0M293.8 392.5h0M287.7 372.0h0M293.6 393.2h0M298.5 384.6h0M285.7 386.3h0M283.6 385.8h0M291.8 371.7h0M290.6 387.9h0M290.1 387.2h0M296.2 388.6h0M291.5 389.7h0M287.0 386.7h0M284.0 379.9h0M286.3 388.2h0M296.1 374.6h0M295.6 383.9h0M288.6 378.5h0M295.6 390.7h0M283.5 377.5h0M284.8 387.6h0M287.4 387.3h0M294.0 376.4h0M292.4 393.6h0M283.5 384.9h0M288.4 375.0h0M288.8 392.2h0M297.3 375.5h0M296.5 382.2h0M287.1 371.8h0M293.5 392.0h0M289.9 387.6h0M293.9 371.4h0M299.1 384.9h0M288.0 393.4h0M298.4 381.5h0M299.0 383.8h0M287.0 390.6h0M287.8 379.1h0M294.8 391.3h0M289.2 384.1h0M287.8 380.5h0M294.5 384.2h0M295.9 386.7h0M286.6 383.0h0M283.8 384.5h0M296.9 378.3h0M290.5 370.9h0M286.5 386.9h0M292.3 390.4h0M287.9 376.3h0M293.3 372.6h0M298.3 375.8h0M296.4 385.6h0M296.0 374.7h0M290.2 394.2h0M295.6 387.3h0M296.0 388.9h0M285.6 384.4h0M295.6 389.9h0M291.4 369.8h0M290.6 381.9h0M289.3 381.3h0M293.8 377.7h0M290.1 371.0h0M285.4 373.6h0M293.0 378.5h0M296.3 382.1h0M289.3 378.9h0M288.5 378.5h0M290.3 384.7h0M288.6 376.1h0M286.7 374.0h0M289.5 385.5h0M290.5 379.1h0M293.1 385.5h0M285.7 377.9h0M292.6 390.9h0M288.8 382.6h0M294.4 385.5h0M291.5 378.0h0M293.9 378.5h0M285.7 374.9h0M295.7 375.0h0M294.7 391.0h0M298.3 378.8h0M299.4 383.4h0M295.1 374.7h0M285.3 387.2h0M298.3 382.4h0M286.3 372.8h0M286.9 382.1h0M295.5 372.9h0M291.9 379.8h0M290.4 375.4h0M294.7 371.3h0M298.7 377.1h0M296.8 387.1h0M293.0 388.4h0M294.8 383.0h0M284.6 377.9h0M290.0 384.9h0M287.0 382.4h0M293.8 385.0h0M287.4 371.8h0M286.8 392.5h0M286.4 390.0h0M285.5 377.7h0M288.7 375.2h0M288.1 371.1h0M287.3 383.1h0M291.0 389.9h0M293.5 389.7h0M296.3 377.6h0M289.3 385.6h0M296.2 387.2h0M290.8 393.3h0M288.0 378.0h0M293.4 371.0h0M296.5 384.6h0M293.1 382.1h0M288.5 389.9h0M283.7 385.4h0M290.1 386.8h0M283.0 381.1h0M289.5 381.5h0M297.3 384.8h0M297.7 383.2h0M292.2 381.8h0M292.8 388.1h0M290.6 385.2h0M295.3 378.0h0M287.7 372.3h0M284.8 383.1h0M297.9 383.4h0M286.6 381.5h0M298.8 381.9h0M288.3 391.4h0M286.1 375.6h0M292.7 381.3h0M296.4 389.5h0M284.4 377.4h0M297.9 380.8h0" stroke="#c9c9c9" stroke-width="1.0" stroke-linecap="round" fill="none"/>
<path d="M287.9 394.1h0M287.6 396.1h0M287.2 397.4h0M279.3 395.8h0M286.6 390.1h0M288.8 397.4h0M284.7 395.6h0M294.4 396.1h0M294.1 393.2h0M292.8 396.4h0M283.4 392.3h0M287.5 394.7h0M286.3 396.3h0M293.4 393.2h0M293.2 395.7h0M292.6 397.5h0M286.3 395.9h0M289.1 399.8h0M291.4 391.6h0M292.6 397.7h0M282.8 396.3h0M288.3 399.7h0M286.8 398.8h0M285.4 397.4h0M289.4 392.2h0M291.9 391.2h0M285.8 395.7h0M288.9 394.9h0M287.3 391.8h0M282.6 395.6h0M286.0 394.5h0M283.4 392.2h0M290.1 394.0h0M290.0 394.0h0M288.5 393.8h0M286.6 391.9h0M280.9 394.5h0M282.4 396.0h0M290.0 394.7h0M286.2 392.0h0M293.0 392.7h0M281.4 397.0h0M291.2 393.7h0M282.1 395.7h0M287.2 396.4h0M293.5 392.1h0M282.6 397.0h0M292.3 392.0h0M289.1 393.2h0M284.0 391.3h0M281.5 392.8h0M292.4 391.7h0M284.1 398.8h0M289.8 390.5h0M288.9 394.4h0" stroke="#c9c9c9" stroke-width="1.2" stroke-linecap="round" fill="none"/>
<path d="M288.0 397.7h0M287.7 398.8h0M279.4 395.3h0M287.7 396.5h0M281.6 398.0h0M291.9 397.1h0M294.3 394.1h0M283.8 391.2h0M284.0 395.5h0M289.7 392.3h0M290.4 396.4h0M288.8 390.6h0M291.4 398.2h0M286.1 391.2h0M287.3 396.8h0M285.4 395.4h0M285.3 396.3h0M293.9 393.6h0M285.9 393.0h0M284.8 395.6h0M283.4 395.3h0M283.5 395.2h0M281.3 392.0h0M283.2 394.9h0M291.2 393.6h0M287.3 394.4h0M284.8 396.0h0M280.8 396.6h0M284.1 393.5h0M286.4 390.8h0M293.4 395.9h0M293.9 397.2h0M281.8 393.7h0M284.5 396.5h0M289.5 390.8h0M284.9 396.5h0M287.5 392.8h0M285.3 391.7h0M288.6 397.9h0M286.1 393.5h0M282.6 396.9h0M282.7 391.7h0M281.5 395.2h0M281.2 394.4h0M280.2 396.1h0M286.1 398.1h0M284.6 391.3h0M294.9 394.4h0M281.2 393.1h0M287.6 391.4h0M281.3 393.7h0M294.6 395.5h0M284.3 397.0h0M292.8 391.9h0M287.9 394.4h0M285.1 393.0h0" stroke="#c9c9c9" stroke-width="1.0" stroke-linecap="round" fill="none"/>
<path d="M291.5 396.9h0M282.1 392.7h0M287.9 399.5h0M285.7 391.3h0M283.3 393.7h0M286.4 395.4h0M286.6 391.2h0M283.0 398.6h0M282.4 393.3h0M288.0 397.3h0M290.8 394.3h0M292.2 395.9h0M289.7 395.1h0M281.1 392.0h0M280.3 393.0h0M285.4 399.0h0M281.4 391.7h0M289.0 394.4h0M281.3 395.4h0M281.5 395.2h0M289.7 399.2h0M294.9 395.3h0M282.2 394.9h0M293.5 392.5h0M287.6 393.2h0M290.8 393.8h0M287.4 395.3h0M281.0 397.2h0M293.8 393.1h0" stroke="#c9c9c9" stroke-width="0.8" stroke-linecap="round" fill="none"/>
<path d="M268.7 381.9h0M264.1 378.6h0M267.5 377.6h0M271.0 379.1h0M271.2 380.6h0M270.3 380.8h0M265.9 376.7h0M268.8 380.5h0M273.4 378.5h0" stroke="#c9c9c9" stroke-width="1.2" stroke-linecap="round" fill="none"/>
<path d="M268.4 377.4h0M265.0 383.4h0M271.5 379.7h0M270.4 377.9h0M272.1 380.4h0M272.6 382.0h0M268.7 377.6h0M268.3 378.5h0M270.5 383.3h0M271.5 377.4h0" stroke="#c9c9c9" stroke-width="1.0" stroke-linecap="round" fill="none"/>
<path d="M271.7 379.5h0M273.3 381.7h0M268.0 382.0h0M267.8 380.4h0M264.7 377.7h0M272.3 381.9h0M272.4 380.2h0M271.9 378.5h0M271.8 379.5h0M263.3 378.3h0M263.8 382.5h0" stroke="#c9c9c9" stroke-width="0.8" stroke-linecap="round" fill="none"/>
<path d="M274.1 394.4h0M275.2 392.6h0M277.1 395.4h0M277.4 391.2h0M275.6 391.6h0M272.4 391.3h0M277.3 393.0h0M275.2 395.5h0M271.2 393.2h0M272.0 393.8h0M273.5 391.8h0M274.2 393.1h0M273.5 395.2h0M278.6 392.1h0M272.3 392.4h0M274.5 393.4h0M276.1 394.0h0M271.2 393.2h0M273.8 390.3h0M276.2 391.9h0M276.9 392.7h0M278.0 390.9h0M274.0 393.6h0" stroke="#c8b0e0" stroke-width="1.0" stroke-linecap="round" fill="none"/>
<path d="M273.3 393.5h0M274.4 389.6h0M272.8 392.4h0M278.1 391.4h0M276.1 392.3h0M278.8 391.6h0M273.8 394.2h0" stroke="#c8b0e0" stroke-width="1.2" stroke-linecap="round" fill="none"/>
<path d="M277.1 390.4h0M272.2 391.8h0M275.1 392.6h0M278.7 393.5h0M275.8 392.5h0M275.0 390.1h0M276.1 390.6h0M277.3 391.2h0M276.1 391.5h0M278.9 392.8h0M273.2 390.3h0M272.4 393.5h0M272.9 393.5h0M271.3 393.0h0M277.8 393.6h0" stroke="#c8b0e0" stroke-width="0.8" stroke-linecap="round" fill="none"/>
<path d="M273.3 394.3h0M275.5 394.5h0M273.3 392.3h0M274.3 392.9h0M276.7 394.2h0M277.2 393.2h0M273.9 390.8h0M276.4 394.0h0M276.9 393.3h0M275.7 394.2h0M274.0 394.7h0M275.0 391.8h0M274.3 390.7h0M274.0 394.4h0M274.4 392.5h0M276.0 392.1h0M274.1 394.0h0M277.4 392.6h0M273.8 394.3h0M272.6 392.0h0M275.3 393.6h0M276.5 392.6h0" stroke="#4b1a6e" stroke-width="1.0" stroke-linecap="round" fill="none"/>
<path d="M275.6 393.1h0M274.8 392.0h0M274.1 391.2h0M274.9 393.6h0M274.4 391.2h0M277.5 392.2h0M276.7 393.9h0M275.9 391.2h0M273.4 392.5h0" stroke="#4b1a6e" stroke-width="1.2" stroke-linecap="round" fill="none"/>
<path d="M274.8 390.9h0M275.2 394.6h0M277.1 392.6h0M276.5 391.6h0M274.2 392.0h0M275.8 391.2h0M275.0 391.0h0" stroke="#4b1a6e" stroke-width="0.8" stroke-linecap="round" fill="none"/>
<path d="M287.8 383.6h0M286.9 384.4h0M286.7 384.4h0" stroke="#6a3a8a" stroke-width="0.8" stroke-linecap="round" fill="none"/>
<path d="M287.5 385.0h0M286.5 383.6h0M287.3 385.0h0M286.3 383.7h0" stroke="#6a3a8a" stroke-width="1.0" stroke-linecap="round" fill="none"/>
<path d="M288.2 384.6h0" stroke="#6a3a8a" stroke-width="1.2" stroke-linecap="round" fill="none"/>
</g>
<rect x="253.60" y="307.50" width="51.10" height="46.20" fill="none" stroke="#333" stroke-width="0.8"/>
<rect x="253.60" y="356.20" width="51.10" height="47.30" fill="none" stroke="#333" stroke-width="0.8"/>
<text x="248.20" y="330.80" font-size="6.5" text-anchor="middle" dominant-baseline="central" fill="#d8466a" stroke="#d8466a" stroke-width="0.2" transform="rotate(-90 248.20 330.80)">pBIC</text>
<text x="248.20" y="383.05" font-size="6.5" text-anchor="middle" fill="#4d7db5" stroke="#4d7db5" stroke-width="0.2" transform="rotate(-90 248.20 380.80)">pBIC<tspan font-size="3.6" dy="-2.2">Δ/Δ</tspan></text>
<line x1="241.60" y1="411.20" x2="241.60" y2="398.00" stroke="#222" stroke-width="0.7"/>
<path d="M240.3,399 L241.6,396.2 L242.9,399 Z" stroke="none" fill="#222" stroke-width="0.8"/>
<line x1="241.60" y1="411.20" x2="257.00" y2="411.20" stroke="#222" stroke-width="0.7"/>
<path d="M256,409.9 L258.7,411.2 L256,412.5 Z" stroke="none" fill="#222" stroke-width="0.8"/>
<text x="237.70" y="403.10" font-size="4.5" text-anchor="middle" dominant-baseline="central" fill="#444" stroke="#444" stroke-width="0.2" transform="rotate(-90 237.70 403.10)">tSNE-2</text>
<text x="249.20" y="416.90" font-size="4.5" text-anchor="middle" dominant-baseline="central" fill="#444" stroke="#444" stroke-width="0.2">tSNE-1</text>
<circle cx="334.30" cy="299.50" r="1.80" fill="#c8c8c8"/>
<text x="338.50" y="299.50" font-size="6.8" text-anchor="start" dominant-baseline="central" fill="#282828" stroke="#282828" stroke-width="0.2">other</text>
<circle cx="334.30" cy="306.50" r="1.80" fill="#a585b5"/>
<text x="338.50" y="309.36" font-size="6.8" text-anchor="start" fill="#282828" stroke="#282828" stroke-width="0.2" font-style="italic">Tcf1<tspan font-size="4.2" dy="-2.2">+</tspan><tspan dy="2.2"> Pd1</tspan><tspan font-size="4.2" dy="-2.2">int</tspan></text>
<circle cx="334.30" cy="313.30" r="1.80" fill="#3d1a4f"/>
<text x="338.50" y="316.26" font-size="6.8" text-anchor="start" fill="#282828" stroke="#282828" stroke-width="0.2" font-style="italic">Tcf1<tspan font-size="4.2" dy="-2.2">+</tspan><tspan dy="2.2"> Pd1</tspan><tspan font-size="4.2" dy="-2.2">low</tspan></text>
<rect x="344.20" y="325.80" width="5.70" height="50.70" fill="#c6c6c6"/>
<rect x="344.20" y="376.50" width="5.70" height="8.79" fill="#a585b5"/>
<rect x="344.20" y="385.29" width="5.70" height="8.11" fill="#4a1c5c"/>
<rect x="353.80" y="325.80" width="5.70" height="62.19" fill="#c6c6c6"/>
<rect x="353.80" y="387.99" width="5.70" height="1.35" fill="#a585b5"/>
<rect x="353.80" y="389.34" width="5.70" height="4.06" fill="#4a1c5c"/>
<line x1="341.20" y1="325.00" x2="341.20" y2="393.60" stroke="#1a1a1a" stroke-width="1.1"/>
<line x1="339.20" y1="325.80" x2="341.20" y2="325.80" stroke="#1a1a1a" stroke-width="1.1"/>
<text x="336.70" y="325.80" font-size="7.02" text-anchor="end" dominant-baseline="central" fill="#3a3a3a" stroke="#3a3a3a" stroke-width="0.2" textLength="10.01" lengthAdjust="spacingAndGlyphs">100</text>
<line x1="339.20" y1="359.60" x2="341.20" y2="359.60" stroke="#1a1a1a" stroke-width="1.1"/>
<text x="336.70" y="359.60" font-size="7.02" text-anchor="end" dominant-baseline="central" fill="#3a3a3a" stroke="#3a3a3a" stroke-width="0.2" textLength="6.67" lengthAdjust="spacingAndGlyphs">50</text>
<line x1="339.20" y1="393.40" x2="341.20" y2="393.40" stroke="#1a1a1a" stroke-width="1.1"/>
<text x="336.70" y="393.40" font-size="7.02" text-anchor="end" dominant-baseline="central" fill="#3a3a3a" stroke="#3a3a3a" stroke-width="0.2" textLength="3.34" lengthAdjust="spacingAndGlyphs">0</text>
<line x1="341.20" y1="393.60" x2="361.80" y2="393.60" stroke="#1a1a1a" stroke-width="1.1"/>
<line x1="347.05" y1="393.60" x2="347.05" y2="395.60" stroke="#1a1a1a" stroke-width="1.1"/>
<line x1="356.65" y1="393.60" x2="356.65" y2="395.60" stroke="#1a1a1a" stroke-width="1.1"/>
<text x="317.20" y="359.00" font-size="8.0" text-anchor="middle" dominant-baseline="central" fill="#474747" stroke="#474747" stroke-width="0.2" transform="rotate(-90 317.20 359.00)" textLength="45" lengthAdjust="spacingAndGlyphs">% of CD8 cells</text>
<text x="347.15" y="402.80" font-size="7.0" text-anchor="end" dominant-baseline="central" fill="#d8466a" stroke="#d8466a" stroke-width="0.2" transform="rotate(-48 347.15 402.80)" textLength="13.6" lengthAdjust="spacingAndGlyphs">pBIC</text>
<text x="356.75" y="405.23" font-size="7.0" text-anchor="end" fill="#4d7db5" stroke="#4d7db5" stroke-width="0.2" transform="rotate(-48 356.75 402.80)" textLength="20.5" lengthAdjust="spacingAndGlyphs">pBIC<tspan font-size="4.6" dy="-2.4">Δ/Δ</tspan></text>
<text x="389.30" y="293.60" font-size="11.2" text-anchor="start" dominant-baseline="central" fill="#111" font-weight="bold" stroke="#111" stroke-width="0.55">J</text>
<circle cx="425.00" cy="302.90" r="1.60" fill="#a09aa6"/>
<text x="429.50" y="305.26" font-size="6.8" text-anchor="start" fill="#282828" stroke="#282828" stroke-width="0.2">TCF-1<tspan font-size="4.2" dy="-2.2">+</tspan><tspan dy="2.2"> PD-1</tspan><tspan font-size="4.2" dy="-2.2">int</tspan></text>
<circle cx="425.00" cy="309.10" r="1.60" fill="#2a1a32"/>
<text x="429.50" y="311.46" font-size="6.8" text-anchor="start" fill="#282828" stroke="#282828" stroke-width="0.2">TCF-1<tspan font-size="4.2" dy="-2.2">+</tspan><tspan dy="2.2"> PD-1</tspan><tspan font-size="4.2" dy="-2.2">low</tspan></text>
<line x1="421.40" y1="317.00" x2="421.40" y2="389.50" stroke="#1a1a1a" stroke-width="1.1"/>
<line x1="419.40" y1="317.90" x2="421.40" y2="317.90" stroke="#1a1a1a" stroke-width="1.1"/>
<text x="417.90" y="317.90" font-size="7.02" text-anchor="end" dominant-baseline="central" fill="#3a3a3a" stroke="#3a3a3a" stroke-width="0.2" textLength="6.67" lengthAdjust="spacingAndGlyphs">20</text>
<line x1="419.40" y1="335.75" x2="421.40" y2="335.75" stroke="#1a1a1a" stroke-width="1.1"/>
<text x="417.90" y="335.75" font-size="7.02" text-anchor="end" dominant-baseline="central" fill="#3a3a3a" stroke="#3a3a3a" stroke-width="0.2" textLength="6.67" lengthAdjust="spacingAndGlyphs">15</text>
<line x1="419.40" y1="353.60" x2="421.40" y2="353.60" stroke="#1a1a1a" stroke-width="1.1"/>
<text x="417.90" y="353.60" font-size="7.02" text-anchor="end" dominant-baseline="central" fill="#3a3a3a" stroke="#3a3a3a" stroke-width="0.2" textLength="6.67" lengthAdjust="spacingAndGlyphs">10</text>
<line x1="419.40" y1="371.45" x2="421.40" y2="371.45" stroke="#1a1a1a" stroke-width="1.1"/>
<text x="417.90" y="371.45" font-size="7.02" text-anchor="end" dominant-baseline="central" fill="#3a3a3a" stroke="#3a3a3a" stroke-width="0.2" textLength="3.34" lengthAdjust="spacingAndGlyphs">5</text>
<line x1="419.40" y1="389.30" x2="421.40" y2="389.30" stroke="#1a1a1a" stroke-width="1.1"/>
<text x="417.90" y="389.30" font-size="7.02" text-anchor="end" dominant-baseline="central" fill="#3a3a3a" stroke="#3a3a3a" stroke-width="0.2" textLength="3.34" lengthAdjust="spacingAndGlyphs">0</text>
<line x1="421.40" y1="389.50" x2="470.80" y2="389.50" stroke="#1a1a1a" stroke-width="1.1"/>
<line x1="427.60" y1="389.50" x2="427.60" y2="391.50" stroke="#1a1a1a" stroke-width="1.1"/>
<line x1="437.30" y1="389.50" x2="437.30" y2="391.50" stroke="#1a1a1a" stroke-width="1.1"/>
<line x1="454.90" y1="389.50" x2="454.90" y2="391.50" stroke="#1a1a1a" stroke-width="1.1"/>
<line x1="464.60" y1="389.50" x2="464.60" y2="391.50" stroke="#1a1a1a" stroke-width="1.1"/>
<text x="402.00" y="352.30" font-size="8.0" text-anchor="middle" dominant-baseline="central" fill="#474747" stroke="#474747" stroke-width="0.2" transform="rotate(-90 402.00 352.30)" textLength="45" lengthAdjust="spacingAndGlyphs">% of CD8 cells</text>
<line x1="427.60" y1="347.17" x2="427.60" y2="375.38" stroke="#777" stroke-width="0.5"/>
<rect x="424.55" y="347.17" width="6.10" height="26.06" fill="#8a6a98"/>
<circle cx="424.60" cy="347.53" r="1.50" fill="#3a1a4a" stroke="#2a0f38" stroke-width="0.5"/>
<circle cx="430.10" cy="347.53" r="1.50" fill="#3a1a4a" stroke="#2a0f38" stroke-width="0.5"/>
<circle cx="427.60" cy="362.17" r="1.50" fill="#3a1a4a" stroke="#2a0f38" stroke-width="0.5"/>
<circle cx="427.10" cy="371.45" r="1.50" fill="#3a1a4a" stroke="#2a0f38" stroke-width="0.5"/>
<circle cx="427.60" cy="375.38" r="1.50" fill="#3a1a4a" stroke="#2a0f38" stroke-width="0.5"/>
<line x1="437.30" y1="375.38" x2="437.30" y2="389.30" stroke="#777" stroke-width="0.5"/>
<rect x="434.60" y="381.09" width="5.40" height="8.21" fill="#8a6a98"/>
<circle cx="437.30" cy="375.38" r="1.30" fill="#3a1a4a" stroke="#2a0f38" stroke-width="0.5"/>
<circle cx="435.80" cy="382.16" r="1.30" fill="#3a1a4a" stroke="#2a0f38" stroke-width="0.5"/>
<circle cx="438.80" cy="383.94" r="1.30" fill="#3a1a4a" stroke="#2a0f38" stroke-width="0.5"/>
<circle cx="436.30" cy="385.73" r="1.30" fill="#3a1a4a" stroke="#2a0f38" stroke-width="0.5"/>
<circle cx="438.30" cy="387.51" r="1.30" fill="#3a1a4a" stroke="#2a0f38" stroke-width="0.5"/>
<circle cx="437.30" cy="388.23" r="1.30" fill="#3a1a4a" stroke="#2a0f38" stroke-width="0.5"/>
<path d="M427.60,339.00 L427.60,335.50 L437.60,335.50 L437.60,351.40" stroke="#444" fill="none" stroke-width="0.85"/>
<text x="432.60" y="334.10" font-size="7.6" text-anchor="middle" dominant-baseline="central" fill="#333" stroke="#333" stroke-width="0.2">**</text>
<line x1="454.90" y1="334.68" x2="454.90" y2="379.30" stroke="#777" stroke-width="0.5"/>
<rect x="452.00" y="342.89" width="5.80" height="32.13" fill="#dccce4"/>
<circle cx="454.90" cy="334.68" r="1.50" fill="#b8a4c4" stroke="#4a3a58" stroke-width="0.6"/>
<circle cx="454.90" cy="350.03" r="1.50" fill="#b8a4c4" stroke="#4a3a58" stroke-width="0.6"/>
<circle cx="454.90" cy="359.67" r="1.50" fill="#b8a4c4" stroke="#4a3a58" stroke-width="0.6"/>
<circle cx="454.90" cy="371.45" r="1.50" fill="#b8a4c4" stroke="#4a3a58" stroke-width="0.6"/>
<circle cx="454.90" cy="379.30" r="1.50" fill="#b8a4c4" stroke="#4a3a58" stroke-width="0.6"/>
<circle cx="465.10" cy="382.87" r="1.50" fill="#c8b8d0" stroke="#4a3a58" stroke-width="0.6"/>
<circle cx="463.60" cy="385.02" r="1.50" fill="#c8b8d0" stroke="#4a3a58" stroke-width="0.6"/>
<circle cx="465.60" cy="387.51" r="1.50" fill="#c8b8d0" stroke="#4a3a58" stroke-width="0.6"/>
<path d="M454.90,329.40 L454.90,327.60 L464.60,327.60 L464.60,347.90" stroke="#444" fill="none" stroke-width="0.85"/>
<text x="459.75" y="326.20" font-size="7.6" text-anchor="middle" dominant-baseline="central" fill="#333" stroke="#333" stroke-width="0.2">**</text>
<text x="427.70" y="398.30" font-size="7.0" text-anchor="end" dominant-baseline="central" fill="#d8466a" stroke="#d8466a" stroke-width="0.2" transform="rotate(-48 427.70 398.30)" textLength="13.6" lengthAdjust="spacingAndGlyphs">pBIC</text>
<text x="437.40" y="400.73" font-size="7.0" text-anchor="end" fill="#4d7db5" stroke="#4d7db5" stroke-width="0.2" transform="rotate(-48 437.40 398.30)" textLength="20.5" lengthAdjust="spacingAndGlyphs">pBIC<tspan font-size="4.6" dy="-2.4">Δ/Δ</tspan></text>
<text x="455.00" y="398.30" font-size="7.0" text-anchor="end" dominant-baseline="central" fill="#d8466a" stroke="#d8466a" stroke-width="0.2" transform="rotate(-48 455.00 398.30)" textLength="13.6" lengthAdjust="spacingAndGlyphs">pBIC</text>
<text x="464.70" y="400.73" font-size="7.0" text-anchor="end" fill="#4d7db5" stroke="#4d7db5" stroke-width="0.2" transform="rotate(-48 464.70 398.30)" textLength="20.5" lengthAdjust="spacingAndGlyphs">pBIC<tspan font-size="4.6" dy="-2.4">Δ/Δ</tspan></text>
<text x="7.00" y="442.60" font-size="11.2" text-anchor="start" dominant-baseline="central" fill="#111" font-weight="bold" stroke="#111" stroke-width="0.55">K</text>
<text x="68.10" y="461.20" font-size="6.5" text-anchor="middle" dominant-baseline="central" fill="#222" stroke="#222" stroke-width="0.2">αCD20</text>
<text x="68.10" y="468.30" font-size="6.0" text-anchor="middle" dominant-baseline="central" fill="#aaa" stroke="#aaa" stroke-width="0.2">VS</text>
<text x="68.10" y="477.30" font-size="6.5" text-anchor="middle" dominant-baseline="central" fill="#222" stroke="#222" stroke-width="0.2">αCD20+αPD-1</text>
<text x="68.10" y="485.40" font-size="6.3" text-anchor="middle" dominant-baseline="central" fill="#b5b5b5" stroke="#b5b5b5" stroke-width="0.2" font-style="italic">(i.p. 10 mg/kg)</text>
<text x="32.30" y="484.20" font-size="6.5" text-anchor="middle" dominant-baseline="central" fill="#d8466a" stroke="#d8466a" stroke-width="0.2">pBIC</text>
<text x="32.30" y="491.80" font-size="6.5" text-anchor="middle" dominant-baseline="central" fill="#d8466a" stroke="#d8466a" stroke-width="0.2" font-style="italic">[t = 210d]</text>
<text x="32.30" y="527.35" font-size="6.5" text-anchor="middle" fill="#4d7db5" stroke="#4d7db5" stroke-width="0.2">pBIC<tspan font-size="3.6" dy="-2.2">Δ/Δ</tspan></text>
<text x="32.30" y="533.40" font-size="6.5" text-anchor="middle" dominant-baseline="central" fill="#4d7db5" stroke="#4d7db5" stroke-width="0.2" font-style="italic">[t = 110d]</text>
<ellipse cx="31.50" cy="499.70" rx="5.0" ry="2.9" fill="#c8102e"/>
<circle cx="27.30" cy="499.50" r="2.30" fill="#c8102e"/>
<circle cx="28.50" cy="497.40" r="1.30" fill="#c8102e"/>
<path d="M35.40,501.40 q2,0.8 4.5,0.6" stroke="#e8a0a8" fill="none" stroke-width="0.7"/>
<ellipse cx="31.50" cy="514.60" rx="5.0" ry="2.9" fill="#1f4e8c"/>
<circle cx="27.30" cy="514.40" r="2.30" fill="#1f4e8c"/>
<circle cx="28.50" cy="512.30" r="1.30" fill="#1f4e8c"/>
<path d="M35.40,516.30 q2,0.8 4.5,0.6" stroke="#8aa0b8" fill="none" stroke-width="0.7"/>
<line x1="18.80" y1="506.80" x2="46.70" y2="506.80" stroke="#7f9290" stroke-width="1.0" stroke-dasharray="2.4 3.9"/>
<line x1="46.70" y1="506.50" x2="104.50" y2="506.50" stroke="#222" stroke-width="0.8"/>
<path d="M102.5,505.2 L105.2,506.5 L102.5,507.8 Z" stroke="none" fill="#222" stroke-width="0.8"/>
<rect x="47.30" y="508.60" width="44.60" height="5.20" fill="#111"/>
<text x="52.90" y="511.20" font-size="3.4" text-anchor="middle" dominant-baseline="central" fill="#fff" stroke="#fff" stroke-width="0.2">wk 1</text>
<text x="64.10" y="511.20" font-size="3.4" text-anchor="middle" dominant-baseline="central" fill="#fff" stroke="#fff" stroke-width="0.2">wk 2</text>
<text x="75.20" y="511.20" font-size="3.4" text-anchor="middle" dominant-baseline="central" fill="#fff" stroke="#fff" stroke-width="0.2">wk 3</text>
<text x="86.40" y="511.20" font-size="3.4" text-anchor="middle" dominant-baseline="central" fill="#fff" stroke="#fff" stroke-width="0.2">wk 4</text>
<line x1="47.60" y1="501.80" x2="47.60" y2="513.80" stroke="#222" stroke-width="0.6"/>
<line x1="58.80" y1="501.80" x2="58.80" y2="513.80" stroke="#222" stroke-width="0.6"/>
<line x1="69.80" y1="501.80" x2="69.80" y2="513.80" stroke="#222" stroke-width="0.6"/>
<line x1="80.60" y1="501.80" x2="80.60" y2="513.80" stroke="#222" stroke-width="0.6"/>
<line x1="91.60" y1="501.80" x2="91.60" y2="513.80" stroke="#222" stroke-width="0.6"/>
<line x1="55.10" y1="496.30" x2="51.70" y2="499.60" stroke="#222" stroke-width="1.1"/>
<line x1="55.90" y1="495.60" x2="54.90" y2="496.60" stroke="#222" stroke-width="0.5"/>
<line x1="66.00" y1="496.30" x2="62.60" y2="499.60" stroke="#222" stroke-width="1.1"/>
<line x1="66.80" y1="495.60" x2="65.80" y2="496.60" stroke="#222" stroke-width="0.5"/>
<line x1="76.60" y1="496.30" x2="73.20" y2="499.60" stroke="#222" stroke-width="1.1"/>
<line x1="77.40" y1="495.60" x2="76.40" y2="496.60" stroke="#222" stroke-width="0.5"/>
<line x1="87.40" y1="496.30" x2="84.00" y2="499.60" stroke="#222" stroke-width="1.1"/>
<line x1="88.20" y1="495.60" x2="87.20" y2="496.60" stroke="#222" stroke-width="0.5"/>
<circle cx="107.30" cy="506.50" r="3.90" fill="none" stroke="#999" stroke-width="0.6"/>
<line x1="105.50" y1="510.00" x2="95.00" y2="522.00" stroke="#aaa" stroke-width="0.5"/>
<line x1="109.50" y1="510.00" x2="112.00" y2="520.00" stroke="#aaa" stroke-width="0.5"/>
<text x="99.20" y="525.10" font-size="6.3" text-anchor="middle" dominant-baseline="central" fill="#b5b5b5" stroke="#b5b5b5" stroke-width="0.2" font-style="italic">follow-up</text>
<text x="87.70" y="532.70" font-size="6.3" text-anchor="middle" dominant-baseline="central" fill="#b5b5b5" stroke="#b5b5b5" stroke-width="0.2" font-style="italic">(until exitus, OS)</text>
<rect x="155.50" y="453.50" width="8.10" height="83.50" fill="#c8c8c8"/>
<line x1="154.30" y1="529.44" x2="155.50" y2="529.44" stroke="#282828" stroke-width="0.6"/>
<line x1="154.30" y1="514.32" x2="155.50" y2="514.32" stroke="#282828" stroke-width="0.6"/>
<line x1="154.30" y1="499.20" x2="155.50" y2="499.20" stroke="#282828" stroke-width="0.6"/>
<line x1="154.30" y1="484.08" x2="155.50" y2="484.08" stroke="#282828" stroke-width="0.6"/>
<line x1="154.30" y1="468.96" x2="155.50" y2="468.96" stroke="#282828" stroke-width="0.6"/>
<line x1="155.50" y1="451.50" x2="155.50" y2="537.10" stroke="#1a1a1a" stroke-width="1.1"/>
<line x1="153.50" y1="461.40" x2="155.50" y2="461.40" stroke="#1a1a1a" stroke-width="1.1"/>
<text x="151.20" y="461.40" font-size="7.02" text-anchor="end" dominant-baseline="central" fill="#3a3a3a" stroke="#3a3a3a" stroke-width="0.2" textLength="10.01" lengthAdjust="spacingAndGlyphs">100</text>
<line x1="153.50" y1="476.52" x2="155.50" y2="476.52" stroke="#1a1a1a" stroke-width="1.1"/>
<text x="151.20" y="476.52" font-size="7.02" text-anchor="end" dominant-baseline="central" fill="#3a3a3a" stroke="#3a3a3a" stroke-width="0.2" textLength="6.67" lengthAdjust="spacingAndGlyphs">80</text>
<line x1="153.50" y1="491.64" x2="155.50" y2="491.64" stroke="#1a1a1a" stroke-width="1.1"/>
<text x="151.20" y="491.64" font-size="7.02" text-anchor="end" dominant-baseline="central" fill="#3a3a3a" stroke="#3a3a3a" stroke-width="0.2" textLength="6.67" lengthAdjust="spacingAndGlyphs">60</text>
<line x1="153.50" y1="506.76" x2="155.50" y2="506.76" stroke="#1a1a1a" stroke-width="1.1"/>
<text x="151.20" y="506.76" font-size="7.02" text-anchor="end" dominant-baseline="central" fill="#3a3a3a" stroke="#3a3a3a" stroke-width="0.2" textLength="6.67" lengthAdjust="spacingAndGlyphs">40</text>
<line x1="153.50" y1="521.88" x2="155.50" y2="521.88" stroke="#1a1a1a" stroke-width="1.1"/>
<text x="151.20" y="521.88" font-size="7.02" text-anchor="end" dominant-baseline="central" fill="#3a3a3a" stroke="#3a3a3a" stroke-width="0.2" textLength="6.67" lengthAdjust="spacingAndGlyphs">20</text>
<line x1="153.50" y1="537.00" x2="155.50" y2="537.00" stroke="#1a1a1a" stroke-width="1.1"/>
<text x="151.20" y="537.00" font-size="7.02" text-anchor="end" dominant-baseline="central" fill="#3a3a3a" stroke="#3a3a3a" stroke-width="0.2" textLength="3.34" lengthAdjust="spacingAndGlyphs">0</text>
<line x1="155.40" y1="537.10" x2="282.70" y2="537.10" stroke="#1a1a1a" stroke-width="1.1"/>
<line x1="155.40" y1="537.10" x2="155.40" y2="539.10" stroke="#1a1a1a" stroke-width="1.1"/>
<line x1="186.61" y1="537.10" x2="186.61" y2="539.10" stroke="#1a1a1a" stroke-width="1.1"/>
<line x1="217.82" y1="537.10" x2="217.82" y2="539.10" stroke="#1a1a1a" stroke-width="1.1"/>
<line x1="249.03" y1="537.10" x2="249.03" y2="539.10" stroke="#1a1a1a" stroke-width="1.1"/>
<line x1="280.24" y1="537.10" x2="280.24" y2="539.10" stroke="#1a1a1a" stroke-width="1.1"/>
<text x="155.40" y="546.40" font-size="7.254" text-anchor="middle" dominant-baseline="central" fill="#3a3a3a" stroke="#3a3a3a" stroke-width="0.2" textLength="3.45" lengthAdjust="spacingAndGlyphs">0</text>
<text x="186.61" y="546.40" font-size="7.254" text-anchor="middle" dominant-baseline="central" fill="#3a3a3a" stroke="#3a3a3a" stroke-width="0.2" textLength="10.34" lengthAdjust="spacingAndGlyphs">100</text>
<text x="217.82" y="546.40" font-size="7.254" text-anchor="middle" dominant-baseline="central" fill="#3a3a3a" stroke="#3a3a3a" stroke-width="0.2" textLength="10.34" lengthAdjust="spacingAndGlyphs">200</text>
<text x="249.03" y="546.40" font-size="7.254" text-anchor="middle" dominant-baseline="central" fill="#3a3a3a" stroke="#3a3a3a" stroke-width="0.2" textLength="10.34" lengthAdjust="spacingAndGlyphs">300</text>
<text x="280.24" y="546.40" font-size="7.254" text-anchor="middle" dominant-baseline="central" fill="#3a3a3a" stroke="#3a3a3a" stroke-width="0.2" textLength="10.34" lengthAdjust="spacingAndGlyphs">400</text>
<text x="218.60" y="557.80" font-size="7.9" text-anchor="middle" dominant-baseline="central" fill="#474747" stroke="#474747" stroke-width="0.2" textLength="83" lengthAdjust="spacingAndGlyphs">Time from treatment (days)</text>
<text x="131.30" y="494.40" font-size="7.9" text-anchor="middle" dominant-baseline="central" fill="#474747" stroke="#474747" stroke-width="0.2" transform="rotate(-90 131.30 494.40)" textLength="58" lengthAdjust="spacingAndGlyphs">Overall survival (%)</text>
<path d="M155.40,461.40 H157.90 V466.69 H163.20 V472.74 H183.65 V487.10 H194.91 V495.42 H197.53 V500.86 H202.71 V515.61 H214.70 V526.26 H229.99 V537.00" stroke="#b8193f" fill="none" stroke-width="1.5"/>
<path d="M155.40,461.40 H160.39 V465.94 H169.76 V470.47 H171.00 V472.74 H207.83 V480.60 H220.94 V513.03 H239.35 V525.13 H254.34 V537.00" stroke="#b8193f" fill="none" stroke-width="1.25" stroke-dasharray="3 1.7 1 1.7"/>
<path d="M198.5,495.5 Q207,486 216,494.5" stroke="#222" fill="none" stroke-width="0.6"/>
<path d="M214.2,493.2 L216.8,496.2 L217.2,492.6 Z" stroke="none" fill="#222" stroke-width="0.8"/>
<line x1="199.80" y1="452.10" x2="207.90" y2="452.10" stroke="#b8193f" stroke-width="1.3"/>
<text x="210.60" y="454.28" font-size="6.3" text-anchor="start" fill="#b8193f" stroke="#b8193f" stroke-width="0.2">αCD20 (<tspan font-style="italic">n</tspan> = 14)</text>
<line x1="199.80" y1="460.20" x2="207.90" y2="460.20" stroke="#b8193f" stroke-width="1.3" stroke-dasharray="3 1.7 1 1.7"/>
<text x="210.60" y="462.38" font-size="6.3" text-anchor="start" fill="#b8193f" stroke="#b8193f" stroke-width="0.2">αCD20+αPD-1 (<tspan font-style="italic">n</tspan> = 17)</text>
<text x="179.60" y="519.40" font-size="6.5" text-anchor="middle" dominant-baseline="central" fill="#b8193f" stroke="#b8193f" stroke-width="0.2">pBIC</text>
<text x="167.50" y="529.75" font-size="6.5" text-anchor="start" fill="#333" stroke="#333" stroke-width="0.2"><tspan font-style="italic">P</tspan> = .0206</text>
<path d="M157.5,452.5 L162,448.5" stroke="#222" fill="none" stroke-width="0.6"/>
<path d="M160.6,448.2 L162.6,447.8 L162.2,449.8 Z" stroke="none" fill="#222" stroke-width="0.8"/>
<text x="162.80" y="449.80" font-size="5.5" text-anchor="start" dominant-baseline="central" fill="#222" stroke="#222" stroke-width="0.2">×4</text>
<rect x="330.50" y="453.50" width="7.80" height="83.50" fill="#c8c8c8"/>
<line x1="329.30" y1="529.44" x2="330.50" y2="529.44" stroke="#282828" stroke-width="0.6"/>
<line x1="329.30" y1="514.32" x2="330.50" y2="514.32" stroke="#282828" stroke-width="0.6"/>
<line x1="329.30" y1="499.20" x2="330.50" y2="499.20" stroke="#282828" stroke-width="0.6"/>
<line x1="329.30" y1="484.08" x2="330.50" y2="484.08" stroke="#282828" stroke-width="0.6"/>
<line x1="329.30" y1="468.96" x2="330.50" y2="468.96" stroke="#282828" stroke-width="0.6"/>
<line x1="330.50" y1="451.50" x2="330.50" y2="537.10" stroke="#1a1a1a" stroke-width="1.1"/>
<line x1="328.50" y1="461.40" x2="330.50" y2="461.40" stroke="#1a1a1a" stroke-width="1.1"/>
<text x="326.20" y="461.40" font-size="7.02" text-anchor="end" dominant-baseline="central" fill="#3a3a3a" stroke="#3a3a3a" stroke-width="0.2" textLength="10.01" lengthAdjust="spacingAndGlyphs">100</text>
<line x1="328.50" y1="476.52" x2="330.50" y2="476.52" stroke="#1a1a1a" stroke-width="1.1"/>
<text x="326.20" y="476.52" font-size="7.02" text-anchor="end" dominant-baseline="central" fill="#3a3a3a" stroke="#3a3a3a" stroke-width="0.2" textLength="6.67" lengthAdjust="spacingAndGlyphs">80</text>
<line x1="328.50" y1="491.64" x2="330.50" y2="491.64" stroke="#1a1a1a" stroke-width="1.1"/>
<text x="326.20" y="491.64" font-size="7.02" text-anchor="end" dominant-baseline="central" fill="#3a3a3a" stroke="#3a3a3a" stroke-width="0.2" textLength="6.67" lengthAdjust="spacingAndGlyphs">60</text>
<line x1="328.50" y1="506.76" x2="330.50" y2="506.76" stroke="#1a1a1a" stroke-width="1.1"/>
<text x="326.20" y="506.76" font-size="7.02" text-anchor="end" dominant-baseline="central" fill="#3a3a3a" stroke="#3a3a3a" stroke-width="0.2" textLength="6.67" lengthAdjust="spacingAndGlyphs">40</text>
<line x1="328.50" y1="521.88" x2="330.50" y2="521.88" stroke="#1a1a1a" stroke-width="1.1"/>
<text x="326.20" y="521.88" font-size="7.02" text-anchor="end" dominant-baseline="central" fill="#3a3a3a" stroke="#3a3a3a" stroke-width="0.2" textLength="6.67" lengthAdjust="spacingAndGlyphs">20</text>
<line x1="328.50" y1="537.00" x2="330.50" y2="537.00" stroke="#1a1a1a" stroke-width="1.1"/>
<text x="326.20" y="537.00" font-size="7.02" text-anchor="end" dominant-baseline="central" fill="#3a3a3a" stroke="#3a3a3a" stroke-width="0.2" textLength="3.34" lengthAdjust="spacingAndGlyphs">0</text>
<line x1="330.50" y1="537.10" x2="458.40" y2="537.10" stroke="#1a1a1a" stroke-width="1.1"/>
<line x1="330.50" y1="537.10" x2="330.50" y2="539.10" stroke="#1a1a1a" stroke-width="1.1"/>
<line x1="361.30" y1="537.10" x2="361.30" y2="539.10" stroke="#1a1a1a" stroke-width="1.1"/>
<line x1="392.10" y1="537.10" x2="392.10" y2="539.10" stroke="#1a1a1a" stroke-width="1.1"/>
<line x1="422.90" y1="537.10" x2="422.90" y2="539.10" stroke="#1a1a1a" stroke-width="1.1"/>
<line x1="453.70" y1="537.10" x2="453.70" y2="539.10" stroke="#1a1a1a" stroke-width="1.1"/>
<text x="330.50" y="546.40" font-size="7.254" text-anchor="middle" dominant-baseline="central" fill="#3a3a3a" stroke="#3a3a3a" stroke-width="0.2" textLength="3.45" lengthAdjust="spacingAndGlyphs">0</text>
<text x="361.30" y="546.40" font-size="7.254" text-anchor="middle" dominant-baseline="central" fill="#3a3a3a" stroke="#3a3a3a" stroke-width="0.2" textLength="10.34" lengthAdjust="spacingAndGlyphs">100</text>
<text x="392.10" y="546.40" font-size="7.254" text-anchor="middle" dominant-baseline="central" fill="#3a3a3a" stroke="#3a3a3a" stroke-width="0.2" textLength="10.34" lengthAdjust="spacingAndGlyphs">200</text>
<text x="422.90" y="546.40" font-size="7.254" text-anchor="middle" dominant-baseline="central" fill="#3a3a3a" stroke="#3a3a3a" stroke-width="0.2" textLength="10.34" lengthAdjust="spacingAndGlyphs">300</text>
<text x="453.70" y="546.40" font-size="7.254" text-anchor="middle" dominant-baseline="central" fill="#3a3a3a" stroke="#3a3a3a" stroke-width="0.2" textLength="10.34" lengthAdjust="spacingAndGlyphs">400</text>
<text x="393.50" y="557.60" font-size="7.9" text-anchor="middle" dominant-baseline="central" fill="#474747" stroke="#474747" stroke-width="0.2" textLength="83.7" lengthAdjust="spacingAndGlyphs">Time from treatment (days)</text>
<text x="306.60" y="494.40" font-size="7.9" text-anchor="middle" dominant-baseline="central" fill="#474747" stroke="#474747" stroke-width="0.2" transform="rotate(-90 306.60 494.40)" textLength="58" lengthAdjust="spacingAndGlyphs">Overall survival (%)</text>
<path d="M330.50,461.40 H337.49 V465.18 H368.29 V472.44 H387.39 V479.54 H392.99 V495.72 H411.01 V505.40 H420.71 V520.37 H432.94 V537.00" stroke="#1f4e89" fill="none" stroke-width="1.5"/>
<path d="M330.50,461.40 H333.58 V462.16 H347.44 V469.72 H404.11 V480.00 H407.19 V492.70 H410.89 V504.19 H416.00 V520.37 H436.14 V537.00" stroke="#1f4e89" fill="none" stroke-width="1.25" stroke-dasharray="3 1.7 1 1.7"/>
<line x1="383.80" y1="451.30" x2="392.50" y2="451.30" stroke="#1f4e89" stroke-width="1.3"/>
<text x="396.00" y="453.48" font-size="6.3" text-anchor="start" fill="#1f4e89" stroke="#1f4e89" stroke-width="0.2">αCD20 (<tspan font-style="italic">n</tspan> = 16)</text>
<line x1="383.80" y1="460.20" x2="392.50" y2="460.20" stroke="#1f4e89" stroke-width="1.3" stroke-dasharray="3 1.7 1 1.7"/>
<text x="396.00" y="462.38" font-size="6.3" text-anchor="start" fill="#1f4e89" stroke="#1f4e89" stroke-width="0.2">αCD20+αPD-1 (<tspan font-style="italic">n</tspan> = 13)</text>
<text x="359.60" y="521.65" font-size="6.5" text-anchor="middle" fill="#4d7db5" stroke="#4d7db5" stroke-width="0.2">pBIC<tspan font-size="3.6" dy="-2.2">Δ/Δ</tspan></text>
<text x="344.80" y="529.75" font-size="6.5" text-anchor="start" fill="#333" stroke="#333" stroke-width="0.2"><tspan font-style="italic">P</tspan> = .3699</text>
<path d="M332.5,452.5 L337,448.5" stroke="#222" fill="none" stroke-width="0.6"/>
<path d="M335.6,448.2 L337.6,447.8 L337.2,449.8 Z" stroke="none" fill="#222" stroke-width="0.8"/>
<text x="337.80" y="449.80" font-size="5.5" text-anchor="start" dominant-baseline="central" fill="#222" stroke="#222" stroke-width="0.2">×4</text>
</svg><div id="bd"></div></div></body></html>
